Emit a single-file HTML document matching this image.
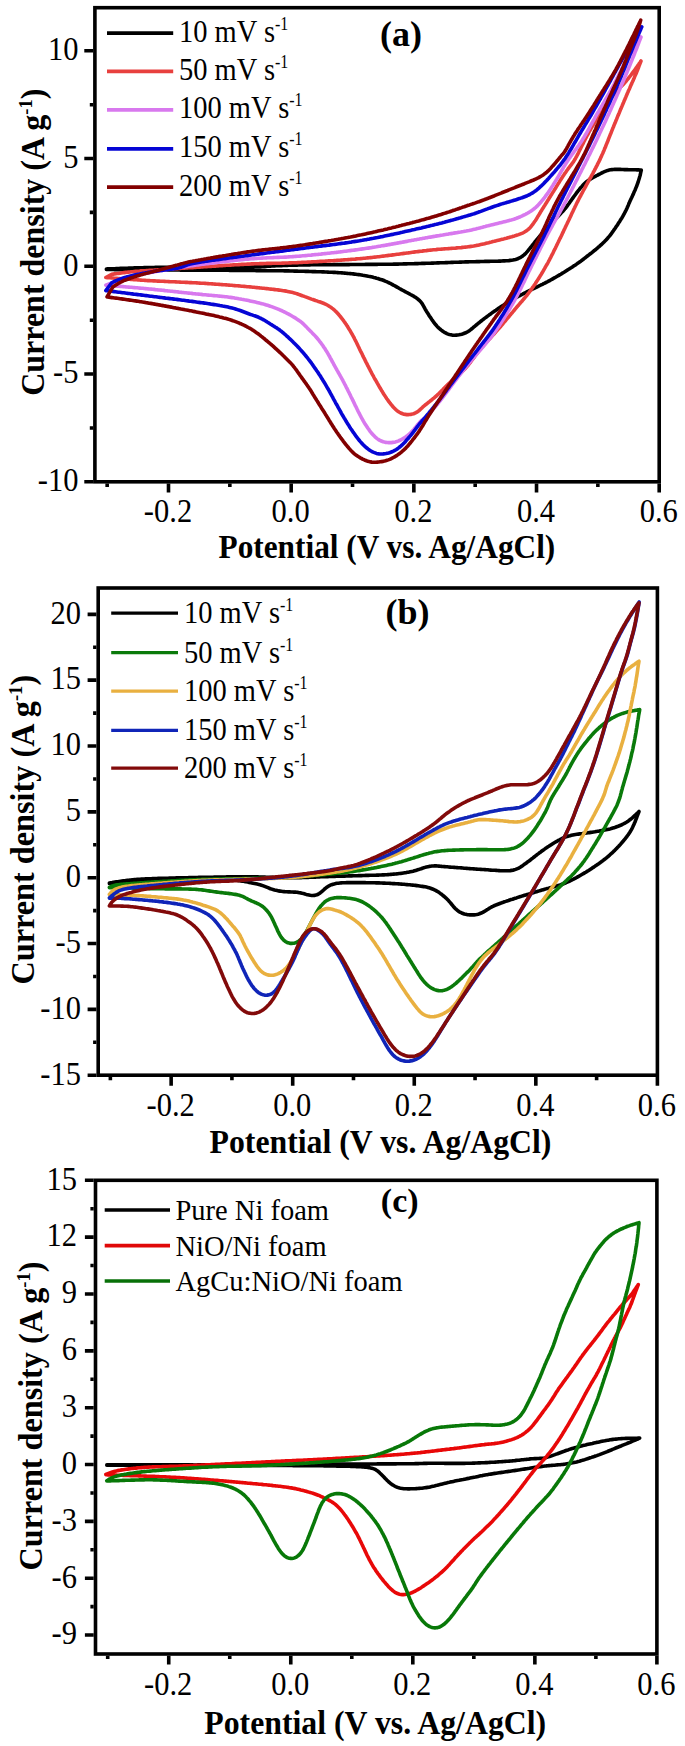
<!DOCTYPE html>
<html><head><meta charset="utf-8"><style>
html,body{margin:0;padding:0;background:#fff;}
svg{display:block;}
.t{font-family:"Liberation Serif", serif;font-size:30px;fill:#000;}
.tk{font-family:"Liberation Serif", serif;font-size:33px;fill:#000;}
.lg{font-family:"Liberation Serif", serif;font-size:32px;fill:#000;}
.lsup{font-size:18px;}
.lg30{font-family:"Liberation Serif", serif;font-size:30px;fill:#000;}
.b{font-family:"Liberation Serif", serif;font-size:33.5px;font-weight:bold;fill:#000;}
.yb{font-family:"Liberation Serif", serif;font-size:33px;font-weight:bold;fill:#000;}
.p{font-family:"Liberation Serif", serif;font-size:36px;font-weight:bold;fill:#000;}
.sup{font-size:19px;}
</style></head><body>
<svg width="685" height="1746" viewBox="0 0 685 1746">
<rect width="685" height="1746" fill="#fff"/>
<path d="M106.4 269.0L107.8 268.9 109.2 268.9 110.6 268.8 112.0 268.8 113.4 268.7 114.8 268.7 116.2 268.6 117.6 268.6 119.0 268.5 120.4 268.4 121.8 268.4 123.2 268.3 124.6 268.3 126.0 268.2 127.4 268.2 128.8 268.1 130.2 268.1 131.6 268.0 133.0 268.0 134.4 267.9 135.8 267.9 137.2 267.8 138.6 267.8 140.0 267.7 141.4 267.7 142.8 267.7 144.2 267.6 145.6 267.6 147.0 267.6 148.4 267.5 149.9 267.5 151.3 267.5 152.7 267.5 154.1 267.5 155.5 267.4 156.9 267.4 158.3 267.4 159.7 267.4 161.1 267.4 162.5 267.4 163.9 267.4 165.3 267.4 166.7 267.4 168.1 267.4 169.5 267.4 170.9 267.4 172.3 267.4 173.7 267.4 175.1 267.4 176.5 267.4 177.9 267.5 179.3 267.5 180.7 267.5 182.1 267.5 183.5 267.5 184.9 267.5 186.3 267.5 187.7 267.5 189.1 267.5 190.5 267.5 191.9 267.5 193.3 267.5 194.7 267.5 196.1 267.5 197.5 267.5 198.9 267.5 200.3 267.5 201.7 267.5 203.1 267.5 204.5 267.5 205.9 267.5 207.4 267.5 208.8 267.5 210.2 267.5 211.6 267.4 213.0 267.4 214.4 267.4 215.8 267.4 217.2 267.4 218.6 267.4 220.0 267.4 221.4 267.4 222.8 267.4 224.2 267.4 225.6 267.4 227.0 267.4 228.4 267.3 229.8 267.3 231.2 267.3 232.6 267.3 234.0 267.3 235.4 267.3 236.8 267.2 238.2 267.2 239.6 267.2 241.0 267.2 242.4 267.2 243.8 267.1 245.2 267.1 246.6 267.1 248.0 267.0 249.4 267.0 250.8 267.0 252.2 266.9 253.6 266.9 255.0 266.8 256.4 266.8 257.8 266.7 259.2 266.7 260.6 266.6 262.0 266.5 263.4 266.5 264.8 266.4 266.2 266.3 267.6 266.3 269.0 266.2 270.4 266.1 271.8 266.0 273.2 266.0 274.6 265.9 276.0 265.8 277.4 265.8 278.8 265.7 280.2 265.6 281.6 265.6 283.0 265.5 284.5 265.5 285.9 265.4 287.3 265.4 288.7 265.3 290.1 265.3 291.5 265.2 292.9 265.2 294.3 265.1 295.7 265.1 297.1 265.1 298.5 265.0 299.9 265.0 301.3 265.0 302.7 265.0 304.1 264.9 305.5 264.9 306.9 264.9 308.3 264.9 309.7 264.9 311.1 264.8 312.5 264.8 313.9 264.8 315.3 264.8 316.7 264.8 318.1 264.8 319.5 264.7 320.9 264.7 322.3 264.7 323.7 264.7 325.1 264.7 326.5 264.7 327.9 264.7 329.3 264.7 330.7 264.7 332.1 264.7 333.5 264.6 334.9 264.6 336.3 264.6 337.7 264.6 339.1 264.6 340.5 264.6 341.9 264.6 343.3 264.6 344.7 264.6 346.2 264.6 347.6 264.6 349.0 264.6 350.4 264.5 351.8 264.5 353.2 264.5 354.6 264.5 356.0 264.5 357.4 264.5 358.8 264.5 360.2 264.5 361.6 264.5 363.0 264.5 364.4 264.5 365.8 264.4 367.2 264.4 368.6 264.4 370.0 264.4 371.4 264.4 372.8 264.4 374.2 264.4 375.6 264.4 377.0 264.4 378.4 264.3 379.8 264.3 381.2 264.3 382.6 264.3 384.0 264.3 385.4 264.3 386.8 264.2 388.2 264.2 389.6 264.2 391.0 264.2 392.4 264.2 393.8 264.1 395.2 264.1 396.6 264.1 398.0 264.1 399.4 264.0 400.8 264.0 402.2 264.0 403.6 263.9 405.1 263.9 406.5 263.9 407.9 263.8 409.3 263.8 410.7 263.8 412.1 263.7 413.5 263.7 414.9 263.6 416.3 263.6 417.7 263.6 419.1 263.5 420.5 263.5 421.9 263.4 423.3 263.4 424.7 263.4 426.1 263.3 427.5 263.3 428.9 263.2 430.3 263.2 431.7 263.1 433.1 263.1 434.5 263.0 435.9 263.0 437.3 262.9 438.7 262.9 440.1 262.8 441.5 262.8 442.9 262.7 444.3 262.7 445.7 262.6 447.1 262.6 448.5 262.5 449.9 262.5 451.3 262.4 452.7 262.4 454.1 262.3 455.5 262.3 456.9 262.2 458.3 262.2 459.7 262.1 461.1 262.1 462.5 262.0 463.9 262.0 465.3 261.9 466.7 261.9 468.1 261.9 469.5 261.8 470.9 261.8 472.3 261.7 473.7 261.7 475.1 261.7 476.5 261.6 477.9 261.6 479.3 261.6 480.7 261.5 482.1 261.5 483.6 261.5 485.0 261.4 486.4 261.4 487.8 261.4 489.2 261.4 490.6 261.3 492.0 261.3 493.4 261.3 494.8 261.2 496.2 261.2 497.6 261.2 499.0 261.1 500.4 261.1 501.8 261.0 503.2 260.9 504.6 260.9 506.0 260.8 507.4 260.7 508.8 260.6 510.2 260.4 511.6 260.2 512.9 260.0 514.3 259.7 515.6 259.4 517.0 259.0 518.3 258.5 519.5 257.9 520.7 257.3 521.9 256.5 523.0 255.7 524.1 254.8 525.1 253.9 526.1 252.9 527.0 251.9 527.9 250.8 528.8 249.7 529.7 248.6 530.6 247.5 531.5 246.4 532.3 245.3 533.2 244.2 534.1 243.1 534.9 242.0 535.8 240.9 536.7 239.8 537.6 238.8 538.5 237.7 539.4 236.6 540.3 235.5 541.2 234.5 542.1 233.4 543.1 232.4 544.0 231.3 544.9 230.3 545.9 229.2 546.8 228.2 547.8 227.2 548.7 226.1 549.6 225.1 550.6 224.1 551.5 223.0 552.5 222.0 553.5 221.0 554.4 220.0 555.4 219.0 556.4 218.0 557.4 217.0 558.4 216.0 559.3 215.0 560.3 214.0 561.3 212.9 562.2 211.9 563.2 210.9 564.1 209.8 565.0 208.7 565.9 207.7 566.7 206.6 567.6 205.4 568.4 204.3 569.2 203.2 570.0 202.0 570.8 200.9 571.6 199.7 572.4 198.6 573.3 197.4 574.1 196.3 574.9 195.2 575.8 194.0 576.6 192.9 577.4 191.8 578.3 190.7 579.2 189.6 580.0 188.5 580.9 187.4 581.9 186.4 582.8 185.3 583.8 184.3 584.8 183.3 585.8 182.4 586.9 181.5 588.0 180.7 589.1 179.9 590.3 179.1 591.5 178.4 592.7 177.7 593.9 177.0 595.2 176.4 596.4 175.7 597.7 175.1 598.9 174.4 600.2 173.8 601.4 173.1 602.7 172.5 603.9 171.9 605.2 171.4 606.5 170.9 607.8 170.4 609.2 170.1 610.5 169.8 611.9 169.6 613.3 169.5 614.7 169.4 616.1 169.4 617.5 169.4 618.9 169.4 620.3 169.4 621.7 169.5 623.1 169.5 624.5 169.6 625.9 169.6 627.3 169.6 628.7 169.7 630.1 169.7 631.5 169.7 632.9 169.8 634.3 169.8 635.7 169.8 637.1 169.9 638.5 169.9 639.9 170.0 641.3 170.0L641.3 170.0L641.0 171.4 640.7 172.7 640.4 174.1 640.1 175.5 639.7 176.8 639.3 178.2 638.9 179.5 638.5 180.8 638.1 182.2 637.6 183.5 637.1 184.8 636.7 186.1 636.1 187.4 635.6 188.7 635.1 190.0 634.5 191.3 633.9 192.6 633.4 193.9 632.8 195.1 632.2 196.4 631.6 197.7 631.0 198.9 630.4 200.2 629.8 201.5 629.3 202.8 628.7 204.1 628.2 205.4 627.6 206.7 627.1 207.9 626.5 209.2 625.9 210.5 625.3 211.7 624.6 213.0 624.0 214.2 623.3 215.4 622.6 216.7 621.9 217.9 621.1 219.1 620.4 220.2 619.7 221.4 618.9 222.6 618.1 223.8 617.4 225.0 616.6 226.1 615.8 227.3 615.0 228.5 614.2 229.6 613.4 230.8 612.6 231.9 611.8 233.0 611.0 234.2 610.1 235.3 609.2 236.4 608.3 237.4 607.4 238.5 606.5 239.5 605.5 240.6 604.5 241.6 603.5 242.5 602.5 243.5 601.5 244.5 600.4 245.4 599.4 246.3 598.3 247.2 597.3 248.2 596.2 249.1 595.1 250.0 594.0 250.8 593.0 251.7 591.9 252.6 590.7 253.5 589.6 254.3 588.5 255.2 587.4 256.0 586.3 256.9 585.2 257.8 584.1 258.6 583.0 259.5 581.9 260.3 580.8 261.2 579.6 262.0 578.5 262.8 577.3 263.6 576.2 264.4 575.0 265.2 573.8 265.9 572.7 266.7 571.5 267.5 570.3 268.2 569.1 269.0 567.9 269.7 566.7 270.5 565.6 271.2 564.4 272.0 563.2 272.7 562.0 273.4 560.8 274.2 559.6 274.9 558.4 275.6 557.2 276.3 556.0 277.0 554.8 277.7 553.5 278.4 552.3 279.1 551.1 279.8 549.9 280.5 548.6 281.1 547.4 281.8 546.1 282.4 544.9 283.1 543.6 283.7 542.4 284.3 541.1 284.9 539.9 285.5 538.6 286.2 537.3 286.8 536.1 287.4 534.8 288.0 533.6 288.6 532.3 289.2 531.0 289.9 529.8 290.5 528.5 291.1 527.3 291.7 526.0 292.4 524.8 293.0 523.5 293.6 522.3 294.3 521.0 294.9 519.8 295.6 518.6 296.2 517.3 296.9 516.1 297.6 514.9 298.3 513.7 299.0 512.5 299.7 511.2 300.4 510.0 301.1 508.8 301.8 507.6 302.6 506.4 303.3 505.2 304.0 504.1 304.8 502.9 305.5 501.7 306.3 500.5 307.1 499.4 307.8 498.2 308.6 497.0 309.4 495.9 310.2 494.7 311.0 493.6 311.8 492.4 312.6 491.3 313.4 490.2 314.3 489.0 315.1 487.9 315.9 486.8 316.7 485.6 317.6 484.5 318.4 483.4 319.3 482.3 320.1 481.2 321.0 480.1 321.9 479.0 322.8 477.9 323.6 476.9 324.5 475.8 325.4 474.7 326.3 473.6 327.2 472.6 328.1 471.5 329.0 470.4 329.9 469.3 330.7 468.1 331.5 466.9 332.2 465.7 332.8 464.4 333.3 463.1 333.8 461.8 334.2 460.4 334.5 459.0 334.8 457.7 335.0 456.3 335.1 454.9 335.2 453.5 335.2 452.1 335.1 450.8 334.8 449.4 334.5 448.1 334.1 446.9 333.6 445.6 332.9 444.4 332.3 443.2 331.5 442.1 330.7 441.0 329.9 439.9 329.0 438.9 328.1 437.8 327.1 436.9 326.1 436.0 325.0 435.1 324.0 434.2 322.9 433.4 321.7 432.6 320.6 431.8 319.5 431.0 318.3 430.2 317.1 429.4 316.0 428.7 314.8 427.9 313.6 427.2 312.4 426.4 311.2 425.7 310.0 425.0 308.8 424.4 307.6 423.7 306.3 423.0 305.1 422.3 303.9 421.5 302.8 420.7 301.7 419.7 300.7 418.7 299.8 417.7 298.9 416.5 298.1 415.4 297.3 414.2 296.6 413.0 295.8 411.8 295.2 410.5 294.5 409.3 293.8 408.1 293.2 406.8 292.5 405.6 291.9 404.4 291.2 403.1 290.5 401.9 289.9 400.7 289.2 399.4 288.5 398.2 287.8 397.0 287.1 395.8 286.4 394.6 285.7 393.3 285.1 392.1 284.4 390.9 283.7 389.6 283.1 388.3 282.5 387.1 281.9 385.8 281.4 384.5 280.8 383.2 280.3 381.9 279.8 380.5 279.4 379.2 279.0 377.9 278.5 376.5 278.2 375.2 277.8 373.8 277.5 372.4 277.1 371.1 276.8 369.7 276.5 368.3 276.3 367.0 276.0 365.6 275.7 364.2 275.5 362.8 275.3 361.4 275.0 360.0 274.8 358.7 274.6 357.3 274.5 355.9 274.3 354.5 274.1 353.1 273.9 351.7 273.8 350.3 273.6 348.9 273.5 347.5 273.4 346.1 273.2 344.7 273.1 343.3 273.0 341.9 272.9 340.5 272.8 339.1 272.7 337.7 272.6 336.3 272.5 334.9 272.4 333.5 272.4 332.1 272.3 330.7 272.2 329.3 272.2 327.9 272.1 326.5 272.0 325.1 272.0 323.7 271.9 322.3 271.9 320.9 271.8 319.5 271.8 318.1 271.7 316.7 271.7 315.3 271.6 313.9 271.6 312.5 271.6 311.1 271.5 309.7 271.5 308.3 271.4 306.9 271.4 305.5 271.4 304.1 271.3 302.7 271.3 301.3 271.2 299.9 271.2 298.5 271.2 297.1 271.1 295.7 271.1 294.3 271.1 292.9 271.0 291.5 271.0 290.1 271.0 288.7 270.9 287.3 270.9 285.9 270.9 284.5 270.9 283.1 270.8 281.7 270.8 280.3 270.8 278.9 270.8 277.5 270.8 276.1 270.7 274.7 270.7 273.3 270.7 271.9 270.7 270.5 270.7 269.1 270.7 267.7 270.7 266.3 270.6 264.8 270.6 263.4 270.6 262.0 270.6 260.6 270.6 259.2 270.6 257.8 270.6 256.4 270.6 255.0 270.5 253.6 270.5 252.2 270.5 250.8 270.5 249.4 270.5 248.0 270.5 246.6 270.5 245.2 270.5 243.8 270.4 242.4 270.4 241.0 270.4 239.6 270.4 238.2 270.4 236.8 270.4 235.4 270.4 234.0 270.4 232.6 270.4 231.2 270.4 229.8 270.4 228.4 270.3 227.0 270.3 225.6 270.3 224.2 270.3 222.8 270.3 221.4 270.3 220.0 270.3 218.6 270.3 217.2 270.3 215.8 270.3 214.4 270.3 213.0 270.3 211.6 270.3 210.2 270.3 208.8 270.3 207.4 270.2 206.0 270.2 204.6 270.2 203.2 270.2 201.7 270.2 200.3 270.2 198.9 270.2 197.5 270.2 196.1 270.2 194.7 270.2 193.3 270.2 191.9 270.1 190.5 270.1 189.1 270.1 187.7 270.1 186.3 270.1 184.9 270.1 183.5 270.1 182.1 270.1 180.7 270.1 179.3 270.0 177.9 270.0 176.5 270.0 175.1 270.0 173.7 270.0 172.3 270.0 170.9 270.0 169.5 270.0 168.1 269.9 166.7 269.9 165.3 269.9 163.9 269.9 162.5 269.9 161.1 269.9 159.7 269.9 158.3 269.9 156.9 269.9 155.5 269.8 154.1 269.8 152.7 269.8 151.3 269.8 149.9 269.8 148.5 269.8 147.1 269.8 145.7 269.8 144.3 269.8 142.9 269.7 141.5 269.7 140.1 269.7 138.7 269.7 137.2 269.7 135.8 269.7 134.4 269.7 133.0 269.7 131.6 269.7 130.2 269.7 128.8 269.7 127.4 269.6 126.0 269.6 124.6 269.6 123.2 269.6 121.8 269.6 120.4 269.6 119.0 269.6 117.6 269.6 116.2 269.6 114.8 269.6 113.4 269.5 112.0 269.5 110.6 269.5 109.2 269.5 107.8 269.5 106.4 269.5L106.4 269.0" stroke="#000" stroke-width="3.6" fill="none" stroke-linejoin="round" stroke-linecap="round"/>
<path d="M111.7 274.3L113.1 274.1 114.5 273.9 115.9 273.7 117.3 273.5 118.7 273.4 120.0 273.2 121.4 273.0 122.8 272.8 124.2 272.6 125.6 272.4 127.0 272.3 128.4 272.1 129.8 272.0 131.2 271.8 132.6 271.7 134.0 271.5 135.4 271.4 136.8 271.3 138.2 271.2 139.6 271.1 141.0 270.9 142.4 270.9 143.8 270.8 145.2 270.7 146.6 270.6 148.0 270.5 149.4 270.4 150.8 270.3 152.2 270.3 153.6 270.2 155.0 270.1 156.4 270.0 157.8 269.9 159.2 269.9 160.6 269.8 162.0 269.7 163.4 269.6 164.8 269.5 166.2 269.4 167.6 269.3 169.0 269.2 170.4 269.1 171.8 269.0 173.2 268.9 174.6 268.8 176.0 268.7 177.4 268.6 178.8 268.5 180.2 268.4 181.6 268.3 183.0 268.2 184.4 268.1 185.8 268.0 187.2 267.9 188.6 267.8 190.0 267.8 191.4 267.7 192.8 267.6 194.2 267.5 195.6 267.4 197.0 267.3 198.4 267.2 199.8 267.1 201.2 267.0 202.6 266.9 204.0 266.8 205.4 266.7 206.8 266.6 208.2 266.5 209.6 266.4 211.0 266.4 212.4 266.3 213.8 266.2 215.2 266.1 216.6 266.0 218.0 265.9 219.4 265.8 220.8 265.7 222.2 265.6 223.6 265.5 225.0 265.4 226.4 265.3 227.8 265.3 229.2 265.2 230.6 265.1 232.0 265.0 233.4 264.9 234.8 264.8 236.2 264.7 237.6 264.7 239.0 264.6 240.4 264.5 241.8 264.4 243.2 264.4 244.6 264.3 246.0 264.2 247.4 264.1 248.8 264.1 250.2 264.0 251.6 263.9 253.0 263.9 254.4 263.8 255.8 263.8 257.2 263.7 258.6 263.7 260.0 263.6 261.4 263.6 262.8 263.6 264.2 263.5 265.6 263.5 267.0 263.4 268.4 263.4 269.8 263.4 271.2 263.4 272.6 263.3 274.0 263.3 275.4 263.3 276.8 263.2 278.2 263.2 279.6 263.2 281.0 263.2 282.4 263.1 283.8 263.1 285.2 263.0 286.6 263.0 288.0 263.0 289.4 262.9 290.8 262.9 292.2 262.8 293.6 262.8 295.0 262.7 296.4 262.7 297.8 262.6 299.2 262.5 300.6 262.5 302.0 262.4 303.4 262.3 304.8 262.3 306.2 262.2 307.6 262.1 309.1 262.0 310.5 262.0 311.9 261.9 313.3 261.8 314.7 261.7 316.1 261.7 317.5 261.6 318.9 261.5 320.3 261.4 321.7 261.4 323.1 261.3 324.5 261.2 325.9 261.1 327.3 261.0 328.7 260.9 330.1 260.9 331.5 260.8 332.9 260.7 334.3 260.6 335.7 260.5 337.1 260.4 338.5 260.3 339.9 260.2 341.3 260.1 342.7 260.0 344.1 259.9 345.5 259.8 346.9 259.7 348.3 259.6 349.7 259.5 351.1 259.4 352.5 259.3 353.9 259.2 355.2 259.1 356.6 258.9 358.0 258.8 359.4 258.7 360.8 258.6 362.2 258.5 363.6 258.3 365.0 258.2 366.4 258.0 367.8 257.9 369.2 257.8 370.6 257.6 372.0 257.5 373.4 257.3 374.8 257.1 376.2 257.0 377.6 256.8 379.0 256.7 380.4 256.5 381.8 256.3 383.2 256.1 384.5 256.0 385.9 255.8 387.3 255.6 388.7 255.4 390.1 255.3 391.5 255.1 392.9 254.9 394.3 254.7 395.7 254.5 397.1 254.3 398.5 254.2 399.8 254.0 401.2 253.8 402.6 253.6 404.0 253.4 405.4 253.2 406.8 253.0 408.2 252.9 409.6 252.7 411.0 252.5 412.4 252.3 413.8 252.1 415.1 251.9 416.5 251.8 417.9 251.6 419.3 251.4 420.7 251.2 422.1 251.1 423.5 250.9 424.9 250.7 426.3 250.6 427.7 250.4 429.1 250.3 430.5 250.1 431.9 250.0 433.3 249.8 434.7 249.7 436.1 249.6 437.4 249.4 438.8 249.3 440.2 249.2 441.6 249.1 443.0 249.0 444.4 248.9 445.8 248.8 447.2 248.7 448.6 248.6 450.0 248.5 451.4 248.4 452.8 248.3 454.2 248.2 455.6 248.1 457.0 247.9 458.4 247.8 459.8 247.7 461.2 247.6 462.6 247.4 464.0 247.3 465.4 247.1 466.8 247.0 468.2 246.8 469.6 246.6 471.0 246.4 472.4 246.2 473.7 246.0 475.1 245.7 476.5 245.4 477.9 245.2 479.2 244.9 480.6 244.6 482.0 244.3 483.4 244.0 484.7 243.7 486.1 243.3 487.4 243.0 488.8 242.7 490.2 242.3 491.5 242.0 492.9 241.6 494.2 241.3 495.6 240.9 497.0 240.6 498.3 240.2 499.7 239.9 501.0 239.6 502.4 239.2 503.8 238.9 505.1 238.5 506.5 238.2 507.8 237.8 509.2 237.4 510.5 237.0 511.9 236.7 513.2 236.3 514.6 235.9 515.9 235.4 517.3 235.0 518.6 234.6 519.9 234.1 521.2 233.6 522.5 233.1 523.7 232.5 524.9 231.8 526.1 231.0 527.2 230.2 528.3 229.3 529.3 228.4 530.3 227.4 531.2 226.3 532.1 225.2 532.9 224.1 533.7 223.0 534.5 221.8 535.3 220.7 536.1 219.5 536.8 218.3 537.5 217.1 538.2 215.9 539.0 214.7 539.7 213.5 540.4 212.3 541.2 211.1 541.9 209.9 542.6 208.7 543.4 207.5 544.1 206.3 544.9 205.2 545.6 204.0 546.4 202.8 547.1 201.6 547.8 200.4 548.6 199.2 549.3 198.0 550.1 196.8 550.8 195.6 551.6 194.4 552.3 193.2 553.0 192.1 553.8 190.9 554.5 189.7 555.3 188.5 556.0 187.3 556.7 186.1 557.5 184.9 558.2 183.7 559.0 182.5 559.7 181.3 560.5 180.1 561.2 179.0 562.0 177.8 562.7 176.6 563.5 175.5 564.3 174.3 565.1 173.1 565.9 172.0 566.7 170.8 567.5 169.7 568.3 168.5 569.2 167.4 570.0 166.3 570.9 165.2 571.7 164.1 572.5 163.0 573.4 161.8 574.1 160.7 574.8 159.5 575.5 158.3 576.2 157.0 576.9 155.8 577.5 154.6 578.2 153.3 578.8 152.1 579.4 150.8 580.0 149.5 580.7 148.3 581.3 147.0 581.9 145.8 582.5 144.5 583.2 143.3 583.8 142.0 584.4 140.8 585.1 139.5 585.7 138.3 586.4 137.0 587.0 135.8 587.7 134.6 588.4 133.3 589.0 132.1 589.7 130.9 590.4 129.6 591.1 128.4 591.8 127.2 592.5 126.0 593.2 124.8 593.9 123.6 594.6 122.4 595.3 121.2 596.1 120.0 596.8 118.8 597.5 117.6 598.3 116.4 599.0 115.2 599.8 114.0 600.5 112.8 601.3 111.6 602.0 110.5 602.8 109.3 603.6 108.1 604.4 106.9 605.2 105.8 606.0 104.6 606.8 103.5 607.6 102.3 608.4 101.2 609.2 100.1 610.0 98.9 610.9 97.8 611.7 96.7 612.6 95.6 613.5 94.5 614.4 93.4 615.3 92.4 616.2 91.3 617.2 90.3 618.2 89.3 619.2 88.4 620.2 87.4 621.2 86.4 622.2 85.4 623.2 84.4 624.2 83.4 625.1 82.4 626.0 81.3 626.9 80.2 627.8 79.1 628.7 78.0 629.5 76.9 630.4 75.8 631.2 74.7 632.0 73.6 632.9 72.4 633.7 71.3 634.5 70.2 635.4 69.0 636.2 67.9 637.0 66.7 637.8 65.6 638.6 64.5 639.4 63.3 640.2 62.2 641.0 61.0L641.0 61.0L640.5 62.3 640.0 63.6 639.5 64.9 639.0 66.2 638.5 67.6 638.0 68.9 637.5 70.2 636.9 71.5 636.4 72.8 635.9 74.0 635.3 75.3 634.7 76.6 634.2 77.9 633.6 79.2 633.1 80.5 632.5 81.8 631.9 83.0 631.4 84.3 630.8 85.6 630.2 86.9 629.7 88.2 629.1 89.5 628.5 90.7 628.0 92.0 627.4 93.3 626.9 94.6 626.3 95.9 625.8 97.2 625.2 98.5 624.7 99.8 624.1 101.1 623.6 102.4 623.1 103.6 622.5 104.9 622.0 106.2 621.4 107.5 620.9 108.8 620.3 110.1 619.8 111.4 619.3 112.7 618.7 114.0 618.2 115.3 617.6 116.6 617.1 117.9 616.6 119.2 616.0 120.5 615.5 121.8 615.0 123.1 614.4 124.4 613.9 125.7 613.4 127.0 612.8 128.3 612.3 129.6 611.8 130.9 611.3 132.2 610.8 133.5 610.2 134.8 609.7 136.1 609.2 137.4 608.7 138.7 608.2 140.0 607.7 141.3 607.2 142.6 606.6 143.9 606.1 145.2 605.6 146.5 605.1 147.8 604.5 149.1 604.0 150.4 603.4 151.7 602.9 153.0 602.3 154.3 601.7 155.5 601.2 156.8 600.6 158.1 600.0 159.4 599.4 160.6 598.8 161.9 598.1 163.1 597.5 164.4 596.9 165.6 596.2 166.9 595.6 168.1 594.9 169.4 594.3 170.6 593.6 171.9 593.0 173.1 592.3 174.3 591.6 175.6 591.0 176.8 590.3 178.0 589.6 179.2 588.9 180.5 588.3 181.7 587.6 182.9 586.9 184.2 586.2 185.4 585.6 186.6 584.9 187.9 584.2 189.1 583.5 190.3 582.9 191.5 582.2 192.8 581.5 194.0 580.9 195.3 580.2 196.5 579.6 197.7 578.9 199.0 578.3 200.2 577.7 201.5 577.0 202.7 576.4 204.0 575.8 205.3 575.2 206.5 574.6 207.8 574.0 209.0 573.4 210.3 572.8 211.6 572.2 212.8 571.6 214.1 571.0 215.4 570.4 216.7 569.8 217.9 569.2 219.2 568.6 220.5 568.0 221.7 567.4 223.0 566.8 224.3 566.2 225.5 565.6 226.8 565.0 228.1 564.4 229.3 563.8 230.6 563.2 231.9 562.6 233.1 562.0 234.4 561.4 235.7 560.8 236.9 560.2 238.2 559.5 239.5 558.9 240.7 558.3 242.0 557.7 243.2 557.1 244.5 556.5 245.8 555.9 247.0 555.3 248.3 554.6 249.5 554.0 250.8 553.4 252.1 552.8 253.3 552.1 254.6 551.5 255.8 550.9 257.1 550.2 258.3 549.6 259.6 548.9 260.8 548.3 262.0 547.6 263.3 546.9 264.5 546.2 265.7 545.5 266.9 544.8 268.2 544.1 269.4 543.4 270.6 542.7 271.8 542.0 273.0 541.3 274.2 540.5 275.4 539.8 276.6 539.1 277.8 538.3 279.0 537.6 280.1 536.8 281.3 536.0 282.5 535.3 283.7 534.5 284.8 533.7 286.0 532.9 287.1 532.1 288.3 531.3 289.4 530.5 290.6 529.6 291.7 528.8 292.8 527.9 293.9 527.1 295.0 526.2 296.1 525.3 297.2 524.4 298.3 523.5 299.3 522.6 300.4 521.7 301.5 520.7 302.5 519.8 303.6 518.9 304.7 518.0 305.7 517.1 306.8 516.2 307.8 515.3 308.9 514.4 310.0 513.5 311.1 512.6 312.2 511.7 313.2 510.8 314.3 509.9 315.4 509.0 316.5 508.1 317.6 507.2 318.6 506.3 319.7 505.4 320.8 504.5 321.9 503.6 322.9 502.7 324.0 501.8 325.1 500.9 326.2 500.0 327.2 499.1 328.3 498.1 329.3 497.2 330.4 496.3 331.4 495.3 332.5 494.4 333.5 493.5 334.6 492.5 335.6 491.6 336.6 490.6 337.7 489.7 338.7 488.7 339.7 487.8 340.8 486.8 341.8 485.9 342.8 485.0 343.9 484.0 344.9 483.1 346.0 482.2 347.0 481.3 348.1 480.4 349.2 479.5 350.3 478.6 351.4 477.7 352.5 476.9 353.6 476.0 354.7 475.2 355.8 474.4 357.0 473.5 358.1 472.7 359.2 471.9 360.3 471.0 361.5 470.2 362.6 469.3 363.7 468.5 364.8 467.6 365.9 466.7 366.9 465.7 368.0 464.8 369.0 463.8 370.0 462.8 371.0 461.8 372.0 460.8 372.9 459.7 373.8 458.7 374.8 457.6 375.7 456.5 376.6 455.5 377.5 454.4 378.4 453.4 379.3 452.3 380.3 451.3 381.2 450.3 382.2 449.3 383.2 448.3 384.1 447.3 385.1 446.3 386.1 445.3 387.1 444.3 388.1 443.3 389.1 442.4 390.1 441.4 391.1 440.4 392.1 439.4 393.1 438.4 394.1 437.3 395.0 436.3 396.0 435.2 396.9 434.2 397.8 433.1 398.7 432.0 399.6 430.9 400.5 429.8 401.4 428.7 402.2 427.6 403.1 426.5 404.0 425.4 404.8 424.4 405.7 423.3 406.6 422.3 407.6 421.3 408.5 420.3 409.4 419.3 410.3 418.3 411.2 417.2 411.9 416.0 412.6 414.8 413.2 413.5 413.7 412.2 414.1 410.8 414.4 409.5 414.5 408.1 414.6 406.7 414.6 405.4 414.4 404.0 414.2 402.7 413.8 401.4 413.3 400.2 412.7 399.0 412.0 397.8 411.2 396.7 410.4 395.7 409.5 394.7 408.5 393.7 407.5 392.8 406.5 391.9 405.4 391.0 404.3 390.1 403.2 389.3 402.1 388.4 401.0 387.6 399.8 386.8 398.7 386.0 397.5 385.3 396.4 384.5 395.2 383.7 394.0 383.0 392.8 382.3 391.6 381.5 390.4 380.8 389.2 380.1 388.0 379.4 386.8 378.7 385.6 378.0 384.4 377.3 383.2 376.6 381.9 375.9 380.7 375.2 379.5 374.5 378.3 373.8 377.0 373.2 375.8 372.5 374.6 371.8 373.3 371.2 372.1 370.5 370.9 369.9 369.6 369.2 368.4 368.6 367.1 367.9 365.9 367.3 364.6 366.7 363.4 366.0 362.1 365.4 360.9 364.8 359.6 364.2 358.4 363.5 357.1 362.9 355.9 362.3 354.6 361.7 353.3 361.1 352.1 360.4 350.8 359.8 349.6 359.2 348.3 358.6 347.0 358.0 345.8 357.4 344.5 356.8 343.2 356.2 342.0 355.5 340.7 354.9 339.5 354.3 338.2 353.6 337.0 353.0 335.8 352.3 334.5 351.6 333.3 350.9 332.1 350.2 330.9 349.5 329.7 348.7 328.5 348.0 327.3 347.2 326.1 346.5 324.9 345.7 323.8 344.9 322.6 344.1 321.5 343.3 320.3 342.4 319.2 341.6 318.1 340.7 317.0 339.8 315.9 338.9 314.8 338.0 313.8 337.1 312.8 336.1 311.7 335.1 310.8 334.1 309.8 333.0 308.9 331.9 308.1 330.8 307.2 329.6 306.5 328.4 305.7 327.2 305.0 326.0 304.4 324.7 303.8 323.4 303.3 322.1 302.8 320.8 302.3 319.5 301.8 318.1 301.4 316.8 300.9 315.5 300.5 314.2 300.0 312.8 299.5 311.5 299.1 310.2 298.6 308.9 298.1 307.6 297.6 306.3 297.1 304.9 296.6 303.6 296.1 302.3 295.7 301.0 295.2 299.7 294.7 298.3 294.3 297.0 293.8 295.7 293.4 294.3 293.0 293.0 292.6 291.6 292.3 290.3 292.0 288.9 291.7 287.5 291.4 286.1 291.1 284.8 290.9 283.4 290.7 282.0 290.5 280.6 290.3 279.2 290.1 277.8 289.9 276.4 289.8 275.0 289.6 273.6 289.4 272.2 289.3 270.8 289.1 269.5 289.0 268.1 288.8 266.7 288.6 265.3 288.5 263.9 288.3 262.5 288.2 261.1 288.0 259.7 287.9 258.3 287.7 256.9 287.6 255.5 287.5 254.1 287.3 252.7 287.2 251.3 287.0 249.9 286.9 248.5 286.8 247.1 286.7 245.7 286.5 244.3 286.4 242.9 286.3 241.5 286.2 240.1 286.0 238.8 285.9 237.4 285.8 236.0 285.7 234.6 285.6 233.2 285.5 231.8 285.3 230.4 285.2 229.0 285.1 227.6 285.0 226.2 284.9 224.8 284.8 223.4 284.7 222.0 284.6 220.6 284.5 219.2 284.4 217.8 284.3 216.4 284.2 215.0 284.1 213.6 284.0 212.2 283.9 210.8 283.8 209.4 283.7 208.0 283.6 206.6 283.5 205.2 283.4 203.8 283.3 202.4 283.2 201.0 283.2 199.6 283.1 198.2 283.0 196.8 282.9 195.4 282.8 194.0 282.8 192.6 282.7 191.2 282.6 189.8 282.6 188.4 282.5 187.0 282.4 185.6 282.4 184.2 282.3 182.8 282.2 181.4 282.2 180.0 282.1 178.6 282.0 177.2 282.0 175.8 281.9 174.4 281.8 173.0 281.8 171.6 281.7 170.2 281.7 168.8 281.6 167.4 281.5 166.0 281.5 164.6 281.4 163.2 281.3 161.8 281.3 160.4 281.2 159.0 281.1 157.6 281.1 156.2 281.0 154.8 280.9 153.4 280.9 152.0 280.8 150.6 280.7 149.2 280.6 147.8 280.6 146.4 280.5 145.0 280.4 143.6 280.3 142.2 280.2 140.8 280.1 139.4 280.0 138.0 279.9 136.6 279.8 135.2 279.7 133.8 279.6 132.4 279.5 131.0 279.4 129.6 279.3 128.2 279.2 126.8 279.1 125.4 279.0 124.0 278.9 122.6 278.8 121.2 278.7 119.8 278.6 118.4 278.5 117.0 278.4 115.6 278.3 114.2 278.2 112.8 278.0 111.4 277.9 110.0 277.8 108.6 277.7 107.2 277.6 105.8 277.5L111.7 274.3" stroke="#E8403E" stroke-width="3.6" fill="none" stroke-linejoin="round" stroke-linecap="round"/>
<path d="M111.7 283.0L113.0 282.5 114.3 281.9 115.6 281.4 116.9 280.9 118.2 280.4 119.5 279.9 120.8 279.4 122.2 278.9 123.5 278.5 124.8 278.1 126.2 277.7 127.5 277.4 128.9 277.0 130.2 276.7 131.6 276.3 133.0 276.0 134.3 275.7 135.7 275.4 137.1 275.1 138.4 274.8 139.8 274.5 141.2 274.2 142.6 273.9 143.9 273.7 145.3 273.4 146.7 273.1 148.1 272.9 149.5 272.6 150.8 272.4 152.2 272.1 153.6 271.9 155.0 271.6 156.4 271.4 157.7 271.1 159.1 270.9 160.5 270.6 161.9 270.4 163.3 270.1 164.6 269.9 166.0 269.7 167.4 269.4 168.8 269.2 170.2 269.0 171.6 268.8 172.9 268.5 174.3 268.3 175.7 268.1 177.1 267.9 178.5 267.6 179.9 267.4 181.3 267.2 182.6 267.0 184.0 266.8 185.4 266.6 186.8 266.4 188.2 266.2 189.6 266.0 191.0 265.8 192.4 265.6 193.8 265.4 195.1 265.2 196.5 265.0 197.9 264.9 199.3 264.7 200.7 264.5 202.1 264.3 203.5 264.1 204.9 263.9 206.3 263.8 207.7 263.6 209.1 263.4 210.4 263.2 211.8 263.1 213.2 262.9 214.6 262.7 216.0 262.5 217.4 262.4 218.8 262.2 220.2 262.0 221.6 261.9 223.0 261.7 224.4 261.6 225.8 261.4 227.2 261.2 228.5 261.1 229.9 260.9 231.3 260.8 232.7 260.6 234.1 260.5 235.5 260.3 236.9 260.2 238.3 260.0 239.7 259.9 241.1 259.7 242.5 259.6 243.9 259.5 245.3 259.3 246.7 259.2 248.1 259.1 249.5 259.0 250.9 258.8 252.3 258.7 253.7 258.6 255.1 258.5 256.5 258.4 257.9 258.3 259.3 258.2 260.7 258.2 262.1 258.1 263.5 258.0 264.9 258.0 266.3 257.9 267.7 257.8 269.1 257.8 270.5 257.7 271.9 257.7 273.3 257.6 274.7 257.5 276.1 257.5 277.5 257.4 278.9 257.4 280.3 257.3 281.7 257.3 283.1 257.2 284.5 257.1 285.9 257.1 287.3 257.0 288.7 256.9 290.1 256.8 291.5 256.7 292.9 256.6 294.3 256.5 295.7 256.4 297.1 256.3 298.5 256.2 299.9 256.1 301.3 256.0 302.7 255.8 304.1 255.7 305.5 255.6 306.9 255.5 308.3 255.3 309.7 255.2 311.1 255.1 312.5 254.9 313.9 254.8 315.2 254.6 316.6 254.5 318.0 254.4 319.4 254.2 320.8 254.1 322.2 253.9 323.6 253.8 325.0 253.6 326.4 253.5 327.8 253.3 329.2 253.2 330.6 253.0 332.0 252.8 333.4 252.7 334.8 252.5 336.2 252.4 337.6 252.2 338.9 252.0 340.3 251.9 341.7 251.7 343.1 251.5 344.5 251.3 345.9 251.2 347.3 251.0 348.7 250.8 350.1 250.6 351.5 250.4 352.9 250.3 354.3 250.1 355.6 249.9 357.0 249.7 358.4 249.5 359.8 249.3 361.2 249.1 362.6 248.9 364.0 248.7 365.4 248.5 366.7 248.3 368.1 248.1 369.5 247.9 370.9 247.7 372.3 247.4 373.7 247.2 375.1 247.0 376.4 246.8 377.8 246.5 379.2 246.3 380.6 246.1 382.0 245.8 383.4 245.6 384.7 245.4 386.1 245.1 387.5 244.9 388.9 244.6 390.3 244.4 391.6 244.1 393.0 243.9 394.4 243.6 395.8 243.4 397.2 243.1 398.5 242.9 399.9 242.6 401.3 242.4 402.7 242.1 404.1 241.9 405.4 241.6 406.8 241.4 408.2 241.1 409.6 240.8 411.0 240.6 412.3 240.3 413.7 240.1 415.1 239.8 416.5 239.6 417.9 239.3 419.2 239.1 420.6 238.8 422.0 238.6 423.4 238.3 424.8 238.1 426.1 237.8 427.5 237.6 428.9 237.3 430.3 237.1 431.7 236.9 433.0 236.6 434.4 236.4 435.8 236.1 437.2 235.9 438.6 235.7 440.0 235.4 441.3 235.2 442.7 235.0 444.1 234.7 445.5 234.5 446.9 234.3 448.3 234.1 449.6 233.8 451.0 233.6 452.4 233.4 453.8 233.1 455.2 232.9 456.6 232.7 457.9 232.4 459.3 232.2 460.7 232.0 462.1 231.7 463.5 231.5 464.9 231.2 466.2 231.0 467.6 230.7 469.0 230.5 470.4 230.2 471.7 229.9 473.1 229.6 474.5 229.3 475.8 229.0 477.2 228.6 478.6 228.3 479.9 227.9 481.3 227.6 482.6 227.2 484.0 226.8 485.3 226.5 486.7 226.1 488.0 225.8 489.4 225.4 490.8 225.1 492.1 224.7 493.5 224.4 494.9 224.1 496.2 223.7 497.6 223.4 498.9 223.1 500.3 222.7 501.7 222.4 503.0 222.1 504.4 221.7 505.7 221.4 507.1 221.1 508.5 220.7 509.8 220.3 511.2 220.0 512.5 219.6 513.9 219.2 515.2 218.7 516.5 218.3 517.8 217.8 519.1 217.2 520.4 216.7 521.7 216.1 522.9 215.5 524.2 214.9 525.5 214.3 526.7 213.6 527.9 213.0 529.1 212.2 530.3 211.5 531.5 210.7 532.6 209.9 533.8 209.1 534.8 208.2 535.9 207.3 536.9 206.3 537.9 205.4 538.9 204.3 539.8 203.3 540.7 202.3 541.6 201.2 542.5 200.1 543.4 199.0 544.3 197.9 545.1 196.8 545.9 195.6 546.8 194.5 547.6 193.4 548.4 192.2 549.2 191.1 549.9 189.9 550.7 188.7 551.5 187.5 552.2 186.4 553.0 185.2 553.7 184.0 554.5 182.8 555.2 181.6 555.9 180.4 556.7 179.2 557.4 178.0 558.1 176.8 558.8 175.6 559.5 174.4 560.2 173.1 560.9 171.9 561.6 170.7 562.3 169.5 563.0 168.3 563.7 167.1 564.4 165.9 565.2 164.7 565.9 163.5 566.7 162.3 567.4 161.1 568.2 160.0 569.0 158.8 569.8 157.7 570.6 156.5 571.4 155.4 572.2 154.2 573.1 153.1 573.9 152.0 574.7 150.8 575.6 149.7 576.4 148.6 577.2 147.4 578.0 146.3 578.8 145.2 579.6 144.0 580.4 142.9 581.2 141.7 582.0 140.5 582.7 139.3 583.5 138.1 584.2 136.9 584.9 135.7 585.6 134.5 586.3 133.3 587.0 132.1 587.7 130.9 588.4 129.7 589.1 128.4 589.7 127.2 590.4 126.0 591.1 124.7 591.8 123.5 592.4 122.3 593.1 121.0 593.8 119.8 594.5 118.6 595.1 117.4 595.8 116.1 596.5 114.9 597.2 113.7 597.9 112.5 598.6 111.3 599.3 110.0 600.0 108.8 600.7 107.6 601.4 106.4 602.2 105.2 602.9 104.0 603.6 102.8 604.3 101.6 605.0 100.4 605.7 99.2 606.4 98.0 607.1 96.8 607.9 95.5 608.5 94.3 609.2 93.1 609.9 91.9 610.6 90.7 611.3 89.4 611.9 88.2 612.6 87.0 613.3 85.7 613.9 84.5 614.5 83.2 615.2 82.0 615.8 80.7 616.4 79.5 617.1 78.2 617.7 77.0 618.3 75.7 619.0 74.5 619.6 73.2 620.2 72.0 620.9 70.7 621.5 69.5 622.2 68.2 622.8 67.0 623.5 65.8 624.2 64.5 624.9 63.3 625.6 62.1 626.3 60.9 627.0 59.7 627.7 58.4 628.4 57.2 629.1 56.0 629.8 54.8 630.6 53.6 631.3 52.4 632.1 51.3 632.8 50.1 633.5 48.9 634.3 47.7 635.0 46.5 635.8 45.3 636.5 44.1 637.3 42.9 638.0 41.7 638.8 40.6 639.5 39.4 640.3 38.2 641.0 37.0L641.0 37.0L640.5 38.3 640.0 39.6 639.5 40.9 639.0 42.2 638.5 43.5 638.0 44.9 637.5 46.2 637.0 47.5 636.5 48.8 636.0 50.1 635.4 51.4 634.9 52.7 634.4 54.0 633.9 55.3 633.4 56.6 632.8 57.9 632.3 59.2 631.8 60.5 631.2 61.8 630.7 63.1 630.2 64.4 629.7 65.7 629.1 67.0 628.6 68.3 628.1 69.6 627.5 70.9 627.0 72.2 626.5 73.4 625.9 74.7 625.4 76.0 624.8 77.3 624.3 78.6 623.7 79.9 623.2 81.2 622.7 82.5 622.1 83.8 621.5 85.1 621.0 86.3 620.4 87.6 619.9 88.9 619.3 90.2 618.7 91.5 618.2 92.8 617.6 94.0 617.0 95.3 616.5 96.6 615.9 97.9 615.3 99.2 614.8 100.5 614.2 101.7 613.6 103.0 613.1 104.3 612.5 105.6 611.9 106.9 611.4 108.1 610.8 109.4 610.2 110.7 609.6 112.0 609.1 113.2 608.5 114.5 607.9 115.8 607.3 117.1 606.7 118.4 606.2 119.6 605.6 120.9 605.0 122.2 604.4 123.4 603.8 124.7 603.2 126.0 602.6 127.3 602.0 128.5 601.4 129.8 600.8 131.1 600.2 132.3 599.6 133.6 599.0 134.9 598.4 136.1 597.8 137.4 597.2 138.7 596.6 139.9 596.0 141.2 595.4 142.4 594.8 143.7 594.2 145.0 593.6 146.2 593.0 147.5 592.3 148.7 591.7 150.0 591.1 151.3 590.5 152.5 589.9 153.8 589.2 155.0 588.6 156.3 588.0 157.5 587.4 158.8 586.7 160.0 586.1 161.3 585.5 162.6 584.9 163.8 584.2 165.1 583.6 166.3 583.0 167.6 582.3 168.8 581.7 170.1 581.1 171.3 580.4 172.6 579.8 173.8 579.2 175.1 578.5 176.3 577.9 177.6 577.3 178.8 576.6 180.1 576.0 181.3 575.4 182.6 574.7 183.8 574.1 185.1 573.5 186.3 572.8 187.6 572.2 188.8 571.5 190.1 570.9 191.3 570.3 192.5 569.6 193.8 569.0 195.0 568.3 196.3 567.7 197.5 567.0 198.8 566.4 200.0 565.7 201.3 565.1 202.5 564.4 203.7 563.8 205.0 563.1 206.2 562.5 207.4 561.8 208.7 561.1 209.9 560.4 211.1 559.8 212.4 559.1 213.6 558.4 214.8 557.7 216.0 557.1 217.3 556.4 218.5 555.7 219.7 555.0 220.9 554.3 222.2 553.6 223.4 552.9 224.6 552.3 225.8 551.6 227.1 550.9 228.3 550.2 229.5 549.6 230.7 548.9 232.0 548.2 233.2 547.6 234.4 546.9 235.7 546.3 236.9 545.6 238.2 545.0 239.4 544.3 240.7 543.7 241.9 543.1 243.2 542.4 244.4 541.8 245.7 541.2 246.9 540.5 248.2 539.9 249.4 539.3 250.7 538.7 251.9 538.0 253.2 537.4 254.4 536.8 255.7 536.2 256.9 535.6 258.2 534.9 259.5 534.3 260.7 533.7 262.0 533.1 263.2 532.4 264.5 531.8 265.7 531.2 267.0 530.6 268.3 530.0 269.5 529.3 270.8 528.7 272.0 528.1 273.3 527.5 274.5 526.9 275.8 526.3 277.1 525.7 278.3 525.1 279.6 524.5 280.9 523.9 282.1 523.2 283.4 522.6 284.6 522.0 285.9 521.4 287.2 520.8 288.4 520.2 289.7 519.5 290.9 518.9 292.2 518.3 293.4 517.6 294.7 517.0 295.9 516.3 297.1 515.6 298.4 515.0 299.6 514.3 300.8 513.6 302.1 512.9 303.3 512.2 304.5 511.5 305.7 510.8 306.9 510.1 308.1 509.4 309.3 508.7 310.5 507.9 311.7 507.2 312.9 506.5 314.1 505.8 315.3 505.0 316.5 504.3 317.7 503.5 318.9 502.8 320.1 502.0 321.3 501.3 322.4 500.5 323.6 499.7 324.8 499.0 326.0 498.2 327.1 497.4 328.3 496.6 329.4 495.8 330.6 495.0 331.7 494.2 332.9 493.4 334.0 492.5 335.1 491.7 336.2 490.8 337.3 489.9 338.4 489.0 339.5 488.1 340.6 487.3 341.7 486.4 342.8 485.5 343.8 484.6 344.9 483.7 346.0 482.8 347.1 481.9 348.1 481.0 349.2 480.0 350.3 479.1 351.3 478.2 352.4 477.3 353.4 476.4 354.5 475.5 355.6 474.6 356.6 473.6 357.7 472.7 358.8 471.8 359.8 470.9 360.9 470.0 362.0 469.1 363.1 468.3 364.2 467.4 365.2 466.5 366.3 465.6 367.4 464.8 368.5 463.9 369.6 463.0 370.7 462.1 371.8 461.3 372.9 460.4 374.0 459.6 375.1 458.7 376.2 457.8 377.3 457.0 378.5 456.1 379.6 455.3 380.7 454.4 381.8 453.6 382.9 452.7 384.0 451.9 385.1 451.1 386.3 450.2 387.4 449.4 388.5 448.6 389.7 447.7 390.8 446.9 391.9 446.1 393.0 445.2 394.2 444.4 395.3 443.5 396.4 442.7 397.5 441.8 398.6 441.0 399.7 440.1 400.8 439.2 401.9 438.3 403.0 437.5 404.1 436.6 405.2 435.7 406.3 434.8 407.3 433.8 408.4 432.9 409.4 432.0 410.5 431.1 411.5 430.1 412.6 429.2 413.6 428.2 414.6 427.2 415.6 426.2 416.5 425.1 417.5 424.1 418.4 423.0 419.3 421.9 420.2 420.9 421.1 419.9 422.1 419.0 423.1 418.1 424.1 417.2 425.2 416.4 426.3 415.5 427.4 414.6 428.5 413.7 429.6 412.8 430.6 411.8 431.6 410.8 432.6 409.8 433.5 408.7 434.5 407.7 435.4 406.6 436.2 405.4 437.1 404.3 437.9 403.1 438.6 401.9 439.3 400.7 440.0 399.4 440.5 398.1 441.1 396.8 441.5 395.5 441.9 394.1 442.2 392.8 442.4 391.4 442.6 390.0 442.6 388.6 442.6 387.2 442.5 385.8 442.4 384.5 442.1 383.2 441.8 381.9 441.3 380.6 440.8 379.4 440.1 378.2 439.4 377.1 438.6 376.0 437.7 375.0 436.8 374.0 435.8 373.0 434.8 372.1 433.7 371.2 432.7 370.3 431.6 369.5 430.5 368.7 429.3 367.9 428.2 367.1 427.0 366.3 425.8 365.6 424.7 364.8 423.5 364.1 422.3 363.4 421.1 362.7 419.8 362.0 418.6 361.3 417.4 360.7 416.2 360.0 414.9 359.4 413.7 358.7 412.4 358.1 411.2 357.5 409.9 356.9 408.7 356.3 407.4 355.6 406.2 355.0 404.9 354.4 403.6 353.8 402.4 353.2 401.1 352.6 399.9 352.0 398.6 351.3 397.3 350.7 396.1 350.1 394.8 349.5 393.6 348.9 392.3 348.2 391.1 347.6 389.8 347.0 388.5 346.3 387.3 345.7 386.0 345.1 384.8 344.4 383.6 343.8 382.3 343.1 381.1 342.5 379.8 341.8 378.6 341.1 377.4 340.4 376.2 339.7 374.9 339.0 373.7 338.3 372.5 337.7 371.3 337.0 370.1 336.3 368.8 335.6 367.6 334.9 366.4 334.2 365.2 333.6 363.9 332.9 362.7 332.2 361.5 331.6 360.2 330.9 359.0 330.2 357.8 329.6 356.5 328.9 355.3 328.2 354.1 327.5 352.9 326.8 351.7 326.0 350.5 325.3 349.3 324.5 348.1 323.7 347.0 323.0 345.8 322.2 344.7 321.3 343.5 320.5 342.4 319.6 341.3 318.8 340.2 317.9 339.1 317.0 338.0 316.1 337.0 315.1 335.9 314.2 334.9 313.2 333.9 312.2 332.9 311.3 331.9 310.3 330.9 309.3 329.9 308.3 328.9 307.3 327.9 306.4 326.9 305.4 325.9 304.4 324.9 303.4 323.9 302.3 323.0 301.3 322.1 300.2 321.3 299.0 320.5 297.9 319.7 296.7 318.9 295.5 318.1 294.3 317.4 293.1 316.7 291.9 316.0 290.7 315.3 289.5 314.6 288.2 313.9 287.0 313.3 285.8 312.7 284.5 312.0 283.2 311.4 282.0 310.8 280.7 310.3 279.4 309.7 278.1 309.1 276.8 308.6 275.5 308.1 274.2 307.6 272.9 307.1 271.6 306.6 270.3 306.2 268.9 305.7 267.6 305.3 266.2 304.9 264.9 304.5 263.6 304.1 262.2 303.8 260.8 303.4 259.5 303.1 258.1 302.7 256.8 302.4 255.4 302.1 254.0 301.8 252.7 301.5 251.3 301.2 249.9 300.9 248.6 300.6 247.2 300.3 245.8 300.0 244.4 299.8 243.1 299.5 241.7 299.3 240.3 299.0 238.9 298.8 237.5 298.5 236.2 298.3 234.8 298.1 233.4 297.8 232.0 297.6 230.6 297.4 229.2 297.2 227.8 297.0 226.5 296.8 225.1 296.7 223.7 296.5 222.3 296.4 220.9 296.2 219.5 296.1 218.1 296.0 216.7 295.8 215.3 295.7 213.9 295.6 212.5 295.5 211.1 295.3 209.7 295.2 208.3 295.1 206.9 295.0 205.5 294.8 204.1 294.7 202.7 294.6 201.3 294.4 200.0 294.3 198.6 294.1 197.2 294.0 195.8 293.9 194.4 293.7 193.0 293.6 191.6 293.4 190.2 293.3 188.8 293.1 187.4 293.0 186.0 292.8 184.6 292.7 183.2 292.5 181.8 292.4 180.4 292.2 179.1 292.1 177.7 291.9 176.3 291.8 174.9 291.6 173.5 291.5 172.1 291.3 170.7 291.2 169.3 291.0 167.9 290.9 166.5 290.7 165.1 290.6 163.7 290.4 162.3 290.3 160.9 290.1 159.5 290.0 158.1 289.9 156.8 289.7 155.4 289.6 154.0 289.4 152.6 289.3 151.2 289.1 149.8 289.0 148.4 288.9 147.0 288.7 145.6 288.6 144.2 288.5 142.8 288.3 141.4 288.2 140.0 288.1 138.6 288.0 137.2 287.8 135.8 287.7 134.4 287.6 133.0 287.5 131.6 287.3 130.2 287.2 128.8 287.1 127.4 287.0 126.1 286.9 124.7 286.7 123.3 286.6 121.9 286.5 120.5 286.4 119.1 286.3 117.7 286.2 116.3 286.1 114.9 285.9 113.5 285.8 112.1 285.7 110.7 285.6 109.3 285.5 107.9 285.4 106.5 285.3 105.8 285.2L111.7 283.0" stroke="#D879EE" stroke-width="3.6" fill="none" stroke-linejoin="round" stroke-linecap="round"/>
<path d="M111.7 282.8L113.0 282.2 114.2 281.6 115.5 281.0 116.8 280.5 118.1 279.9 119.4 279.4 120.7 278.9 122.0 278.4 123.3 277.9 124.7 277.5 126.0 277.1 127.3 276.7 128.7 276.4 130.1 276.1 131.4 275.7 132.8 275.4 134.2 275.1 135.5 274.8 136.9 274.5 138.3 274.2 139.6 274.0 141.0 273.7 142.4 273.4 143.8 273.2 145.2 272.9 146.5 272.7 147.9 272.4 149.3 272.2 150.7 272.0 152.1 271.8 153.5 271.6 154.8 271.3 156.2 271.1 157.6 270.9 159.0 270.7 160.4 270.5 161.8 270.4 163.2 270.2 164.6 270.0 165.9 269.8 167.3 269.7 168.7 269.5 170.1 269.3 171.5 269.1 172.9 268.9 174.3 268.7 175.7 268.5 177.0 268.3 178.4 268.0 179.8 267.6 181.1 267.2 182.4 266.8 183.7 266.3 185.0 265.8 186.3 265.3 187.6 264.8 188.9 264.4 190.3 264.1 191.6 263.7 193.0 263.4 194.4 263.1 195.8 262.9 197.1 262.7 198.5 262.4 199.9 262.2 201.3 262.0 202.7 261.8 204.1 261.6 205.5 261.3 206.8 261.1 208.2 260.9 209.6 260.7 211.0 260.5 212.4 260.3 213.8 260.1 215.2 259.9 216.6 259.8 217.9 259.6 219.3 259.4 220.7 259.2 222.1 259.0 223.5 258.8 224.9 258.6 226.3 258.4 227.7 258.2 229.0 258.0 230.4 257.8 231.8 257.7 233.2 257.5 234.6 257.3 236.0 257.1 237.4 256.9 238.8 256.7 240.2 256.5 241.6 256.3 242.9 256.2 244.3 256.0 245.7 255.8 247.1 255.6 248.5 255.4 249.9 255.2 251.3 255.0 252.7 254.8 254.1 254.7 255.4 254.5 256.8 254.3 258.2 254.1 259.6 253.9 261.0 253.7 262.4 253.6 263.8 253.4 265.2 253.2 266.6 253.0 268.0 252.8 269.3 252.7 270.7 252.5 272.1 252.3 273.5 252.1 274.9 251.9 276.3 251.8 277.7 251.6 279.1 251.4 280.5 251.2 281.9 251.1 283.2 250.9 284.6 250.7 286.0 250.5 287.4 250.3 288.8 250.2 290.2 250.0 291.6 249.8 293.0 249.6 294.4 249.4 295.8 249.3 297.1 249.1 298.5 248.9 299.9 248.7 301.3 248.5 302.7 248.4 304.1 248.2 305.5 248.0 306.9 247.8 308.3 247.6 309.7 247.5 311.0 247.3 312.4 247.1 313.8 247.0 315.2 246.8 316.6 246.6 318.0 246.4 319.4 246.3 320.8 246.1 322.2 245.9 323.6 245.8 325.0 245.6 326.4 245.4 327.7 245.2 329.1 245.1 330.5 244.9 331.9 244.7 333.3 244.5 334.7 244.4 336.1 244.2 337.5 244.0 338.9 243.8 340.3 243.6 341.6 243.4 343.0 243.2 344.4 243.1 345.8 242.9 347.2 242.7 348.6 242.5 350.0 242.3 351.4 242.1 352.7 241.8 354.1 241.6 355.5 241.4 356.9 241.2 358.3 241.0 359.7 240.8 361.0 240.5 362.4 240.3 363.8 240.0 365.2 239.8 366.6 239.6 368.0 239.3 369.3 239.1 370.7 238.8 372.1 238.5 373.5 238.3 374.8 238.0 376.2 237.7 377.6 237.5 379.0 237.2 380.3 236.9 381.7 236.7 383.1 236.4 384.5 236.1 385.8 235.8 387.2 235.5 388.6 235.2 389.9 234.9 391.3 234.6 392.7 234.4 394.1 234.1 395.4 233.8 396.8 233.5 398.2 233.2 399.5 232.9 400.9 232.6 402.3 232.3 403.6 231.9 405.0 231.6 406.4 231.3 407.7 231.0 409.1 230.7 410.5 230.4 411.8 230.1 413.2 229.8 414.6 229.5 415.9 229.1 417.3 228.8 418.7 228.5 420.0 228.2 421.4 227.9 422.8 227.5 424.1 227.2 425.5 226.9 426.9 226.6 428.2 226.3 429.6 225.9 430.9 225.6 432.3 225.3 433.7 224.9 435.0 224.6 436.4 224.3 437.8 223.9 439.1 223.6 440.5 223.2 441.8 222.9 443.2 222.5 444.5 222.2 445.9 221.8 447.2 221.4 448.6 221.1 450.0 220.7 451.3 220.3 452.7 220.0 454.0 219.6 455.4 219.2 456.7 218.8 458.1 218.4 459.4 218.1 460.7 217.7 462.1 217.3 463.4 216.9 464.8 216.5 466.1 216.1 467.5 215.7 468.8 215.3 470.2 214.9 471.5 214.5 472.8 214.1 474.2 213.7 475.5 213.2 476.8 212.8 478.2 212.3 479.5 211.8 480.8 211.4 482.1 210.9 483.4 210.4 484.7 209.9 486.0 209.4 487.4 208.9 488.7 208.4 490.0 208.0 491.3 207.5 492.6 207.0 493.9 206.5 495.3 206.1 496.6 205.6 497.9 205.2 499.3 204.7 500.6 204.3 501.9 203.9 503.3 203.5 504.6 203.1 506.0 202.7 507.3 202.3 508.7 201.9 510.0 201.5 511.3 201.1 512.7 200.7 514.0 200.3 515.4 199.9 516.7 199.5 518.0 199.0 519.4 198.6 520.7 198.1 522.0 197.7 523.3 197.2 524.6 196.7 525.9 196.2 527.2 195.7 528.5 195.1 529.8 194.5 531.0 193.8 532.2 193.1 533.4 192.4 534.5 191.6 535.7 190.8 536.8 189.9 537.8 189.0 538.9 188.1 539.9 187.2 541.0 186.2 542.0 185.2 543.0 184.3 544.0 183.3 544.9 182.3 545.9 181.2 546.9 180.2 547.8 179.2 548.8 178.2 549.7 177.1 550.6 176.1 551.6 175.0 552.5 174.0 553.4 172.9 554.4 171.9 555.3 170.8 556.2 169.8 557.1 168.7 558.0 167.6 558.9 166.5 559.8 165.5 560.7 164.4 561.5 163.3 562.4 162.1 563.2 161.0 564.0 159.9 564.9 158.8 565.6 157.6 566.4 156.4 567.2 155.3 567.9 154.1 568.7 152.9 569.4 151.7 570.1 150.5 570.9 149.3 571.6 148.1 572.3 146.9 573.0 145.7 573.7 144.4 574.4 143.2 575.1 142.0 575.8 140.8 576.5 139.6 577.2 138.4 577.9 137.2 578.6 135.9 579.3 134.7 580.0 133.5 580.7 132.3 581.4 131.1 582.1 129.9 582.9 128.7 583.6 127.5 584.3 126.3 585.0 125.1 585.7 123.9 586.5 122.7 587.2 121.5 587.9 120.3 588.6 119.1 589.3 117.9 590.1 116.7 590.8 115.5 591.5 114.3 592.2 113.1 592.9 111.8 593.6 110.6 594.3 109.4 595.0 108.2 595.7 107.0 596.4 105.8 597.1 104.6 597.8 103.3 598.5 102.1 599.2 100.9 599.9 99.7 600.6 98.5 601.2 97.2 601.9 96.0 602.6 94.8 603.3 93.6 604.0 92.3 604.7 91.1 605.3 89.9 606.0 88.7 606.7 87.4 607.4 86.2 608.1 85.0 608.7 83.8 609.4 82.5 610.1 81.3 610.8 80.1 611.4 78.8 612.1 77.6 612.8 76.4 613.4 75.2 614.1 73.9 614.8 72.7 615.5 71.5 616.1 70.2 616.8 69.0 617.5 67.8 618.2 66.6 618.8 65.3 619.5 64.1 620.2 62.9 620.9 61.7 621.6 60.5 622.3 59.2 623.0 58.0 623.7 56.8 624.4 55.6 625.1 54.4 625.9 53.2 626.6 52.0 627.3 50.8 628.0 49.6 628.7 48.4 629.5 47.2 630.2 46.0 630.9 44.8 631.6 43.6 632.4 42.4 633.1 41.2 633.8 40.0 634.5 38.8 635.3 37.6 636.0 36.4 636.7 35.2 637.4 34.0 638.2 32.8 638.9 31.6 639.6 30.4 640.3 29.2 641.1 28.0 641.8 26.8L641.8 26.8L641.2 28.1 640.7 29.4 640.1 30.7 639.6 31.9 639.0 33.2 638.5 34.5 637.9 35.8 637.4 37.1 636.8 38.4 636.3 39.7 635.7 41.0 635.2 42.3 634.6 43.6 634.1 44.8 633.5 46.1 633.0 47.4 632.5 48.7 631.9 50.0 631.4 51.3 630.9 52.6 630.3 53.9 629.8 55.2 629.3 56.5 628.8 57.8 628.2 59.1 627.7 60.4 627.2 61.7 626.6 63.0 626.1 64.3 625.6 65.6 625.1 66.9 624.5 68.2 624.0 69.5 623.5 70.8 622.9 72.1 622.4 73.4 621.8 74.7 621.3 76.0 620.8 77.3 620.2 78.6 619.7 79.9 619.1 81.1 618.6 82.4 618.0 83.7 617.5 85.0 616.9 86.3 616.4 87.6 615.8 88.9 615.2 90.1 614.7 91.4 614.1 92.7 613.5 94.0 612.9 95.3 612.4 96.5 611.8 97.8 611.2 99.1 610.6 100.4 610.1 101.7 609.5 102.9 608.9 104.2 608.3 105.5 607.7 106.8 607.1 108.0 606.5 109.3 606.0 110.6 605.4 111.8 604.8 113.1 604.2 114.4 603.6 115.7 603.0 116.9 602.4 118.2 601.8 119.5 601.2 120.7 600.6 122.0 600.0 123.3 599.4 124.5 598.8 125.8 598.2 127.1 597.6 128.3 597.0 129.6 596.3 130.8 595.7 132.1 595.1 133.4 594.5 134.6 593.9 135.9 593.3 137.2 592.7 138.4 592.1 139.7 591.4 140.9 590.8 142.2 590.2 143.4 589.6 144.7 589.0 146.0 588.3 147.2 587.7 148.5 587.1 149.7 586.4 151.0 585.8 152.2 585.2 153.5 584.6 154.7 583.9 156.0 583.3 157.2 582.7 158.5 582.0 159.7 581.4 161.0 580.7 162.2 580.1 163.5 579.5 164.7 578.8 166.0 578.2 167.2 577.6 168.5 576.9 169.7 576.3 171.0 575.6 172.2 575.0 173.5 574.4 174.7 573.7 176.0 573.1 177.2 572.4 178.5 571.8 179.7 571.2 181.0 570.5 182.2 569.9 183.5 569.3 184.7 568.6 185.9 568.0 187.2 567.3 188.4 566.7 189.7 566.1 190.9 565.4 192.2 564.8 193.4 564.2 194.7 563.5 195.9 562.9 197.2 562.3 198.5 561.7 199.7 561.0 201.0 560.4 202.2 559.8 203.5 559.2 204.7 558.5 206.0 557.9 207.2 557.3 208.5 556.7 209.8 556.1 211.0 555.5 212.3 554.9 213.6 554.3 214.8 553.7 216.1 553.1 217.3 552.4 218.6 551.8 219.9 551.2 221.1 550.6 222.4 550.0 223.7 549.4 224.9 548.8 226.2 548.2 227.5 547.6 228.7 547.0 230.0 546.4 231.2 545.7 232.5 545.1 233.8 544.5 235.0 543.9 236.3 543.2 237.5 542.6 238.8 541.9 240.0 541.3 241.3 540.7 242.5 540.0 243.8 539.4 245.0 538.7 246.2 538.1 247.5 537.4 248.7 536.8 250.0 536.1 251.2 535.5 252.5 534.9 253.7 534.2 254.9 533.6 256.2 532.9 257.4 532.3 258.7 531.6 259.9 531.0 261.2 530.3 262.4 529.7 263.7 529.1 264.9 528.4 266.2 527.8 267.4 527.2 268.7 526.5 269.9 525.9 271.2 525.3 272.4 524.7 273.7 524.1 275.0 523.5 276.2 522.8 277.5 522.2 278.7 521.6 280.0 521.0 281.3 520.4 282.5 519.8 283.8 519.2 285.0 518.5 286.3 517.9 287.6 517.3 288.8 516.7 290.1 516.0 291.3 515.4 292.6 514.7 293.8 514.1 295.0 513.4 296.3 512.7 297.5 512.1 298.7 511.4 300.0 510.7 301.2 510.0 302.4 509.3 303.6 508.6 304.8 507.9 306.0 507.2 307.3 506.5 308.5 505.8 309.7 505.0 310.9 504.3 312.1 503.6 313.3 502.9 314.5 502.1 315.6 501.4 316.8 500.6 318.0 499.9 319.2 499.1 320.4 498.4 321.6 497.6 322.7 496.8 323.9 496.1 325.1 495.3 326.3 494.5 327.4 493.7 328.6 492.9 329.7 492.1 330.9 491.3 332.0 490.4 333.1 489.6 334.2 488.7 335.4 487.9 336.5 487.0 337.6 486.2 338.7 485.3 339.8 484.4 340.9 483.6 342.0 482.7 343.1 481.8 344.2 481.0 345.3 480.1 346.4 479.3 347.5 478.4 348.6 477.6 349.7 476.7 350.9 475.8 352.0 475.0 353.1 474.1 354.2 473.2 355.3 472.4 356.4 471.5 357.5 470.6 358.6 469.8 359.7 468.9 360.8 468.1 361.9 467.2 363.0 466.4 364.1 465.5 365.2 464.7 366.4 463.8 367.5 463.0 368.6 462.1 369.7 461.3 370.8 460.4 371.9 459.6 373.0 458.7 374.2 457.9 375.3 457.0 376.4 456.2 377.5 455.3 378.6 454.5 379.7 453.6 380.9 452.8 382.0 451.9 383.1 451.1 384.2 450.2 385.3 449.4 386.5 448.6 387.6 447.7 388.7 446.9 389.8 446.1 391.0 445.2 392.1 444.4 393.2 443.6 394.3 442.7 395.5 441.9 396.6 441.0 397.7 440.2 398.8 439.3 399.9 438.5 401.1 437.6 402.2 436.8 403.3 435.9 404.4 435.0 405.5 434.1 406.6 433.3 407.7 432.4 408.7 431.5 409.8 430.6 410.9 429.7 412.0 428.8 413.1 427.9 414.1 427.0 415.2 426.1 416.3 425.2 417.4 424.3 418.4 423.4 419.5 422.4 420.5 421.5 421.6 420.6 422.6 419.7 423.7 418.8 424.8 418.0 425.9 417.1 427.0 416.3 428.1 415.5 429.2 414.6 430.4 413.8 431.5 412.9 432.6 412.1 433.7 411.2 434.8 410.3 435.9 409.4 436.9 408.5 438.0 407.6 439.1 406.6 440.1 405.7 441.2 404.8 442.2 403.8 443.2 402.8 444.2 401.8 445.2 400.8 446.1 399.7 447.0 398.6 447.9 397.5 448.7 396.4 449.5 395.2 450.2 393.9 450.9 392.7 451.5 391.4 452.0 390.1 452.5 388.7 452.9 387.4 453.2 386.0 453.5 384.7 453.7 383.3 453.9 381.9 454.0 380.5 454.0 379.1 453.9 377.8 453.7 376.4 453.4 375.1 452.9 373.8 452.4 372.6 451.9 371.4 451.2 370.2 450.5 369.0 449.7 367.9 448.9 366.8 448.0 365.7 447.1 364.7 446.2 363.7 445.2 362.7 444.2 361.8 443.2 360.8 442.1 359.9 441.1 359.0 440.0 358.1 438.9 357.3 437.8 356.4 436.7 355.6 435.6 354.8 434.4 354.0 433.3 353.1 432.1 352.4 431.0 351.6 429.8 350.8 428.7 350.0 427.5 349.3 426.3 348.5 425.1 347.8 423.9 347.0 422.7 346.3 421.5 345.6 420.3 344.9 419.1 344.1 417.9 343.4 416.7 342.7 415.5 342.0 414.3 341.3 413.1 340.7 411.9 340.0 410.6 339.3 409.4 338.6 408.2 337.9 406.9 337.3 405.7 336.6 404.5 335.9 403.3 335.2 402.0 334.6 400.8 333.9 399.6 333.2 398.3 332.6 397.1 331.9 395.9 331.2 394.6 330.5 393.4 329.9 392.2 329.2 391.0 328.5 389.7 327.8 388.5 327.1 387.3 326.4 386.1 325.7 384.9 325.0 383.7 324.3 382.5 323.5 381.3 322.8 380.1 322.1 378.9 321.3 377.7 320.6 376.5 319.8 375.3 319.0 374.2 318.3 373.0 317.5 371.8 316.7 370.7 315.9 369.5 315.1 368.4 314.3 367.2 313.5 366.1 312.7 364.9 311.9 363.8 311.1 362.6 310.2 361.5 309.4 360.4 308.5 359.3 307.7 358.2 306.8 357.1 305.9 356.0 305.0 354.9 304.1 353.8 303.2 352.8 302.3 351.7 301.4 350.7 300.4 349.6 299.5 348.6 298.5 347.6 297.6 346.5 296.6 345.5 295.6 344.5 294.6 343.5 293.6 342.6 292.6 341.6 291.6 340.6 290.6 339.6 289.6 338.7 288.6 337.7 287.5 336.7 286.5 335.8 285.5 334.8 284.4 333.9 283.4 333.0 282.3 332.1 281.2 331.2 280.1 330.4 279.0 329.5 277.8 328.7 276.7 327.9 275.5 327.2 274.3 326.4 273.1 325.7 271.9 324.9 270.7 324.2 269.6 323.5 268.4 322.7 267.2 322.0 266.0 321.2 264.8 320.5 263.6 319.8 262.3 319.1 261.1 318.5 259.8 317.9 258.6 317.3 257.3 316.8 256.0 316.3 254.6 315.8 253.3 315.4 252.0 314.9 250.7 314.5 249.3 314.0 248.0 313.5 246.7 313.0 245.4 312.5 244.1 312.0 242.8 311.5 241.5 311.0 240.2 310.5 238.8 310.1 237.5 309.6 236.2 309.2 234.8 308.8 233.5 308.4 232.1 308.0 230.8 307.7 229.4 307.4 228.1 307.1 226.7 306.8 225.3 306.5 223.9 306.2 222.6 306.0 221.2 305.7 219.8 305.5 218.4 305.2 217.0 305.0 215.6 304.8 214.3 304.6 212.9 304.4 211.5 304.2 210.1 303.9 208.7 303.7 207.3 303.5 205.9 303.3 204.5 303.1 203.2 302.9 201.8 302.8 200.4 302.6 199.0 302.4 197.6 302.2 196.2 302.0 194.8 301.8 193.4 301.6 192.0 301.4 190.7 301.2 189.3 301.1 187.9 300.9 186.5 300.7 185.1 300.5 183.7 300.3 182.3 300.2 180.9 300.0 179.5 299.8 178.1 299.6 176.8 299.4 175.4 299.3 174.0 299.1 172.6 298.9 171.2 298.8 169.8 298.6 168.4 298.4 167.0 298.2 165.6 298.1 164.2 297.9 162.8 297.7 161.4 297.5 160.1 297.4 158.7 297.2 157.3 297.0 155.9 296.8 154.5 296.7 153.1 296.5 151.7 296.3 150.3 296.2 148.9 296.0 147.5 295.8 146.1 295.6 144.8 295.5 143.4 295.3 142.0 295.1 140.6 294.9 139.2 294.8 137.8 294.6 136.4 294.4 135.0 294.2 133.6 294.1 132.2 293.9 130.8 293.7 129.5 293.5 128.1 293.4 126.7 293.2 125.3 293.0 123.9 292.8 122.5 292.7 121.1 292.5 119.7 292.3 118.3 292.2 116.9 292.0 115.5 291.8 114.1 291.6 112.8 291.5 111.4 291.3 110.0 291.1 108.6 290.9 107.2 290.8 105.8 290.6L111.7 282.8" stroke="#0505D5" stroke-width="3.6" fill="none" stroke-linejoin="round" stroke-linecap="round"/>
<path d="M112.8 287.1L114.0 286.3 115.1 285.6 116.3 284.8 117.5 284.0 118.7 283.3 119.9 282.6 121.1 282.0 122.4 281.3 123.7 280.7 124.9 280.2 126.2 279.7 127.6 279.2 128.9 278.7 130.2 278.2 131.5 277.8 132.9 277.4 134.2 276.9 135.5 276.5 136.9 276.1 138.2 275.7 139.6 275.3 140.9 274.9 142.3 274.5 143.6 274.1 145.0 273.8 146.3 273.4 147.7 273.0 149.0 272.7 150.4 272.3 151.7 271.9 153.1 271.6 154.5 271.2 155.8 270.9 157.2 270.5 158.5 270.2 159.9 269.8 161.2 269.4 162.6 269.0 163.9 268.7 165.3 268.3 166.6 267.9 168.0 267.6 169.4 267.2 170.7 266.8 172.1 266.4 173.4 266.1 174.8 265.7 176.1 265.3 177.5 265.0 178.8 264.6 180.2 264.2 181.5 263.8 182.9 263.5 184.2 263.1 185.6 262.8 187.0 262.4 188.3 262.1 189.7 261.8 191.1 261.5 192.4 261.3 193.8 261.0 195.2 260.8 196.6 260.5 198.0 260.3 199.3 260.0 200.7 259.8 202.1 259.5 203.5 259.3 204.9 259.0 206.2 258.8 207.6 258.5 209.0 258.3 210.4 258.1 211.8 257.8 213.2 257.6 214.5 257.3 215.9 257.1 217.3 256.9 218.7 256.6 220.1 256.4 221.5 256.2 222.8 255.9 224.2 255.7 225.6 255.5 227.0 255.2 228.4 255.0 229.8 254.8 231.1 254.6 232.5 254.3 233.9 254.1 235.3 253.9 236.7 253.7 238.1 253.4 239.5 253.2 240.8 253.0 242.2 252.8 243.6 252.6 245.0 252.4 246.4 252.1 247.8 251.9 249.2 251.7 250.6 251.5 251.9 251.3 253.3 251.1 254.7 251.0 256.1 250.8 257.5 250.6 258.9 250.4 260.3 250.3 261.7 250.1 263.1 249.9 264.5 249.8 265.9 249.6 267.3 249.5 268.7 249.3 270.0 249.1 271.4 249.0 272.8 248.8 274.2 248.7 275.6 248.5 277.0 248.4 278.4 248.2 279.8 248.1 281.2 247.9 282.6 247.8 284.0 247.6 285.4 247.5 286.8 247.3 288.2 247.1 289.6 246.9 291.0 246.8 292.3 246.6 293.7 246.4 295.1 246.2 296.5 246.0 297.9 245.8 299.3 245.6 300.7 245.4 302.1 245.2 303.5 245.0 304.8 244.8 306.2 244.5 307.6 244.3 309.0 244.1 310.4 243.9 311.8 243.7 313.2 243.4 314.5 243.2 315.9 243.0 317.3 242.8 318.7 242.6 320.1 242.3 321.5 242.1 322.8 241.9 324.2 241.6 325.6 241.4 327.0 241.2 328.4 240.9 329.8 240.7 331.1 240.5 332.5 240.2 333.9 240.0 335.3 239.7 336.7 239.5 338.1 239.3 339.4 239.0 340.8 238.8 342.2 238.5 343.6 238.3 345.0 238.0 346.3 237.7 347.7 237.5 349.1 237.2 350.5 237.0 351.9 236.7 353.2 236.4 354.6 236.2 356.0 235.9 357.4 235.6 358.7 235.3 360.1 235.0 361.5 234.8 362.9 234.5 364.2 234.2 365.6 233.9 367.0 233.6 368.3 233.3 369.7 233.0 371.1 232.7 372.4 232.4 373.8 232.1 375.2 231.8 376.6 231.4 377.9 231.1 379.3 230.8 380.7 230.5 382.0 230.2 383.4 229.9 384.7 229.5 386.1 229.2 387.5 228.9 388.8 228.5 390.2 228.2 391.6 227.9 392.9 227.5 394.3 227.2 395.7 226.9 397.0 226.5 398.4 226.2 399.7 225.8 401.1 225.5 402.5 225.1 403.8 224.8 405.2 224.4 406.5 224.1 407.9 223.7 409.2 223.4 410.6 223.0 412.0 222.7 413.3 222.3 414.7 222.0 416.0 221.6 417.4 221.2 418.7 220.9 420.1 220.5 421.4 220.1 422.8 219.8 424.2 219.4 425.5 219.0 426.9 218.6 428.2 218.3 429.6 217.9 430.9 217.5 432.3 217.1 433.6 216.7 434.9 216.3 436.3 215.9 437.6 215.5 439.0 215.1 440.3 214.7 441.7 214.3 443.0 213.8 444.3 213.4 445.7 213.0 447.0 212.5 448.3 212.1 449.7 211.7 451.0 211.2 452.3 210.8 453.6 210.3 455.0 209.9 456.3 209.4 457.6 209.0 459.0 208.5 460.3 208.0 461.6 207.6 462.9 207.1 464.3 206.7 465.6 206.2 466.9 205.8 468.2 205.3 469.6 204.9 470.9 204.4 472.2 204.0 473.6 203.5 474.9 203.1 476.2 202.6 477.5 202.1 478.9 201.7 480.2 201.2 481.5 200.7 482.8 200.2 484.1 199.8 485.4 199.3 486.8 198.8 488.1 198.3 489.4 197.7 490.7 197.2 492.0 196.7 493.3 196.2 494.6 195.7 495.9 195.1 497.2 194.6 498.5 194.1 499.8 193.6 501.1 193.1 502.4 192.5 503.7 192.0 505.0 191.5 506.3 191.0 507.6 190.5 508.9 189.9 510.2 189.4 511.5 188.9 512.8 188.4 514.1 187.9 515.4 187.3 516.7 186.8 518.0 186.3 519.3 185.8 520.6 185.3 521.9 184.7 523.2 184.2 524.5 183.7 525.8 183.1 527.1 182.6 528.4 182.1 529.7 181.6 531.0 181.0 532.3 180.5 533.6 180.0 534.9 179.4 536.2 178.8 537.5 178.2 538.7 177.6 539.9 176.9 541.1 176.2 542.3 175.5 543.5 174.7 544.6 173.8 545.7 173.0 546.8 172.1 547.8 171.2 548.8 170.2 549.8 169.2 550.8 168.2 551.7 167.1 552.7 166.1 553.6 165.0 554.5 164.0 555.4 162.9 556.3 161.8 557.2 160.7 558.1 159.7 559.0 158.6 559.9 157.5 560.7 156.5 561.6 155.4 562.4 154.5 563.2 153.6 563.8 152.8 564.4 152.1 564.9 151.3 565.4 150.5 565.9 149.6 566.5 148.6 567.1 147.5 567.8 146.3 568.4 145.1 569.1 143.9 569.8 142.7 570.5 141.5 571.2 140.2 571.9 139.0 572.6 137.8 573.3 136.6 574.1 135.4 574.8 134.2 575.5 133.0 576.3 131.9 577.1 130.7 577.8 129.5 578.6 128.3 579.4 127.2 580.2 126.0 580.9 124.8 581.7 123.7 582.5 122.5 583.3 121.4 584.1 120.2 584.9 119.0 585.6 117.9 586.4 116.7 587.2 115.5 588.0 114.3 588.7 113.2 589.5 112.0 590.2 110.8 591.0 109.6 591.7 108.4 592.5 107.2 593.2 106.1 594.0 104.9 594.7 103.7 595.5 102.5 596.2 101.3 596.9 100.1 597.7 98.9 598.4 97.7 599.2 96.5 599.9 95.3 600.7 94.2 601.4 93.0 602.2 91.8 602.9 90.6 603.7 89.4 604.4 88.2 605.2 87.1 605.9 85.9 606.7 84.7 607.4 83.5 608.2 82.3 608.9 81.1 609.7 79.9 610.4 78.7 611.1 77.5 611.9 76.3 612.6 75.1 613.3 73.9 614.0 72.7 614.7 71.5 615.4 70.3 616.1 69.1 616.7 67.8 617.4 66.6 618.1 65.4 618.8 64.1 619.4 62.9 620.1 61.6 620.7 60.4 621.4 59.2 622.0 57.9 622.7 56.7 623.3 55.4 623.9 54.2 624.6 52.9 625.2 51.7 625.9 50.4 626.5 49.2 627.1 47.9 627.8 46.7 628.4 45.4 629.0 44.2 629.6 42.9 630.3 41.6 630.9 40.4 631.5 39.1 632.1 37.9 632.7 36.6 633.4 35.3 634.0 34.1 634.6 32.8 635.2 31.6 635.8 30.3 636.4 29.0 637.0 27.8 637.6 26.5 638.3 25.3 638.9 24.0 639.5 22.7 640.1 21.5 640.7 20.2L640.7 20.2L640.3 21.5 639.9 22.9 639.5 24.2 639.0 25.6 638.6 26.9 638.2 28.2 637.7 29.5 637.3 30.9 636.8 32.2 636.3 33.5 635.8 34.8 635.3 36.1 634.8 37.4 634.3 38.7 633.8 40.0 633.3 41.3 632.7 42.6 632.2 43.9 631.7 45.2 631.1 46.5 630.6 47.8 630.1 49.1 629.6 50.4 629.0 51.7 628.5 53.0 628.0 54.3 627.5 55.6 627.0 56.9 626.5 58.2 626.0 59.6 625.5 60.9 624.9 62.2 624.4 63.5 623.9 64.8 623.4 66.1 622.9 67.4 622.3 68.7 621.8 70.0 621.3 71.3 620.7 72.5 620.1 73.8 619.6 75.1 619.0 76.4 618.4 77.7 617.9 79.0 617.3 80.2 616.7 81.5 616.1 82.8 615.6 84.1 615.0 85.3 614.4 86.6 613.8 87.9 613.2 89.1 612.6 90.4 612.0 91.7 611.5 93.0 610.9 94.2 610.3 95.5 609.7 96.8 609.1 98.1 608.6 99.4 608.0 100.6 607.4 101.9 606.9 103.2 606.3 104.5 605.7 105.8 605.2 107.0 604.6 108.3 604.0 109.6 603.5 110.9 602.9 112.2 602.4 113.5 601.8 114.8 601.3 116.0 600.7 117.3 600.1 118.6 599.6 119.9 599.0 121.2 598.5 122.5 597.9 123.8 597.3 125.0 596.8 126.3 596.2 127.6 595.7 128.9 595.1 130.2 594.5 131.4 594.0 132.7 593.4 134.0 592.8 135.3 592.3 136.6 591.7 137.9 591.1 139.2 590.6 140.4 590.0 141.7 589.5 143.0 588.9 144.3 588.3 145.6 587.8 146.8 587.2 148.1 586.6 149.4 586.0 150.7 585.4 151.9 584.8 153.2 584.2 154.4 583.5 155.7 582.9 156.9 582.2 158.2 581.6 159.4 580.9 160.6 580.2 161.9 579.5 163.1 578.8 164.3 578.1 165.5 577.4 166.7 576.7 167.9 576.0 169.1 575.3 170.3 574.6 171.5 573.8 172.7 573.1 173.9 572.4 175.1 571.6 176.3 570.9 177.5 570.2 178.7 569.4 179.9 568.7 181.1 568.0 182.3 567.2 183.5 566.5 184.7 565.8 185.9 565.0 187.1 564.3 188.3 563.6 189.5 562.9 190.7 562.2 191.9 561.4 193.1 560.7 194.3 560.0 195.5 559.3 196.7 558.7 198.0 558.0 199.2 557.3 200.4 556.7 201.7 556.0 202.9 555.4 204.1 554.7 205.4 554.1 206.6 553.5 207.9 552.9 209.2 552.3 210.4 551.7 211.7 551.1 213.0 550.5 214.2 549.9 215.5 549.3 216.8 548.7 218.1 548.2 219.3 547.6 220.6 547.0 221.9 546.4 223.2 545.9 224.4 545.3 225.7 544.7 227.0 544.1 228.3 543.5 229.5 542.9 230.8 542.3 232.1 541.7 233.3 541.1 234.6 540.5 235.8 539.8 237.1 539.2 238.4 538.6 239.6 538.0 240.9 537.3 242.1 536.7 243.4 536.1 244.6 535.5 245.9 534.8 247.1 534.2 248.4 533.6 249.6 532.9 250.9 532.3 252.1 531.7 253.4 531.0 254.6 530.4 255.9 529.8 257.1 529.1 258.4 528.5 259.6 527.9 260.9 527.2 262.1 526.6 263.4 526.0 264.6 525.4 265.9 524.8 267.2 524.1 268.4 523.5 269.7 522.9 270.9 522.3 272.2 521.7 273.5 521.1 274.7 520.5 276.0 519.9 277.3 519.3 278.5 518.7 279.8 518.1 281.1 517.5 282.3 516.9 283.6 516.2 284.8 515.6 286.1 515.0 287.3 514.3 288.6 513.7 289.8 513.0 291.1 512.4 292.3 511.7 293.5 511.0 294.7 510.3 296.0 509.6 297.2 508.9 298.4 508.1 299.5 507.4 300.7 506.6 301.9 505.8 303.1 505.0 304.2 504.2 305.4 503.4 306.5 502.6 307.6 501.8 308.8 500.9 309.9 500.1 311.0 499.3 312.2 498.4 313.3 497.6 314.4 496.7 315.5 495.9 316.6 495.1 317.8 494.2 318.9 493.4 320.0 492.6 321.2 491.8 322.3 491.0 323.5 490.2 324.6 489.4 325.8 488.6 326.9 487.8 328.0 486.9 329.2 486.1 330.3 485.3 331.5 484.5 332.6 483.7 333.8 482.9 334.9 482.1 336.1 481.3 337.2 480.5 338.4 479.7 339.5 478.9 340.7 478.1 341.8 477.3 343.0 476.5 344.1 475.7 345.3 474.9 346.4 474.1 347.6 473.3 348.7 472.5 349.9 471.7 351.1 471.0 352.2 470.2 353.4 469.4 354.5 468.6 355.7 467.8 356.9 467.1 358.0 466.3 359.2 465.5 360.4 464.7 361.5 464.0 362.7 463.2 363.9 462.4 365.0 461.6 366.2 460.9 367.4 460.1 368.5 459.3 369.7 458.5 370.9 457.8 372.1 457.0 373.2 456.2 374.4 455.4 375.5 454.7 376.7 453.9 377.9 453.1 379.0 452.3 380.2 451.5 381.4 450.8 382.5 450.0 383.7 449.2 384.9 448.4 386.0 447.7 387.2 446.9 388.4 446.1 389.5 445.3 390.7 444.5 391.9 443.8 393.0 443.0 394.2 442.2 395.4 441.4 396.5 440.7 397.7 439.9 398.9 439.1 400.0 438.3 401.2 437.5 402.3 436.7 403.5 436.0 404.7 435.2 405.8 434.4 407.0 433.6 408.2 432.9 409.3 432.1 410.5 431.3 411.7 430.5 412.9 429.8 414.0 429.0 415.2 428.3 416.4 427.5 417.6 426.8 418.8 426.1 420.0 425.3 421.2 424.6 422.4 423.9 423.6 423.2 424.8 422.5 426.0 421.7 427.2 421.0 428.4 420.2 429.5 419.5 430.7 418.7 431.9 417.9 433.0 417.1 434.2 416.2 435.3 415.4 436.4 414.6 437.5 413.7 438.6 412.8 439.7 412.0 440.8 411.1 441.9 410.2 443.0 409.3 444.1 408.4 445.2 407.5 446.2 406.5 447.2 405.6 448.3 404.6 449.2 403.6 450.2 402.5 451.1 401.5 452.1 400.4 452.9 399.3 453.8 398.1 454.6 397.0 455.4 395.8 456.1 394.6 456.9 393.4 457.5 392.1 458.2 390.9 458.8 389.6 459.4 388.3 459.9 387.0 460.3 385.6 460.7 384.3 461.1 382.9 461.4 381.6 461.6 380.2 461.8 378.8 462.0 377.4 462.1 376.0 462.2 374.6 462.2 373.2 462.2 371.8 462.1 370.5 461.9 369.1 461.6 367.8 461.2 366.5 460.8 365.2 460.3 363.9 459.7 362.6 459.1 361.4 458.4 360.2 457.8 359.0 457.0 357.8 456.3 356.7 455.5 355.5 454.7 354.4 453.8 353.4 452.9 352.4 451.9 351.4 451.0 350.4 449.9 349.5 448.9 348.6 447.8 347.7 446.8 346.8 445.7 345.9 444.6 345.0 443.5 344.2 442.4 343.3 441.3 342.5 440.1 341.7 439.0 340.8 437.9 340.0 436.8 339.2 435.6 338.4 434.5 337.6 433.3 336.8 432.2 336.0 431.0 335.2 429.8 334.4 428.7 333.7 427.5 332.9 426.3 332.2 425.1 331.4 423.9 330.7 422.8 330.0 421.6 329.2 420.4 328.5 419.2 327.8 418.0 327.0 416.8 326.3 415.6 325.5 414.4 324.8 413.2 324.1 412.0 323.3 410.8 322.6 409.7 321.8 408.5 321.1 407.3 320.3 406.1 319.6 404.9 318.8 403.7 318.1 402.5 317.4 401.3 316.6 400.2 315.9 399.0 315.1 397.8 314.4 396.6 313.7 395.4 312.9 394.2 312.2 393.0 311.5 391.8 310.7 390.6 310.0 389.4 309.2 388.3 308.4 387.1 307.6 385.9 306.8 384.8 306.0 383.6 305.2 382.5 304.4 381.4 303.6 380.2 302.8 379.1 301.9 378.0 301.1 376.8 300.3 375.7 299.5 374.5 298.7 373.4 297.9 372.2 297.1 371.1 296.3 369.9 295.4 368.8 294.6 367.7 293.7 366.6 292.9 365.5 291.9 364.4 291.0 363.4 290.1 362.4 289.1 361.4 288.1 360.4 287.1 359.4 286.1 358.4 285.1 357.4 284.1 356.4 283.1 355.5 282.1 354.5 281.1 353.5 280.1 352.6 279.0 351.6 278.0 350.7 277.0 349.7 276.0 348.8 274.9 347.8 273.9 346.9 272.8 345.9 271.8 345.0 270.7 344.1 269.6 343.2 268.6 342.3 267.5 341.4 266.4 340.5 265.3 339.6 264.3 338.7 263.2 337.8 262.1 336.9 261.0 336.1 259.9 335.2 258.8 334.3 257.7 333.5 256.5 332.7 255.4 331.9 254.2 331.1 253.1 330.3 251.9 329.6 250.7 328.8 249.5 328.1 248.3 327.5 247.0 326.8 245.8 326.1 244.5 325.5 243.3 324.9 242.0 324.3 240.7 323.7 239.4 323.2 238.1 322.6 236.8 322.1 235.5 321.6 234.2 321.1 232.9 320.7 231.6 320.2 230.2 319.8 228.9 319.4 227.6 319.0 226.2 318.6 224.9 318.2 223.5 317.9 222.1 317.5 220.8 317.2 219.4 316.9 218.1 316.5 216.7 316.2 215.3 315.9 214.0 315.6 212.6 315.3 211.2 315.0 209.8 314.7 208.5 314.4 207.1 314.2 205.7 313.9 204.4 313.6 203.0 313.3 201.6 313.0 200.2 312.8 198.9 312.5 197.5 312.2 196.1 311.9 194.7 311.6 193.4 311.4 192.0 311.1 190.6 310.8 189.2 310.6 187.9 310.3 186.5 310.0 185.1 309.8 183.7 309.5 182.4 309.2 181.0 309.0 179.6 308.7 178.2 308.4 176.9 308.2 175.5 307.9 174.1 307.7 172.7 307.4 171.3 307.1 170.0 306.9 168.6 306.6 167.2 306.4 165.8 306.1 164.5 305.9 163.1 305.6 161.7 305.4 160.3 305.1 158.9 304.9 157.6 304.6 156.2 304.4 154.8 304.1 153.4 303.9 152.0 303.6 150.7 303.4 149.3 303.2 147.9 302.9 146.5 302.7 145.1 302.4 143.8 302.2 142.4 302.0 141.0 301.8 139.6 301.6 138.2 301.3 136.8 301.1 135.4 300.9 134.1 300.7 132.7 300.5 131.3 300.3 129.9 300.1 128.5 299.9 127.1 299.7 125.7 299.5 124.4 299.3 123.0 299.1 121.6 298.9 120.2 298.7 118.8 298.5 117.4 298.3 116.0 298.1 114.6 298.0 113.2 297.8 111.9 297.6 110.5 297.4 109.1 297.2 107.7 297.0 107.0 296.9L112.8 287.1" stroke="#820000" stroke-width="3.6" fill="none" stroke-linejoin="round" stroke-linecap="round"/>
<path d="M109.4 883.0L110.8 882.8 112.2 882.6 113.6 882.3 114.9 882.1 116.3 881.9 117.7 881.7 119.1 881.5 120.5 881.3 121.9 881.1 123.3 880.9 124.7 880.7 126.0 880.5 127.4 880.3 128.8 880.2 130.2 880.0 131.6 879.9 133.0 879.7 134.4 879.6 135.8 879.5 137.2 879.4 138.6 879.3 140.0 879.2 141.4 879.1 142.8 879.0 144.2 879.0 145.6 878.9 147.0 878.8 148.4 878.8 149.8 878.7 151.2 878.7 152.6 878.6 154.0 878.6 155.4 878.5 156.8 878.5 158.2 878.4 159.6 878.4 161.0 878.4 162.4 878.3 163.8 878.3 165.2 878.2 166.6 878.2 168.0 878.2 169.4 878.1 170.8 878.1 172.2 878.0 173.6 878.0 175.0 878.0 176.4 877.9 177.8 877.9 179.2 877.9 180.6 877.8 182.0 877.8 183.4 877.8 184.8 877.7 186.2 877.7 187.7 877.7 189.1 877.6 190.5 877.6 191.9 877.6 193.3 877.5 194.7 877.5 196.1 877.5 197.5 877.5 198.9 877.4 200.3 877.4 201.7 877.4 203.1 877.3 204.5 877.3 205.9 877.3 207.3 877.3 208.7 877.2 210.1 877.2 211.5 877.2 212.9 877.2 214.3 877.1 215.7 877.1 217.1 877.1 218.5 877.1 219.9 877.0 221.3 877.0 222.7 877.0 224.1 877.0 225.5 877.0 226.9 876.9 228.3 876.9 229.7 876.9 231.1 876.9 232.5 876.9 233.9 876.9 235.3 876.8 236.7 876.8 238.1 876.8 239.5 876.8 240.9 876.8 242.3 876.8 243.7 876.8 245.1 876.8 246.5 876.8 247.9 876.8 249.3 876.8 250.7 876.8 252.2 876.8 253.6 876.8 255.0 876.9 256.4 876.9 257.8 876.9 259.2 877.0 260.6 877.0 262.0 877.0 263.4 877.1 264.8 877.1 266.2 877.2 267.6 877.2 269.0 877.3 270.4 877.3 271.8 877.4 273.2 877.4 274.6 877.5 276.0 877.5 277.4 877.6 278.8 877.6 280.2 877.7 281.6 877.7 283.0 877.7 284.4 877.7 285.8 877.8 287.2 877.8 288.6 877.8 290.0 877.8 291.4 877.8 292.8 877.8 294.2 877.7 295.6 877.7 297.0 877.7 298.4 877.7 299.8 877.6 301.2 877.6 302.6 877.5 304.0 877.5 305.4 877.5 306.8 877.4 308.2 877.4 309.6 877.3 311.0 877.2 312.4 877.2 313.8 877.1 315.2 877.1 316.6 877.0 318.0 877.0 319.4 876.9 320.8 876.8 322.2 876.8 323.6 876.7 325.0 876.7 326.4 876.6 327.8 876.6 329.2 876.5 330.6 876.5 332.0 876.4 333.4 876.4 334.9 876.4 336.3 876.3 337.7 876.3 339.1 876.2 340.5 876.2 341.9 876.1 343.3 876.1 344.7 876.1 346.1 876.0 347.5 876.0 348.9 875.9 350.3 875.9 351.7 875.9 353.1 875.8 354.5 875.8 355.9 875.7 357.3 875.7 358.7 875.6 360.1 875.6 361.5 875.6 362.9 875.5 364.3 875.5 365.7 875.4 367.1 875.4 368.5 875.4 369.9 875.3 371.3 875.3 372.7 875.3 374.1 875.2 375.5 875.2 376.9 875.1 378.3 875.1 379.7 875.0 381.1 875.0 382.5 874.9 383.9 874.9 385.3 874.8 386.7 874.7 388.1 874.6 389.5 874.5 390.9 874.4 392.3 874.3 393.7 874.1 395.1 874.0 396.5 873.9 397.9 873.7 399.3 873.5 400.7 873.4 402.1 873.2 403.4 873.0 404.8 872.8 406.2 872.6 407.6 872.3 409.0 872.1 410.3 871.8 411.7 871.5 413.1 871.2 414.4 870.8 415.8 870.4 417.1 870.0 418.5 869.6 419.8 869.1 421.1 868.7 422.4 868.2 423.8 867.8 425.1 867.4 426.4 867.0 427.8 866.7 429.2 866.4 430.5 866.2 431.9 866.0 433.3 866.0 434.7 865.9 436.1 865.9 437.5 866.0 438.9 866.1 440.3 866.2 441.7 866.4 443.1 866.5 444.5 866.6 445.9 866.7 447.3 866.8 448.7 867.0 450.1 867.1 451.5 867.2 452.9 867.3 454.3 867.4 455.7 867.5 457.1 867.6 458.5 867.7 459.9 867.8 461.3 867.9 462.7 868.0 464.1 868.2 465.4 868.3 466.8 868.4 468.2 868.5 469.6 868.6 471.0 868.7 472.4 868.8 473.8 868.9 475.2 869.0 476.6 869.1 478.0 869.2 479.4 869.3 480.8 869.4 482.2 869.5 483.6 869.5 485.0 869.6 486.4 869.7 487.8 869.8 489.2 870.0 490.6 870.1 492.0 870.2 493.4 870.3 494.8 870.3 496.2 870.4 497.6 870.5 499.0 870.6 500.4 870.7 501.8 870.7 503.2 870.8 504.6 870.8 506.0 870.8 507.4 870.7 508.8 870.7 510.2 870.6 511.6 870.4 513.0 870.2 514.3 869.8 515.6 869.4 516.9 868.9 518.2 868.4 519.4 867.7 520.6 867.0 521.7 866.2 522.9 865.4 524.0 864.6 525.2 863.8 526.3 863.0 527.4 862.1 528.6 861.3 529.7 860.5 530.8 859.6 531.9 858.7 533.0 857.9 534.1 857.0 535.2 856.1 536.3 855.3 537.4 854.4 538.5 853.6 539.6 852.7 540.8 851.9 541.9 851.0 543.0 850.2 544.2 849.4 545.3 848.6 546.5 847.8 547.6 847.0 548.8 846.3 550.0 845.5 551.2 844.7 552.3 844.0 553.5 843.2 554.7 842.5 555.9 841.8 557.2 841.1 558.4 840.4 559.6 839.8 560.9 839.1 562.1 838.5 563.4 837.9 564.7 837.4 566.0 836.9 567.3 836.4 568.7 836.0 570.0 835.7 571.4 835.3 572.7 835.0 574.1 834.7 575.5 834.5 576.9 834.3 578.3 834.1 579.6 833.9 581.0 833.7 582.4 833.6 583.8 833.4 585.2 833.2 586.6 833.0 588.0 832.8 589.4 832.6 590.8 832.4 592.1 832.2 593.5 832.0 594.9 831.8 596.3 831.5 597.7 831.3 599.1 831.1 600.4 830.8 601.8 830.6 603.2 830.4 604.6 830.1 606.0 829.8 607.3 829.5 608.7 829.2 610.1 828.9 611.4 828.5 612.8 828.1 614.1 827.7 615.4 827.3 616.7 826.8 618.1 826.3 619.4 825.8 620.6 825.2 621.9 824.7 623.2 824.0 624.4 823.4 625.6 822.7 626.8 822.0 628.0 821.2 629.1 820.4 630.2 819.5 631.3 818.7 632.4 817.8 633.4 816.8 634.4 815.9 635.5 814.9 636.5 813.9 637.5 813.0 638.5 812.0 639.0 811.5L639.0 811.5L638.5 812.8 638.0 814.1 637.5 815.4 637.0 816.7 636.5 818.1 636.0 819.4 635.5 820.7 635.0 822.0 634.4 823.3 633.9 824.5 633.3 825.8 632.7 827.1 632.1 828.3 631.4 829.6 630.7 830.8 630.0 832.0 629.2 833.2 628.5 834.3 627.6 835.5 626.8 836.6 626.0 837.7 625.1 838.8 624.2 839.9 623.3 841.0 622.4 842.0 621.5 843.1 620.6 844.2 619.6 845.2 618.7 846.2 617.7 847.2 616.8 848.3 615.8 849.3 614.8 850.3 613.8 851.2 612.8 852.2 611.8 853.2 610.7 854.1 609.7 855.1 608.7 856.0 607.6 856.9 606.5 857.8 605.4 858.7 604.3 859.5 603.2 860.4 602.1 861.2 601.0 862.1 599.8 862.9 598.7 863.7 597.5 864.5 596.4 865.3 595.2 866.1 594.1 866.9 592.9 867.6 591.7 868.4 590.5 869.2 589.4 869.9 588.2 870.7 587.0 871.4 585.8 872.2 584.6 872.9 583.4 873.6 582.2 874.3 581.0 875.0 579.8 875.7 578.6 876.4 577.3 877.1 576.1 877.8 574.9 878.4 573.6 879.1 572.4 879.7 571.1 880.4 569.9 881.0 568.6 881.6 567.3 882.1 566.0 882.7 564.7 883.2 563.4 883.7 562.1 884.2 560.8 884.7 559.5 885.1 558.1 885.5 556.8 885.9 555.4 886.3 554.1 886.7 552.7 887.0 551.4 887.4 550.0 887.8 548.7 888.2 547.3 888.5 546.0 888.9 544.6 889.3 543.3 889.7 541.9 890.1 540.6 890.5 539.3 890.9 537.9 891.3 536.6 891.7 535.2 892.1 533.9 892.5 532.5 892.9 531.2 893.3 529.8 893.7 528.5 894.1 527.2 894.5 525.8 894.9 524.5 895.3 523.1 895.7 521.8 896.1 520.5 896.6 519.1 897.0 517.8 897.4 516.5 897.9 515.1 898.3 513.8 898.7 512.5 899.2 511.1 899.6 509.8 900.0 508.5 900.5 507.1 900.9 505.8 901.4 504.5 901.8 503.2 902.3 501.8 902.8 500.5 903.2 499.2 903.7 497.9 904.2 496.6 904.7 495.3 905.3 494.0 905.8 492.8 906.4 491.5 907.0 490.3 907.7 489.1 908.4 487.9 909.2 486.7 909.9 485.5 910.7 484.4 911.4 483.2 912.1 482.0 912.8 480.7 913.3 479.4 913.8 478.1 914.2 476.7 914.5 475.4 914.7 474.0 914.9 472.6 914.9 471.2 914.9 469.8 914.9 468.4 914.7 467.0 914.6 465.7 914.3 464.3 914.0 463.0 913.5 461.7 913.0 460.5 912.4 459.3 911.8 458.1 911.0 457.1 910.1 456.0 909.2 455.0 908.2 454.1 907.2 453.2 906.2 452.3 905.1 451.4 904.0 450.5 902.9 449.6 901.9 448.7 900.8 447.7 899.8 446.7 898.8 445.7 897.8 444.7 896.9 443.6 896.0 442.5 895.1 441.5 894.2 440.3 893.4 439.2 892.6 438.0 891.8 436.8 891.1 435.6 890.4 434.4 889.8 433.1 889.2 431.8 888.7 430.5 888.2 429.2 887.8 427.8 887.4 426.5 887.1 425.1 886.8 423.7 886.6 422.3 886.4 420.9 886.2 419.6 886.0 418.2 885.8 416.8 885.6 415.4 885.4 414.0 885.3 412.6 885.1 411.2 885.0 409.8 884.8 408.4 884.7 407.0 884.6 405.6 884.5 404.2 884.3 402.8 884.2 401.4 884.1 400.0 884.0 398.6 883.9 397.2 883.8 395.8 883.7 394.4 883.6 393.0 883.6 391.6 883.5 390.2 883.4 388.8 883.3 387.4 883.3 386.0 883.2 384.6 883.1 383.2 883.1 381.8 883.0 380.4 883.0 379.0 882.9 377.6 882.9 376.2 882.9 374.8 882.8 373.4 882.8 372.0 882.8 370.6 882.7 369.2 882.7 367.8 882.7 366.4 882.7 365.0 882.6 363.6 882.6 362.2 882.6 360.8 882.6 359.4 882.6 358.0 882.6 356.6 882.6 355.2 882.6 353.8 882.6 352.4 882.6 351.0 882.6 349.6 882.6 348.2 882.6 346.8 882.6 345.4 882.7 344.0 882.7 342.6 882.8 341.2 882.9 339.8 883.0 338.4 883.2 337.0 883.3 335.7 883.6 334.3 883.9 333.0 884.2 331.6 884.7 330.4 885.2 329.1 885.8 328.0 886.5 326.8 887.3 325.7 888.1 324.6 889.0 323.6 890.0 322.6 890.9 321.5 891.8 320.4 892.7 319.3 893.5 318.2 894.2 316.9 894.7 315.7 895.1 314.4 895.4 313.0 895.5 311.7 895.5 310.3 895.3 308.9 895.0 307.6 894.7 306.2 894.4 304.9 894.0 303.5 893.6 302.2 893.3 300.8 892.9 299.5 892.7 298.1 892.4 296.7 892.3 295.3 892.1 293.9 892.1 292.5 892.0 291.1 892.0 289.7 891.9 288.3 891.9 286.9 891.8 285.5 891.7 284.1 891.6 282.7 891.5 281.3 891.3 280.0 891.1 278.6 890.9 277.2 890.6 275.8 890.3 274.5 890.0 273.1 889.6 271.8 889.1 270.5 888.7 269.2 888.2 267.9 887.6 266.6 887.1 265.3 886.6 264.0 886.1 262.7 885.6 261.4 885.2 260.0 884.8 258.7 884.4 257.3 884.1 255.9 883.8 254.6 883.5 253.2 883.2 251.8 882.9 250.5 882.6 249.1 882.4 247.7 882.1 246.3 881.8 244.9 881.6 243.6 881.3 242.2 881.1 240.8 880.9 239.4 880.6 238.0 880.4 236.7 880.2 235.3 880.0 233.9 879.8 232.5 879.6 231.1 879.5 229.7 879.3 228.3 879.2 226.9 879.0 225.5 878.9 224.1 878.8 222.7 878.7 221.3 878.6 219.9 878.5 218.5 878.4 217.1 878.3 215.7 878.2 214.3 878.2 212.9 878.1 211.5 878.1 210.1 878.1 208.7 878.0 207.3 878.0 205.9 878.0 204.5 878.0 203.1 878.0 201.7 878.0 200.3 878.0 198.9 878.0 197.5 878.0 196.1 878.1 194.7 878.1 193.3 878.1 191.9 878.1 190.5 878.2 189.1 878.2 187.7 878.3 186.3 878.3 184.9 878.4 183.5 878.4 182.1 878.4 180.7 878.5 179.3 878.6 177.9 878.6 176.5 878.7 175.1 878.7 173.7 878.8 172.3 878.8 170.9 878.9 169.5 879.0 168.1 879.0 166.7 879.1 165.3 879.2 163.9 879.2 162.5 879.3 161.1 879.4 159.7 879.5 158.3 879.5 156.9 879.6 155.5 879.7 154.1 879.8 152.7 879.8 151.3 879.9 149.9 880.0 148.5 880.1 147.1 880.2 145.7 880.3 144.3 880.4 142.9 880.5 141.5 880.6 140.1 880.7 138.7 880.8 137.3 880.9 135.9 881.1 134.5 881.2 133.1 881.3 131.7 881.4 130.3 881.5 128.9 881.7 127.5 881.8 126.1 881.9 124.8 882.0 123.4 882.2 122.0 882.3 120.6 882.4 119.2 882.6 117.8 882.7 116.4 882.8 115.0 883.0 113.6 883.1 112.2 883.2 110.8 883.4 109.4 883.5L109.4 883.0" stroke="#000" stroke-width="3.6" fill="none" stroke-linejoin="round" stroke-linecap="round"/>
<path d="M109.4 887.4L110.5 886.8 111.7 886.2 113.0 885.8 114.2 885.4 115.6 885.1 116.9 884.9 118.3 884.7 119.7 884.5 121.1 884.4 122.5 884.3 123.9 884.1 125.3 884.0 126.7 883.9 128.1 883.8 129.5 883.7 130.9 883.6 132.3 883.5 133.7 883.4 135.1 883.3 136.5 883.2 137.9 883.1 139.3 883.0 140.7 882.9 142.1 882.8 143.5 882.7 144.9 882.6 146.3 882.5 147.7 882.4 149.1 882.3 150.5 882.2 151.9 882.1 153.3 882.0 154.7 881.9 156.1 881.9 157.5 881.8 158.9 881.7 160.3 881.6 161.7 881.5 163.1 881.4 164.5 881.3 165.9 881.2 167.3 881.2 168.7 881.1 170.0 881.0 171.4 880.9 172.8 880.8 174.2 880.7 175.6 880.7 177.0 880.6 178.4 880.5 179.8 880.4 181.2 880.4 182.6 880.3 184.0 880.2 185.4 880.1 186.8 880.1 188.2 880.0 189.6 879.9 191.1 879.9 192.5 879.8 193.9 879.8 195.3 879.7 196.7 879.6 198.1 879.6 199.5 879.5 200.9 879.5 202.3 879.4 203.7 879.4 205.1 879.3 206.5 879.3 207.9 879.3 209.3 879.2 210.7 879.2 212.1 879.2 213.5 879.1 214.9 879.1 216.3 879.1 217.7 879.0 219.1 879.0 220.5 879.0 221.9 879.0 223.3 878.9 224.7 878.9 226.1 878.9 227.5 878.9 228.9 878.9 230.3 878.8 231.7 878.8 233.1 878.8 234.5 878.8 235.9 878.7 237.3 878.7 238.7 878.7 240.1 878.7 241.5 878.7 242.9 878.6 244.3 878.6 245.7 878.6 247.1 878.6 248.5 878.5 249.9 878.5 251.3 878.5 252.7 878.4 254.1 878.4 255.5 878.4 256.9 878.4 258.3 878.3 259.7 878.3 261.1 878.3 262.5 878.3 263.9 878.2 265.3 878.2 266.7 878.2 268.1 878.1 269.5 878.1 270.9 878.1 272.3 878.1 273.7 878.0 275.1 878.0 276.5 877.9 277.9 877.9 279.3 877.9 280.7 877.8 282.2 877.8 283.6 877.7 285.0 877.6 286.4 877.6 287.8 877.5 289.2 877.4 290.6 877.4 292.0 877.3 293.4 877.2 294.8 877.1 296.1 877.0 297.5 876.9 298.9 876.8 300.3 876.7 301.7 876.6 303.1 876.5 304.5 876.4 305.9 876.3 307.3 876.1 308.7 876.0 310.1 875.9 311.5 875.8 312.9 875.6 314.3 875.5 315.7 875.4 317.1 875.3 318.5 875.1 319.9 875.0 321.3 874.9 322.7 874.7 324.1 874.6 325.5 874.4 326.9 874.3 328.3 874.2 329.7 874.0 331.1 873.9 332.5 873.8 333.8 873.6 335.2 873.5 336.6 873.3 338.0 873.2 339.4 873.1 340.8 872.9 342.2 872.8 343.6 872.6 345.0 872.4 346.4 872.3 347.8 872.1 349.2 872.0 350.6 871.8 352.0 871.6 353.3 871.4 354.7 871.2 356.1 871.0 357.5 870.8 358.9 870.6 360.3 870.4 361.7 870.1 363.0 869.9 364.4 869.7 365.8 869.4 367.2 869.2 368.6 868.9 370.0 868.7 371.3 868.4 372.7 868.2 374.1 867.9 375.5 867.7 376.8 867.4 378.2 867.1 379.6 866.9 381.0 866.6 382.3 866.3 383.7 866.0 385.1 865.7 386.5 865.4 387.8 865.1 389.2 864.8 390.6 864.5 391.9 864.2 393.3 863.8 394.6 863.5 396.0 863.1 397.4 862.8 398.7 862.4 400.1 862.0 401.4 861.7 402.8 861.3 404.1 860.9 405.4 860.5 406.8 860.1 408.1 859.6 409.5 859.2 410.8 858.8 412.1 858.4 413.5 858.0 414.8 857.5 416.1 857.1 417.5 856.7 418.8 856.3 420.2 855.8 421.5 855.4 422.8 855.0 424.2 854.6 425.5 854.2 426.9 853.8 428.2 853.5 429.6 853.1 430.9 852.8 432.3 852.4 433.7 852.1 435.0 851.8 436.4 851.6 437.8 851.4 439.2 851.2 440.6 851.0 442.0 850.8 443.4 850.7 444.7 850.6 446.1 850.5 447.5 850.4 448.9 850.3 450.3 850.3 451.7 850.2 453.1 850.1 454.5 850.1 455.9 850.0 457.4 850.0 458.8 850.0 460.2 849.9 461.6 849.9 463.0 849.9 464.4 849.8 465.8 849.8 467.2 849.8 468.6 849.8 470.0 849.7 471.4 849.7 472.8 849.7 474.2 849.7 475.6 849.7 477.0 849.6 478.4 849.6 479.8 849.6 481.2 849.6 482.6 849.6 484.0 849.6 485.4 849.6 486.8 849.6 488.2 849.7 489.6 849.7 491.0 849.7 492.4 849.7 493.8 849.8 495.2 849.8 496.6 849.8 498.0 849.8 499.4 849.8 500.8 849.8 502.2 849.8 503.6 849.7 505.0 849.6 506.4 849.5 507.8 849.4 509.2 849.2 510.5 848.9 511.9 848.6 513.3 848.3 514.6 847.9 515.9 847.4 517.1 846.8 518.3 846.1 519.5 845.4 520.7 844.6 521.8 843.8 522.9 842.9 523.9 842.0 524.9 841.0 525.9 840.0 526.9 839.0 527.9 838.0 528.8 836.9 529.7 835.9 530.6 834.8 531.5 833.7 532.3 832.6 533.2 831.5 534.0 830.4 534.8 829.2 535.6 828.1 536.4 826.9 537.2 825.7 537.9 824.5 538.7 823.4 539.4 822.2 540.2 821.0 540.9 819.8 541.6 818.6 542.3 817.4 543.0 816.2 543.7 814.9 544.4 813.7 545.1 812.5 545.7 811.3 546.3 810.0 546.9 808.7 547.5 807.4 548.0 806.2 548.5 804.9 549.0 803.6 549.6 802.3 550.1 801.0 550.7 799.7 551.4 798.5 552.0 797.2 552.7 796.0 553.4 794.8 554.2 793.6 554.9 792.4 555.6 791.2 556.4 790.0 557.1 788.8 557.9 787.7 558.6 786.5 559.3 785.3 560.1 784.1 560.8 782.9 561.5 781.7 562.3 780.5 563.0 779.3 563.7 778.1 564.5 776.9 565.2 775.7 565.9 774.5 566.5 773.3 567.2 772.0 567.8 770.8 568.5 769.5 569.1 768.3 569.7 767.0 570.4 765.8 571.0 764.6 571.7 763.3 572.4 762.1 573.1 760.9 573.8 759.7 574.5 758.5 575.2 757.3 576.0 756.1 576.7 754.9 577.4 753.7 578.2 752.5 579.0 751.3 579.8 750.2 580.6 749.0 581.4 747.9 582.2 746.8 583.1 745.7 583.9 744.6 584.8 743.5 585.7 742.4 586.6 741.3 587.5 740.2 588.3 739.1 589.2 738.0 590.2 737.0 591.1 735.9 592.0 734.9 593.0 733.8 593.9 732.8 594.9 731.8 595.9 730.8 596.9 729.8 597.9 728.9 598.9 727.9 600.0 727.0 601.0 726.1 602.1 725.2 603.2 724.3 604.3 723.4 605.4 722.6 606.5 721.7 607.7 720.9 608.8 720.1 610.0 719.4 611.2 718.6 612.4 717.9 613.6 717.3 614.9 716.6 616.1 716.0 617.4 715.4 618.7 714.9 620.0 714.4 621.3 713.9 622.6 713.4 624.0 713.0 625.3 712.6 626.7 712.2 628.0 711.8 629.4 711.5 630.7 711.2 632.1 710.9 633.5 710.7 634.9 710.4 636.2 710.2 637.6 709.9 639.0 709.7 639.7 709.6L639.7 709.6L639.5 711.0 639.2 712.4 639.0 713.7 638.7 715.1 638.5 716.5 638.3 717.9 638.1 719.3 637.8 720.7 637.6 722.0 637.4 723.4 637.2 724.8 637.0 726.2 636.8 727.6 636.5 729.0 636.3 730.4 636.1 731.7 635.9 733.1 635.6 734.5 635.4 735.9 635.1 737.3 634.9 738.6 634.6 740.0 634.4 741.4 634.1 742.8 633.8 744.1 633.5 745.5 633.2 746.9 633.0 748.3 632.7 749.6 632.4 751.0 632.0 752.4 631.7 753.7 631.4 755.1 631.1 756.5 630.8 757.8 630.5 759.2 630.1 760.6 629.8 761.9 629.4 763.3 629.1 764.6 628.7 766.0 628.4 767.3 628.0 768.7 627.6 770.1 627.3 771.4 626.9 772.8 626.5 774.1 626.1 775.4 625.7 776.8 625.3 778.1 624.9 779.5 624.5 780.8 624.1 782.2 623.7 783.5 623.3 784.9 622.9 786.2 622.5 787.5 622.2 788.9 621.8 790.3 621.4 791.6 621.1 793.0 620.7 794.3 620.4 795.7 620.0 797.0 619.6 798.4 619.1 799.7 618.6 801.0 618.1 802.3 617.6 803.6 617.1 804.9 616.5 806.2 615.9 807.4 615.2 808.7 614.6 809.9 613.9 811.2 613.3 812.4 612.6 813.6 611.9 814.8 611.2 816.1 610.6 817.3 609.9 818.5 609.2 819.7 608.5 821.0 607.8 822.2 607.1 823.4 606.4 824.6 605.7 825.8 605.0 827.1 604.3 828.3 603.6 829.5 602.9 830.7 602.2 831.9 601.5 833.1 600.8 834.3 600.1 835.6 599.4 836.8 598.7 838.0 598.0 839.2 597.2 840.4 596.5 841.6 595.8 842.8 595.1 844.0 594.3 845.2 593.6 846.4 592.9 847.6 592.1 848.7 591.4 849.9 590.7 851.1 589.9 852.3 589.2 853.5 588.4 854.7 587.6 855.9 586.9 857.0 586.1 858.2 585.3 859.3 584.5 860.5 583.7 861.6 582.8 862.7 582.0 863.9 581.1 865.0 580.2 866.1 579.3 867.1 578.4 868.2 577.5 869.3 576.6 870.3 575.6 871.3 574.7 872.4 573.7 873.4 572.7 874.4 571.8 875.4 570.8 876.4 569.8 877.4 568.7 878.3 567.7 879.3 566.7 880.3 565.7 881.2 564.7 882.2 563.7 883.1 562.6 884.1 561.6 885.1 560.6 886.0 559.6 887.0 558.5 887.9 557.5 888.9 556.5 889.8 555.5 890.8 554.4 891.7 553.4 892.7 552.4 893.6 551.3 894.6 550.3 895.5 549.2 896.5 548.2 897.4 547.1 898.3 546.1 899.3 545.1 900.2 544.0 901.1 543.0 902.1 541.9 903.0 540.9 903.9 539.8 904.9 538.8 905.8 537.7 906.7 536.7 907.7 535.6 908.6 534.6 909.5 533.5 910.5 532.5 911.4 531.5 912.3 530.4 913.3 529.4 914.2 528.3 915.2 527.3 916.1 526.3 917.0 525.2 918.0 524.2 918.9 523.1 919.8 522.1 920.8 521.0 921.7 520.0 922.7 519.0 923.6 517.9 924.5 516.9 925.5 515.8 926.4 514.8 927.3 513.8 928.3 512.7 929.2 511.7 930.2 510.6 931.1 509.6 932.0 508.5 933.0 507.5 933.9 506.5 934.9 505.4 935.8 504.4 936.7 503.3 937.7 502.3 938.6 501.2 939.5 500.2 940.5 499.1 941.4 498.1 942.3 497.0 943.3 496.0 944.2 495.0 945.1 493.9 946.1 492.9 947.0 491.8 947.9 490.8 948.9 489.7 949.8 488.7 950.7 487.6 951.7 486.6 952.6 485.6 953.6 484.5 954.5 483.5 955.5 482.5 956.4 481.5 957.4 480.4 958.3 479.4 959.3 478.5 960.3 477.5 961.3 476.5 962.4 475.6 963.4 474.7 964.5 473.8 965.5 472.8 966.6 471.9 967.6 470.9 968.6 470.0 969.6 469.0 970.7 468.0 971.7 467.0 972.6 466.0 973.6 465.1 974.6 464.1 975.6 463.1 976.6 462.1 977.6 461.0 978.6 460.0 979.5 459.0 980.5 458.0 981.4 456.9 982.4 455.9 983.3 454.8 984.2 453.7 985.1 452.6 985.9 451.5 986.8 450.3 987.5 449.2 988.2 447.9 988.9 446.7 989.5 445.4 989.9 444.1 990.3 442.7 990.6 441.4 990.7 440.0 990.7 438.6 990.6 437.3 990.4 435.9 990.0 434.6 989.6 433.4 989.0 432.1 988.4 431.0 987.7 429.8 986.9 428.7 986.1 427.6 985.2 426.6 984.3 425.6 983.3 424.6 982.3 423.7 981.2 422.8 980.1 422.0 979.0 421.1 977.9 420.3 976.7 419.6 975.6 418.8 974.4 418.0 973.2 417.3 972.0 416.6 970.8 415.8 969.7 415.1 968.5 414.3 967.3 413.6 966.1 412.9 964.9 412.1 963.7 411.4 962.5 410.6 961.3 409.9 960.1 409.2 958.9 408.4 957.7 407.7 956.6 406.9 955.4 406.2 954.2 405.5 953.0 404.8 951.8 404.0 950.6 403.3 949.4 402.6 948.2 401.8 947.0 401.1 945.8 400.3 944.6 399.6 943.4 398.9 942.2 398.1 941.1 397.3 939.9 396.6 938.7 395.8 937.5 395.0 936.3 394.3 935.2 393.5 934.0 392.7 932.8 392.0 931.7 391.2 930.5 390.4 929.3 389.7 928.1 388.9 927.0 388.1 925.8 387.3 924.7 386.5 923.5 385.7 922.4 384.8 921.3 384.0 920.2 383.1 919.1 382.2 918.0 381.3 916.9 380.3 915.9 379.4 914.9 378.4 913.9 377.4 912.9 376.4 911.9 375.3 911.0 374.3 910.1 373.2 909.2 372.1 908.3 371.0 907.4 369.9 906.6 368.8 905.8 367.6 905.0 366.4 904.2 365.3 903.5 364.0 902.8 362.8 902.1 361.5 901.5 360.3 901.0 359.0 900.5 357.6 900.0 356.3 899.6 355.0 899.3 353.6 899.0 352.2 898.7 350.8 898.5 349.4 898.3 348.1 898.2 346.7 898.0 345.3 897.9 343.9 897.8 342.5 897.7 341.1 897.6 339.7 897.6 338.3 897.6 336.9 897.6 335.5 897.7 334.1 897.9 332.8 898.2 331.4 898.5 330.1 898.9 328.8 899.5 327.6 900.1 326.4 900.8 325.3 901.5 324.2 902.4 323.2 903.4 322.3 904.4 321.3 905.4 320.5 906.5 319.6 907.6 318.8 908.8 318.1 909.9 317.3 911.1 316.6 912.3 315.9 913.5 315.2 914.8 314.6 916.0 313.9 917.2 313.3 918.5 312.6 919.7 311.9 921.0 311.3 922.2 310.6 923.4 310.0 924.7 309.3 925.9 308.7 927.2 308.0 928.4 307.4 929.6 306.7 930.9 306.0 932.1 305.3 933.3 304.5 934.5 303.7 935.6 302.9 936.8 302.1 937.9 301.2 938.9 300.2 939.9 299.2 940.8 298.1 941.6 296.9 942.2 295.7 942.8 294.4 943.1 293.1 943.3 291.7 943.4 290.4 943.4 289.1 943.1 287.8 942.8 286.6 942.2 285.4 941.5 284.4 940.7 283.4 939.8 282.5 938.7 281.6 937.7 280.8 936.5 280.1 935.3 279.4 934.1 278.8 932.9 278.1 931.6 277.5 930.4 277.0 929.1 276.4 927.8 275.8 926.5 275.2 925.2 274.7 924.0 274.1 922.7 273.5 921.4 272.9 920.1 272.3 918.9 271.7 917.6 271.0 916.4 270.3 915.2 269.5 914.0 268.8 912.9 267.9 911.8 267.0 910.7 266.1 909.7 265.1 908.7 264.1 907.7 263.0 906.8 261.9 906.0 260.7 905.2 259.5 904.5 258.3 903.9 257.1 903.3 255.8 902.7 254.5 902.2 253.2 901.6 251.9 901.1 250.6 900.5 249.4 899.9 248.1 899.3 246.9 898.6 245.7 898.0 244.5 897.3 243.2 896.7 241.9 896.1 240.6 895.7 239.3 895.3 238.0 894.9 236.6 894.6 235.2 894.4 233.8 894.2 232.5 894.0 231.1 893.8 229.7 893.6 228.3 893.4 226.9 893.3 225.5 893.1 224.1 893.0 222.7 892.8 221.3 892.6 219.9 892.5 218.5 892.3 217.1 892.1 215.8 891.9 214.4 891.7 213.0 891.5 211.6 891.3 210.2 891.1 208.8 890.9 207.4 890.7 206.1 890.5 204.7 890.3 203.3 890.1 201.9 889.9 200.5 889.8 199.1 889.7 197.7 889.5 196.3 889.4 194.9 889.3 193.5 889.3 192.1 889.2 190.7 889.1 189.3 889.1 187.9 889.0 186.5 889.0 185.1 889.0 183.7 889.0 182.3 889.0 180.9 888.9 179.5 888.9 178.1 888.9 176.7 888.9 175.3 888.9 173.9 888.9 172.5 888.9 171.1 888.9 169.7 888.9 168.3 888.9 166.9 888.9 165.5 888.9 164.1 888.8 162.7 888.8 161.3 888.8 159.9 888.8 158.5 888.8 157.1 888.7 155.7 888.7 154.3 888.7 152.9 888.6 151.5 888.6 150.0 888.6 148.6 888.5 147.2 888.5 145.8 888.4 144.4 888.4 143.0 888.3 141.6 888.3 140.2 888.3 138.8 888.2 137.4 888.2 136.0 888.2 134.6 888.1 133.2 888.1 131.8 888.0 130.4 888.0 129.0 888.0 127.6 888.0 126.2 887.9 124.8 887.9 123.4 887.9 122.0 887.9 120.6 887.9 119.2 887.9 117.8 887.9 116.4 887.8 115.0 887.8 113.6 887.8 112.2 887.8 110.8 887.8 109.4 887.8L109.4 887.4" stroke="#0A7A0A" stroke-width="3.6" fill="none" stroke-linejoin="round" stroke-linecap="round"/>
<path d="M109.4 894.4L110.3 893.3 111.1 892.3 112.1 891.4 113.2 890.5 114.3 889.8 115.5 889.2 116.8 888.6 118.1 888.2 119.4 887.8 120.8 887.4 122.1 887.1 123.5 886.8 124.9 886.6 126.3 886.4 127.7 886.2 129.0 886.0 130.4 885.8 131.8 885.6 133.2 885.5 134.6 885.4 136.0 885.2 137.4 885.1 138.8 885.0 140.2 884.8 141.6 884.7 143.0 884.6 144.4 884.5 145.8 884.4 147.2 884.3 148.6 884.2 150.0 884.0 151.4 883.9 152.8 883.8 154.2 883.7 155.6 883.6 157.0 883.5 158.4 883.4 159.8 883.3 161.2 883.2 162.6 883.0 164.0 882.9 165.4 882.8 166.8 882.7 168.2 882.6 169.6 882.5 171.0 882.4 172.4 882.3 173.8 882.2 175.2 882.1 176.6 882.0 178.0 881.9 179.4 881.8 180.8 881.7 182.2 881.6 183.6 881.5 185.0 881.4 186.4 881.3 187.8 881.2 189.2 881.1 190.6 881.0 192.0 881.0 193.4 880.9 194.8 880.8 196.2 880.7 197.6 880.6 199.0 880.6 200.4 880.5 201.8 880.4 203.2 880.4 204.6 880.3 206.0 880.2 207.4 880.2 208.8 880.1 210.2 880.1 211.6 880.0 213.0 880.0 214.4 879.9 215.8 879.9 217.2 879.8 218.6 879.8 220.0 879.8 221.4 879.7 222.8 879.7 224.2 879.7 225.6 879.6 227.0 879.6 228.4 879.6 229.8 879.5 231.2 879.5 232.6 879.5 234.0 879.4 235.4 879.4 236.8 879.4 238.2 879.3 239.6 879.3 241.0 879.2 242.4 879.2 243.8 879.2 245.2 879.1 246.6 879.1 248.0 879.1 249.4 879.0 250.8 879.0 252.2 878.9 253.6 878.9 255.0 878.9 256.4 878.8 257.8 878.8 259.2 878.8 260.6 878.7 262.0 878.7 263.4 878.7 264.8 878.6 266.3 878.6 267.7 878.6 269.1 878.5 270.5 878.5 271.9 878.5 273.3 878.4 274.7 878.4 276.1 878.3 277.5 878.3 278.9 878.2 280.3 878.2 281.7 878.1 283.1 878.0 284.5 877.9 285.9 877.9 287.3 877.8 288.7 877.7 290.1 877.6 291.5 877.5 292.9 877.4 294.3 877.2 295.7 877.1 297.1 877.0 298.5 876.9 299.9 876.7 301.2 876.6 302.6 876.5 304.0 876.3 305.4 876.2 306.8 876.0 308.2 875.9 309.6 875.7 311.0 875.5 312.4 875.4 313.8 875.2 315.2 875.0 316.6 874.9 318.0 874.7 319.4 874.5 320.7 874.3 322.1 874.1 323.5 873.9 324.9 873.7 326.3 873.5 327.7 873.3 329.1 873.1 330.5 872.9 331.9 872.7 333.2 872.5 334.6 872.3 336.0 872.1 337.4 871.8 338.8 871.6 340.2 871.4 341.5 871.1 342.9 870.9 344.3 870.6 345.7 870.3 347.1 870.1 348.4 869.8 349.8 869.5 351.2 869.2 352.5 868.8 353.9 868.5 355.2 868.2 356.6 867.8 358.0 867.5 359.3 867.1 360.7 866.7 362.0 866.3 363.4 865.9 364.7 865.5 366.1 865.1 367.4 864.7 368.7 864.3 370.1 863.9 371.4 863.5 372.7 863.1 374.1 862.6 375.4 862.2 376.7 861.7 378.1 861.3 379.4 860.8 380.7 860.3 382.0 859.9 383.3 859.4 384.7 858.9 386.0 858.4 387.3 857.9 388.6 857.3 389.9 856.8 391.2 856.3 392.5 855.7 393.7 855.2 395.0 854.6 396.3 854.0 397.6 853.4 398.8 852.8 400.1 852.2 401.3 851.5 402.6 850.9 403.8 850.2 405.0 849.5 406.3 848.9 407.5 848.2 408.7 847.5 409.9 846.8 411.2 846.1 412.4 845.4 413.6 844.7 414.8 844.0 416.0 843.3 417.2 842.6 418.4 841.9 419.7 841.2 420.9 840.5 422.1 839.8 423.3 839.1 424.5 838.4 425.8 837.7 427.0 837.1 428.2 836.4 429.4 835.7 430.7 835.1 431.9 834.4 433.2 833.8 434.4 833.2 435.7 832.5 437.0 831.9 438.2 831.3 439.5 830.8 440.8 830.2 442.1 829.7 443.4 829.2 444.7 828.7 446.0 828.2 447.4 827.8 448.7 827.3 450.0 826.9 451.4 826.5 452.7 826.1 454.1 825.8 455.4 825.4 456.8 825.0 458.1 824.7 459.5 824.4 460.9 824.0 462.2 823.7 463.6 823.4 465.0 823.0 466.3 822.7 467.7 822.4 469.0 822.0 470.4 821.7 471.8 821.3 473.1 821.0 474.5 820.6 475.8 820.3 477.2 820.0 478.5 819.8 479.9 819.6 481.3 819.6 482.7 819.5 484.1 819.6 485.5 819.6 486.9 819.7 488.3 819.8 489.7 819.9 491.1 820.0 492.5 820.1 493.9 820.2 495.3 820.3 496.7 820.4 498.1 820.5 499.5 820.6 500.9 820.7 502.3 820.8 503.7 821.0 505.1 821.1 506.5 821.3 507.8 821.4 509.2 821.6 510.6 821.7 512.0 821.8 513.4 821.9 514.8 822.0 516.2 822.0 517.6 821.9 519.0 821.8 520.4 821.6 521.7 821.3 523.1 821.0 524.4 820.6 525.7 820.1 527.0 819.6 528.3 819.0 529.5 818.4 530.7 817.7 531.9 816.9 533.0 816.0 534.0 815.1 534.9 814.1 535.8 813.1 536.6 812.0 537.4 810.8 538.2 809.6 538.9 808.4 539.6 807.2 540.2 806.0 540.9 804.7 541.6 803.5 542.2 802.3 542.9 801.0 543.6 799.8 544.3 798.6 545.0 797.4 545.7 796.2 546.4 795.0 547.2 793.8 547.9 792.6 548.6 791.4 549.3 790.2 550.0 789.0 550.7 787.7 551.4 786.5 552.1 785.3 552.8 784.1 553.5 782.8 554.1 781.6 554.8 780.4 555.4 779.1 556.1 777.9 556.8 776.7 557.4 775.4 558.1 774.2 558.8 773.0 559.4 771.7 560.1 770.5 560.8 769.3 561.4 768.0 562.1 766.8 562.8 765.6 563.5 764.4 564.2 763.2 565.0 762.0 565.7 760.8 566.5 759.6 567.2 758.4 568.0 757.2 568.7 756.1 569.5 754.9 570.2 753.7 570.9 752.5 571.6 751.3 572.3 750.0 573.0 748.8 573.7 747.6 574.4 746.4 575.1 745.2 575.8 744.0 576.5 742.7 577.2 741.5 577.9 740.3 578.6 739.1 579.3 737.9 580.0 736.6 580.7 735.4 581.4 734.2 582.1 733.0 582.8 731.8 583.5 730.6 584.3 729.4 585.0 728.2 585.7 727.0 586.4 725.8 587.2 724.6 587.9 723.4 588.6 722.2 589.4 721.0 590.1 719.8 590.8 718.6 591.6 717.4 592.3 716.2 593.1 715.0 593.8 713.8 594.5 712.7 595.3 711.5 596.0 710.3 596.7 709.1 597.5 707.9 598.2 706.7 598.9 705.5 599.7 704.3 600.4 703.1 601.2 701.9 601.9 700.7 602.7 699.6 603.5 698.4 604.2 697.2 605.0 696.1 605.8 694.9 606.6 693.7 607.4 692.6 608.2 691.5 609.1 690.3 609.9 689.2 610.7 688.1 611.6 687.0 612.4 685.8 613.3 684.7 614.2 683.6 615.0 682.5 615.9 681.5 616.8 680.4 617.7 679.3 618.7 678.3 619.6 677.2 620.5 676.2 621.5 675.2 622.5 674.2 623.5 673.2 624.5 672.3 625.6 671.3 626.6 670.4 627.7 669.5 628.8 668.6 629.9 667.7 631.0 666.9 632.1 666.0 633.2 665.2 634.4 664.4 635.5 663.6 636.7 662.8 637.8 662.0 639.0 661.2L639.0 661.2L638.8 662.6 638.5 664.0 638.3 665.3 638.1 666.7 637.9 668.1 637.7 669.5 637.5 670.9 637.3 672.3 637.1 673.7 636.9 675.1 636.7 676.4 636.4 677.8 636.2 679.2 636.0 680.6 635.8 682.0 635.5 683.4 635.3 684.7 635.1 686.1 634.8 687.5 634.5 688.9 634.2 690.2 634.0 691.6 633.7 693.0 633.4 694.4 633.1 695.7 632.8 697.1 632.5 698.5 632.3 699.8 632.0 701.2 631.7 702.6 631.4 704.0 631.2 705.3 630.9 706.7 630.6 708.1 630.4 709.5 630.1 710.9 629.8 712.2 629.5 713.6 629.3 715.0 629.0 716.3 628.7 717.7 628.4 719.1 628.1 720.5 627.8 721.8 627.4 723.2 627.1 724.5 626.8 725.9 626.4 727.3 626.1 728.6 625.8 730.0 625.4 731.3 625.0 732.7 624.7 734.1 624.3 735.4 624.0 736.8 623.6 738.1 623.2 739.5 622.8 740.8 622.4 742.2 622.0 743.5 621.6 744.8 621.2 746.2 620.8 747.5 620.4 748.9 620.0 750.2 619.6 751.5 619.2 752.9 618.7 754.2 618.3 755.5 617.8 756.9 617.4 758.2 616.9 759.5 616.4 760.8 616.0 762.2 615.5 763.5 615.0 764.8 614.5 766.1 614.1 767.4 613.6 768.7 613.1 770.1 612.6 771.4 612.1 772.7 611.6 774.0 611.0 775.3 610.5 776.6 610.0 777.9 609.5 779.2 609.0 780.5 608.5 781.8 607.9 783.1 607.4 784.4 607.0 785.7 606.5 787.0 606.1 788.4 605.7 789.7 605.3 791.0 604.9 792.4 604.5 793.7 604.0 795.0 603.5 796.3 602.9 797.6 602.4 798.9 601.8 800.1 601.2 801.4 600.5 802.7 599.9 803.9 599.2 805.2 598.6 806.4 597.9 807.6 597.3 808.9 596.6 810.1 596.0 811.4 595.3 812.6 594.7 813.8 594.0 815.1 593.3 816.3 592.7 817.5 592.0 818.8 591.3 820.0 590.7 821.2 590.0 822.5 589.3 823.7 588.7 824.9 588.0 826.2 587.3 827.4 586.6 828.6 586.0 829.8 585.3 831.1 584.6 832.3 583.9 833.5 583.3 834.8 582.6 836.0 581.9 837.2 581.2 838.4 580.6 839.7 579.9 840.9 579.2 842.1 578.5 843.3 577.8 844.6 577.1 845.8 576.5 847.0 575.8 848.2 575.1 849.5 574.4 850.7 573.7 851.9 573.0 853.1 572.3 854.3 571.7 855.6 571.0 856.8 570.3 858.0 569.6 859.2 568.9 860.4 568.2 861.6 567.5 862.9 566.8 864.1 566.1 865.3 565.3 866.5 564.6 867.7 563.9 868.9 563.2 870.1 562.5 871.3 561.7 872.5 561.0 873.7 560.3 874.9 559.5 876.1 558.8 877.2 558.0 878.4 557.2 879.6 556.5 880.8 555.7 882.0 555.0 883.1 554.2 884.3 553.4 885.5 552.6 886.6 551.8 887.8 551.0 888.9 550.3 890.1 549.5 891.3 548.6 892.4 547.8 893.5 547.0 894.7 546.2 895.8 545.4 896.9 544.5 898.1 543.7 899.2 542.8 900.3 542.0 901.4 541.1 902.5 540.3 903.6 539.4 904.7 538.5 905.8 537.6 906.9 536.7 908.0 535.8 909.1 534.9 910.1 534.0 911.2 533.1 912.3 532.2 913.3 531.3 914.4 530.3 915.4 529.4 916.5 528.5 917.5 527.5 918.5 526.6 919.6 525.6 920.6 524.7 921.6 523.7 922.6 522.7 923.7 521.8 924.7 520.8 925.7 519.8 926.7 518.8 927.6 517.8 928.6 516.8 929.6 515.7 930.5 514.7 931.5 513.6 932.4 512.6 933.3 511.5 934.2 510.4 935.1 509.3 936.0 508.3 936.9 507.2 937.8 506.1 938.7 505.0 939.6 503.9 940.4 502.8 941.3 501.8 942.2 500.7 943.1 499.6 944.0 498.5 944.9 497.4 945.7 496.3 946.5 495.1 947.4 494.0 948.2 492.9 949.0 491.8 949.9 490.6 950.7 489.6 951.6 488.5 952.5 487.4 953.4 486.4 954.4 485.4 955.3 484.4 956.3 483.4 957.3 482.5 958.4 481.6 959.5 480.7 960.6 479.9 961.7 479.1 962.8 478.3 964.0 477.5 965.1 476.8 966.3 476.0 967.5 475.3 968.7 474.6 969.9 473.9 971.2 473.3 972.4 472.6 973.6 471.9 974.8 471.3 976.1 470.6 977.3 470.0 978.6 469.3 979.8 468.7 981.1 468.0 982.3 467.4 983.5 466.8 984.8 466.1 986.0 465.5 987.3 464.8 988.5 464.2 989.8 463.5 991.0 462.8 992.2 462.2 993.5 461.5 994.7 460.8 995.9 460.1 997.1 459.3 998.3 458.6 999.5 457.8 1000.6 457.0 1001.8 456.2 1002.9 455.3 1004.0 454.4 1005.1 453.5 1006.1 452.5 1007.1 451.5 1008.1 450.4 1009.0 449.4 1009.9 448.2 1010.7 447.1 1011.5 445.9 1012.2 444.7 1012.9 443.4 1013.6 442.2 1014.2 440.9 1014.7 439.6 1015.3 438.3 1015.7 437.0 1016.1 435.6 1016.4 434.3 1016.6 432.9 1016.7 431.5 1016.7 430.1 1016.6 428.8 1016.4 427.4 1016.1 426.1 1015.6 424.9 1015.1 423.7 1014.5 422.5 1013.7 421.4 1012.9 420.4 1012.0 419.4 1011.0 418.5 1009.9 417.6 1008.9 416.7 1007.8 415.8 1006.7 415.0 1005.6 414.1 1004.5 413.3 1003.4 412.5 1002.2 411.6 1001.1 410.8 1000.0 410.0 998.8 409.2 997.7 408.4 996.5 407.6 995.4 406.8 994.2 406.0 993.1 405.2 991.9 404.5 990.7 403.7 989.6 402.9 988.4 402.1 987.2 401.3 986.1 400.6 984.9 399.8 983.7 399.1 982.5 398.3 981.4 397.6 980.2 396.8 979.0 396.1 977.8 395.4 976.6 394.7 975.4 393.9 974.2 393.2 973.0 392.5 971.7 391.8 970.5 391.1 969.3 390.4 968.1 389.7 966.9 389.0 965.7 388.3 964.5 387.6 963.3 386.9 962.0 386.2 960.8 385.5 959.6 384.8 958.4 384.0 957.2 383.3 956.0 382.6 954.8 381.8 953.6 381.1 952.5 380.3 951.3 379.6 950.1 378.8 948.9 378.0 947.8 377.2 946.6 376.4 945.5 375.6 944.3 374.8 943.1 374.1 942.0 373.2 940.8 372.4 939.7 371.6 938.6 370.8 937.4 370.0 936.3 369.1 935.2 368.3 934.1 367.4 932.9 366.6 931.8 365.7 930.8 364.8 929.7 363.9 928.6 362.9 927.6 362.0 926.6 361.0 925.6 360.0 924.6 359.0 923.6 357.9 922.7 356.8 921.8 355.7 920.9 354.6 920.1 353.5 919.3 352.3 918.5 351.2 917.7 350.0 917.0 348.8 916.3 347.6 915.6 346.4 914.9 345.1 914.2 343.9 913.5 342.7 912.9 341.4 912.3 340.1 911.8 338.8 911.3 337.5 910.9 336.2 910.5 334.9 910.1 333.6 909.7 332.3 909.3 330.9 909.0 329.6 908.7 328.3 908.6 326.9 908.6 325.6 908.8 324.3 909.2 323.0 909.6 321.8 910.2 320.6 910.9 319.4 911.6 318.4 912.5 317.4 913.4 316.4 914.4 315.5 915.5 314.7 916.6 313.9 917.8 313.2 919.0 312.5 920.2 311.8 921.4 311.1 922.6 310.5 923.9 309.9 925.1 309.3 926.4 308.6 927.7 308.0 928.9 307.4 930.2 306.8 931.4 306.2 932.7 305.6 934.0 305.0 935.2 304.4 936.5 303.8 937.8 303.2 939.0 302.5 940.3 301.9 941.5 301.3 942.8 300.7 944.1 300.1 945.3 299.5 946.6 298.9 947.8 298.2 949.1 297.6 950.3 296.9 951.6 296.3 952.8 295.6 954.0 294.9 955.2 294.2 956.5 293.5 957.7 292.8 958.9 292.0 960.1 291.3 961.3 290.5 962.4 289.7 963.6 288.9 964.7 288.0 965.8 287.1 966.9 286.2 967.9 285.2 968.9 284.2 969.8 283.1 970.7 281.9 971.5 280.8 972.2 279.6 972.9 278.3 973.6 277.1 974.1 275.8 974.6 274.5 974.9 273.1 975.2 271.8 975.3 270.4 975.3 269.0 975.1 267.7 974.9 266.4 974.5 265.2 973.9 263.9 973.3 262.8 972.6 261.7 971.7 260.7 970.8 259.7 969.8 258.8 968.7 258.0 967.7 257.1 966.5 256.3 965.4 255.6 964.2 254.8 963.0 254.0 961.9 253.3 960.7 252.6 959.5 251.8 958.3 251.1 957.1 250.4 955.9 249.7 954.7 249.0 953.4 248.3 952.2 247.6 951.0 247.0 949.8 246.3 948.5 245.7 947.3 245.0 946.0 244.4 944.8 243.8 943.5 243.2 942.3 242.6 941.0 242.1 939.7 241.5 938.4 240.9 937.2 240.3 935.9 239.6 934.7 238.8 933.5 238.0 932.4 237.2 931.3 236.3 930.2 235.5 929.1 234.6 928.0 233.7 926.9 232.7 925.9 231.8 924.8 230.9 923.7 230.0 922.7 229.1 921.6 228.2 920.6 227.3 919.5 226.3 918.5 225.3 917.5 224.4 916.5 223.4 915.5 222.3 914.5 221.3 913.6 220.2 912.7 219.1 911.9 218.0 911.1 216.8 910.4 215.5 909.7 214.3 909.1 213.0 908.6 211.7 908.1 210.4 907.6 209.1 907.1 207.7 906.6 206.4 906.2 205.1 905.8 203.7 905.4 202.4 905.0 201.1 904.5 199.7 904.1 198.4 903.7 197.0 903.3 195.7 902.9 194.3 902.5 193.0 902.2 191.6 901.8 190.3 901.5 188.9 901.1 187.6 900.8 186.2 900.5 184.8 900.2 183.4 900.0 182.1 899.7 180.7 899.5 179.3 899.3 177.9 899.1 176.5 898.9 175.1 898.8 173.7 898.6 172.3 898.5 170.9 898.3 169.5 898.2 168.2 898.0 166.8 897.9 165.4 897.8 164.0 897.7 162.6 897.5 161.2 897.4 159.8 897.3 158.4 897.2 157.0 897.0 155.6 896.9 154.2 896.8 152.8 896.7 151.4 896.6 150.0 896.4 148.6 896.3 147.2 896.2 145.8 896.1 144.4 896.0 143.0 895.9 141.6 895.8 140.2 895.7 138.8 895.6 137.4 895.6 136.0 895.5 134.6 895.4 133.2 895.3 131.8 895.3 130.4 895.2 129.0 895.2 127.6 895.1 126.2 895.1 124.8 895.0 123.4 895.0 122.0 895.0 120.6 895.0 119.2 894.9 117.8 894.9 116.4 894.9 115.0 894.9 113.6 894.9 112.2 894.8 110.8 894.8 109.4 894.8L109.4 894.4" stroke="#E9B040" stroke-width="3.6" fill="none" stroke-linejoin="round" stroke-linecap="round"/>
<path d="M109.4 897.9L110.4 897.0 111.5 896.0 112.6 895.1 113.6 894.3 114.8 893.4 115.9 892.6 117.1 891.9 118.3 891.2 119.5 890.6 120.8 890.1 122.1 889.7 123.5 889.3 124.8 889.0 126.2 888.7 127.6 888.4 129.0 888.2 130.3 888.0 131.7 887.8 133.1 887.6 134.5 887.4 135.9 887.3 137.3 887.1 138.7 886.9 140.1 886.8 141.5 886.6 142.9 886.5 144.3 886.3 145.7 886.2 147.0 886.1 148.4 885.9 149.8 885.8 151.2 885.6 152.6 885.5 154.0 885.4 155.4 885.2 156.8 885.1 158.2 885.0 159.6 884.8 161.0 884.7 162.4 884.6 163.8 884.4 165.2 884.3 166.6 884.2 168.0 884.0 169.4 883.9 170.8 883.8 172.2 883.7 173.6 883.5 175.0 883.4 176.4 883.3 177.7 883.2 179.1 883.1 180.5 882.9 181.9 882.8 183.3 882.7 184.7 882.6 186.1 882.5 187.5 882.4 188.9 882.3 190.3 882.2 191.7 882.1 193.1 882.0 194.5 881.9 195.9 881.8 197.3 881.7 198.7 881.6 200.1 881.5 201.5 881.4 202.9 881.3 204.3 881.3 205.7 881.2 207.1 881.1 208.5 881.1 209.9 881.0 211.3 880.9 212.7 880.9 214.1 880.8 215.5 880.8 216.9 880.7 218.3 880.7 219.7 880.6 221.1 880.6 222.5 880.5 223.9 880.5 225.3 880.4 226.7 880.4 228.1 880.4 229.5 880.3 230.9 880.3 232.3 880.2 233.7 880.2 235.1 880.1 236.5 880.1 237.9 880.0 239.3 880.0 240.7 879.9 242.1 879.9 243.5 879.8 244.9 879.7 246.3 879.7 247.7 879.6 249.1 879.5 250.5 879.5 251.9 879.4 253.3 879.3 254.7 879.2 256.1 879.1 257.5 879.0 258.9 879.0 260.3 878.9 261.7 878.8 263.1 878.7 264.5 878.6 265.9 878.5 267.3 878.4 268.7 878.3 270.1 878.2 271.5 878.1 272.9 878.0 274.3 877.9 275.7 877.7 277.1 877.6 278.5 877.5 279.9 877.4 281.3 877.2 282.7 877.1 284.1 876.9 285.5 876.8 286.9 876.6 288.3 876.5 289.6 876.3 291.0 876.2 292.4 876.0 293.8 875.8 295.2 875.6 296.6 875.4 298.0 875.2 299.4 875.0 300.8 874.8 302.1 874.6 303.5 874.4 304.9 874.2 306.3 874.0 307.7 873.7 309.1 873.5 310.4 873.3 311.8 873.0 313.2 872.8 314.6 872.6 316.0 872.4 317.4 872.1 318.7 871.9 320.1 871.6 321.5 871.4 322.9 871.2 324.3 870.9 325.7 870.7 327.0 870.5 328.4 870.3 329.8 870.1 331.2 869.8 332.6 869.6 334.0 869.4 335.4 869.2 336.7 869.1 338.1 868.9 339.5 868.7 340.9 868.5 342.3 868.4 343.7 868.2 345.1 868.0 346.5 867.8 347.9 867.6 349.2 867.4 350.6 867.2 352.0 866.9 353.4 866.6 354.8 866.3 356.1 866.0 357.5 865.7 358.8 865.4 360.2 865.0 361.5 864.6 362.9 864.3 364.2 863.8 365.6 863.4 366.9 863.0 368.2 862.6 369.6 862.1 370.9 861.7 372.2 861.2 373.5 860.7 374.9 860.3 376.2 859.8 377.5 859.3 378.8 858.8 380.1 858.3 381.4 857.8 382.7 857.2 384.0 856.7 385.3 856.2 386.6 855.6 387.9 855.1 389.1 854.5 390.4 853.9 391.7 853.3 393.0 852.8 394.2 852.2 395.5 851.6 396.8 850.9 398.0 850.3 399.3 849.7 400.5 849.0 401.7 848.4 403.0 847.7 404.2 847.0 405.4 846.3 406.6 845.6 407.9 844.9 409.1 844.2 410.3 843.5 411.5 842.8 412.7 842.1 413.9 841.4 415.1 840.7 416.3 840.0 417.5 839.2 418.7 838.5 419.9 837.8 421.1 837.1 422.3 836.4 423.5 835.7 424.7 834.9 426.0 834.2 427.2 833.5 428.4 832.8 429.6 832.2 430.8 831.5 432.1 830.8 433.3 830.1 434.5 829.4 435.7 828.8 437.0 828.1 438.2 827.4 439.5 826.8 440.7 826.2 442.0 825.6 443.2 825.0 444.5 824.4 445.8 823.9 447.1 823.4 448.4 822.9 449.8 822.4 451.1 822.0 452.4 821.5 453.8 821.1 455.1 820.7 456.4 820.3 457.8 819.9 459.1 819.5 460.5 819.1 461.8 818.8 463.2 818.4 464.5 818.1 465.9 817.7 467.3 817.4 468.6 817.0 470.0 816.7 471.3 816.3 472.7 816.0 474.1 815.6 475.4 815.3 476.8 815.0 478.1 814.6 479.5 814.3 480.9 814.0 482.2 813.7 483.6 813.3 485.0 813.0 486.3 812.7 487.7 812.4 489.1 812.1 490.4 811.8 491.8 811.5 493.2 811.2 494.5 810.9 495.9 810.7 497.3 810.4 498.7 810.1 500.0 809.9 501.4 809.7 502.8 809.5 504.2 809.3 505.6 809.1 507.0 809.0 508.4 808.8 509.8 808.7 511.2 808.6 512.6 808.5 514.0 808.3 515.4 808.1 516.7 807.9 518.1 807.7 519.5 807.4 520.8 807.0 522.1 806.5 523.4 806.0 524.7 805.4 525.9 804.8 527.1 804.2 528.3 803.4 529.5 802.7 530.7 801.9 531.8 801.1 532.9 800.2 534.0 799.3 535.0 798.4 536.0 797.4 536.9 796.4 537.9 795.3 538.8 794.3 539.7 793.2 540.6 792.1 541.4 791.0 542.3 789.9 543.1 788.7 543.9 787.6 544.7 786.4 545.4 785.2 546.2 784.1 546.9 782.9 547.7 781.7 548.4 780.5 549.1 779.3 549.8 778.0 550.5 776.8 551.1 775.6 551.8 774.4 552.5 773.1 553.2 771.9 553.8 770.7 554.5 769.4 555.2 768.2 555.9 767.0 556.5 765.8 557.2 764.6 557.9 763.3 558.6 762.1 559.3 760.9 560.0 759.7 560.6 758.4 561.3 757.2 561.9 755.9 562.6 754.7 563.2 753.4 563.8 752.2 564.5 750.9 565.1 749.7 565.7 748.4 566.3 747.2 567.0 745.9 567.6 744.7 568.2 743.4 568.8 742.2 569.5 740.9 570.1 739.7 570.7 738.4 571.4 737.2 572.0 735.9 572.6 734.6 573.2 733.4 573.9 732.1 574.5 730.9 575.1 729.6 575.7 728.3 576.3 727.1 576.9 725.8 577.5 724.5 578.0 723.3 578.6 722.0 579.2 720.7 579.8 719.4 580.4 718.2 581.0 716.9 581.5 715.6 582.1 714.3 582.7 713.1 583.3 711.8 583.9 710.5 584.4 709.2 585.0 707.9 585.6 706.7 586.2 705.4 586.8 704.1 587.3 702.8 587.9 701.6 588.5 700.3 589.1 699.0 589.6 697.7 590.2 696.5 590.8 695.2 591.4 693.9 592.0 692.6 592.5 691.3 593.1 690.1 593.7 688.8 594.3 687.5 594.9 686.3 595.5 685.0 596.1 683.7 596.7 682.5 597.3 681.2 597.9 679.9 598.5 678.7 599.2 677.4 599.8 676.2 600.4 674.9 601.0 673.7 601.7 672.4 602.3 671.1 602.9 669.9 603.5 668.6 604.1 667.4 604.7 666.1 605.3 664.8 605.9 663.6 606.5 662.3 607.1 661.0 607.7 659.8 608.3 658.5 608.9 657.2 609.5 655.9 610.0 654.7 610.6 653.4 611.2 652.1 611.8 650.9 612.4 649.6 613.0 648.3 613.6 647.1 614.2 645.8 614.9 644.5 615.5 643.3 616.1 642.0 616.7 640.8 617.3 639.5 617.9 638.2 618.6 637.0 619.2 635.7 619.8 634.5 620.5 633.2 621.1 632.0 621.8 630.8 622.4 629.5 623.1 628.3 623.8 627.1 624.5 625.8 625.2 624.6 625.8 623.4 626.5 622.2 627.3 621.0 628.0 619.8 628.7 618.6 629.4 617.4 630.1 616.2 630.9 615.0 631.6 613.8 632.3 612.6 633.1 611.4 633.9 610.2 634.6 609.0 635.4 607.9 636.1 606.7 636.9 605.5 637.7 604.3 638.4 603.2 639.2 602.0L639.2 602.0L639.0 603.4 638.8 604.8 638.5 606.1 638.3 607.5 638.1 608.9 637.8 610.3 637.6 611.7 637.4 613.1 637.1 614.4 636.9 615.8 636.6 617.2 636.4 618.6 636.1 619.9 635.8 621.3 635.5 622.7 635.3 624.1 635.0 625.4 634.7 626.8 634.4 628.2 634.0 629.5 633.7 630.9 633.4 632.3 633.0 633.6 632.6 635.0 632.3 636.3 631.9 637.7 631.5 639.0 631.2 640.4 630.8 641.7 630.4 643.1 630.1 644.4 629.7 645.8 629.4 647.1 629.0 648.5 628.7 649.9 628.3 651.2 628.0 652.6 627.6 653.9 627.2 655.3 626.8 656.6 626.3 657.9 625.9 659.2 625.4 660.6 624.9 661.9 624.5 663.2 624.0 664.5 623.5 665.8 623.0 667.2 622.6 668.5 622.1 669.8 621.7 671.1 621.2 672.5 620.8 673.8 620.4 675.1 620.0 676.5 619.6 677.8 619.2 679.2 618.8 680.5 618.4 681.8 618.0 683.2 617.6 684.5 617.2 685.9 616.8 687.2 616.4 688.6 616.0 689.9 615.6 691.2 615.2 692.6 614.8 693.9 614.4 695.3 614.0 696.6 613.6 698.0 613.2 699.3 612.8 700.6 612.4 702.0 612.0 703.3 611.6 704.7 611.2 706.0 610.8 707.4 610.4 708.7 610.0 710.0 609.6 711.4 609.2 712.7 608.8 714.1 608.4 715.4 608.0 716.8 607.6 718.1 607.2 719.4 606.7 720.8 606.3 722.1 605.9 723.5 605.5 724.8 605.1 726.1 604.7 727.5 604.3 728.8 603.9 730.2 603.6 731.5 603.2 732.9 602.8 734.2 602.4 735.6 602.0 736.9 601.6 738.2 601.2 739.6 600.8 740.9 600.4 742.3 600.0 743.6 599.6 745.0 599.2 746.3 598.8 747.6 598.4 749.0 598.0 750.3 597.5 751.7 597.1 753.0 596.7 754.3 596.3 755.7 595.9 757.0 595.4 758.3 595.0 759.7 594.6 761.0 594.1 762.3 593.7 763.7 593.2 765.0 592.7 766.3 592.3 767.6 591.8 769.0 591.3 770.3 590.9 771.6 590.4 772.9 589.9 774.2 589.4 775.5 588.9 776.8 588.4 778.2 587.9 779.5 587.4 780.8 586.9 782.1 586.4 783.4 585.9 784.7 585.4 786.0 584.8 787.3 584.3 788.6 583.8 789.9 583.3 791.2 582.8 792.5 582.3 793.8 581.8 795.1 581.3 796.4 580.8 797.7 580.3 799.0 579.8 800.3 579.3 801.7 578.8 803.0 578.3 804.3 577.8 805.6 577.2 806.9 576.7 808.2 576.2 809.5 575.7 810.8 575.2 812.1 574.7 813.4 574.2 814.7 573.7 816.0 573.2 817.3 572.7 818.6 572.2 819.9 571.6 821.2 571.1 822.5 570.6 823.8 570.0 825.1 569.5 826.4 568.9 827.7 568.3 829.0 567.7 830.2 567.1 831.5 566.5 832.8 565.9 834.0 565.3 835.3 564.6 836.5 564.0 837.7 563.3 839.0 562.6 840.2 561.9 841.4 561.2 842.6 560.5 843.8 559.8 845.0 559.1 846.3 558.4 847.5 557.7 848.7 556.9 849.9 556.2 851.0 555.5 852.2 554.7 853.4 554.0 854.6 553.3 855.8 552.6 857.0 551.8 858.2 551.1 859.4 550.4 860.6 549.7 861.9 549.0 863.1 548.3 864.3 547.6 865.5 546.9 866.7 546.2 867.9 545.5 869.1 544.8 870.3 544.1 871.5 543.4 872.8 542.6 874.0 541.9 875.2 541.2 876.4 540.5 877.6 539.8 878.8 539.1 880.0 538.4 881.2 537.7 882.4 537.0 883.6 536.3 884.9 535.6 886.1 534.9 887.3 534.2 888.5 533.5 889.7 532.7 890.9 532.0 892.1 531.3 893.3 530.6 894.5 529.9 895.7 529.2 896.9 528.4 898.1 527.7 899.3 527.0 900.5 526.3 901.7 525.6 902.9 524.8 904.1 524.1 905.3 523.4 906.5 522.7 907.7 521.9 908.9 521.2 910.1 520.5 911.3 519.8 912.5 519.0 913.7 518.3 914.9 517.6 916.1 516.8 917.3 516.1 918.5 515.4 919.7 514.7 920.9 513.9 922.1 513.2 923.3 512.5 924.5 511.8 925.7 511.1 926.9 510.4 928.1 509.6 929.3 508.9 930.5 508.2 931.7 507.5 932.9 506.8 934.1 506.1 935.4 505.4 936.6 504.6 937.8 503.9 939.0 503.2 940.2 502.5 941.4 501.7 942.6 501.0 943.8 500.3 944.9 499.5 946.1 498.8 947.3 498.0 948.5 497.2 949.6 496.4 950.8 495.6 951.9 494.8 953.1 494.0 954.2 493.1 955.3 492.2 956.4 491.4 957.5 490.5 958.6 489.6 959.7 488.7 960.7 487.8 961.8 486.9 962.9 486.0 964.0 485.1 965.1 484.3 966.2 483.4 967.3 482.6 968.4 481.7 969.5 480.9 970.7 480.1 971.8 479.3 972.9 478.5 974.1 477.7 975.2 476.9 976.4 476.1 977.5 475.3 978.7 474.5 979.8 473.7 981.0 472.9 982.1 472.1 983.3 471.3 984.4 470.5 985.6 469.7 986.7 468.9 987.9 468.1 989.0 467.3 990.2 466.5 991.4 465.7 992.5 464.9 993.7 464.1 994.8 463.3 996.0 462.6 997.1 461.8 998.3 461.0 999.5 460.2 1000.6 459.4 1001.8 458.6 1002.9 457.8 1004.1 457.1 1005.3 456.3 1006.4 455.5 1007.6 454.7 1008.8 453.9 1009.9 453.2 1011.1 452.4 1012.2 451.6 1013.4 450.8 1014.6 450.1 1015.8 449.3 1016.9 448.5 1018.1 447.8 1019.3 447.0 1020.5 446.3 1021.6 445.5 1022.8 444.8 1024.0 444.1 1025.2 443.3 1026.4 442.6 1027.6 441.9 1028.8 441.1 1030.0 440.4 1031.2 439.7 1032.4 439.0 1033.6 438.2 1034.8 437.5 1036.0 436.7 1037.2 436.0 1038.4 435.2 1039.5 434.5 1040.7 433.7 1041.9 432.9 1043.0 432.1 1044.2 431.3 1045.3 430.4 1046.4 429.6 1047.5 428.7 1048.6 427.8 1049.7 426.9 1050.8 426.0 1051.8 425.0 1052.8 424.0 1053.8 423.0 1054.7 421.9 1055.6 420.8 1056.4 419.6 1057.2 418.5 1058.0 417.2 1058.7 416.0 1059.3 414.7 1059.8 413.4 1060.3 412.1 1060.7 410.7 1060.9 409.4 1061.1 408.0 1061.2 406.6 1061.2 405.3 1061.1 403.9 1060.9 402.5 1060.6 401.2 1060.2 399.9 1059.7 398.7 1059.1 397.5 1058.4 396.3 1057.7 395.2 1056.9 394.1 1056.0 393.1 1055.0 392.2 1054.0 391.3 1052.9 390.4 1051.8 389.6 1050.7 388.8 1049.6 388.1 1048.4 387.3 1047.2 386.6 1046.0 385.9 1044.8 385.2 1043.6 384.5 1042.3 383.8 1041.1 383.1 1039.9 382.5 1038.7 381.8 1037.5 381.1 1036.2 380.4 1035.0 379.7 1033.8 379.0 1032.6 378.3 1031.3 377.6 1030.1 377.0 1028.9 376.3 1027.7 375.6 1026.5 374.9 1025.2 374.2 1024.0 373.5 1022.8 372.9 1021.6 372.2 1020.3 371.5 1019.1 370.8 1017.9 370.2 1016.7 369.5 1015.4 368.8 1014.2 368.2 1013.0 367.5 1011.7 366.8 1010.5 366.2 1009.3 365.5 1008.0 364.8 1006.8 364.2 1005.6 363.5 1004.3 362.9 1003.1 362.2 1001.8 361.6 1000.6 360.9 999.4 360.3 998.1 359.6 996.9 359.0 995.6 358.4 994.4 357.7 993.1 357.1 991.9 356.5 990.6 355.9 989.4 355.2 988.1 354.6 986.8 354.0 985.6 353.4 984.3 352.8 983.1 352.2 981.8 351.6 980.5 350.9 979.3 350.3 978.0 349.7 976.8 349.1 975.5 348.5 974.2 347.9 973.0 347.3 971.7 346.6 970.5 346.0 969.2 345.4 968.0 344.8 966.7 344.1 965.5 343.5 964.2 342.8 963.0 342.1 961.8 341.5 960.5 340.8 959.3 340.1 958.1 339.3 956.9 338.6 955.7 337.8 954.5 337.1 953.4 336.3 952.2 335.4 951.1 334.6 950.0 333.8 948.8 332.9 947.7 332.1 946.6 331.3 945.5 330.4 944.3 329.6 943.2 328.8 942.1 328.0 940.9 327.2 939.7 326.4 938.6 325.6 937.5 324.8 936.3 323.9 935.3 323.0 934.3 322.0 933.3 320.9 932.4 319.9 931.5 318.7 930.7 317.6 930.0 316.5 929.4 315.3 928.9 314.2 928.7 313.2 928.8 312.1 929.1 311.1 929.7 310.1 930.5 309.2 931.4 308.3 932.5 307.4 933.5 306.6 934.6 305.7 935.8 304.9 936.9 304.1 938.1 303.4 939.3 302.6 940.4 301.9 941.6 301.2 942.9 300.6 944.1 300.0 945.3 299.3 946.6 298.8 947.9 298.2 949.2 297.6 950.4 297.1 951.7 296.5 953.0 296.0 954.3 295.4 955.6 294.9 956.9 294.3 958.2 293.7 959.4 293.1 960.7 292.5 962.0 291.9 963.2 291.2 964.5 290.6 965.7 289.9 966.9 289.2 968.2 288.6 969.4 287.9 970.6 287.2 971.8 286.5 973.0 285.8 974.2 285.1 975.5 284.4 976.7 283.7 977.9 282.9 979.1 282.2 980.3 281.5 981.5 280.8 982.7 280.1 983.9 279.4 985.1 278.6 986.3 277.8 987.4 277.0 988.6 276.2 989.7 275.3 990.7 274.3 991.7 273.3 992.6 272.2 993.4 271.0 994.1 269.8 994.6 268.5 994.9 267.2 995.1 265.8 995.2 264.5 995.1 263.2 994.8 261.9 994.4 260.7 993.8 259.5 993.2 258.3 992.4 257.2 991.5 256.2 990.6 255.2 989.6 254.3 988.6 253.4 987.5 252.6 986.4 251.7 985.3 251.0 984.1 250.2 982.9 249.5 981.7 248.8 980.5 248.1 979.3 247.5 978.1 246.8 976.8 246.2 975.6 245.6 974.3 245.0 973.0 244.4 971.8 243.8 970.5 243.2 969.2 242.6 968.0 242.1 966.7 241.5 965.4 241.0 964.1 240.4 962.8 239.9 961.5 239.4 960.2 238.8 958.9 238.3 957.6 237.7 956.3 237.2 955.1 236.6 953.8 236.0 952.5 235.3 951.3 234.7 950.0 234.0 948.8 233.3 947.6 232.7 946.4 232.0 945.1 231.3 943.9 230.5 942.7 229.8 941.5 229.1 940.3 228.3 939.2 227.6 938.0 226.8 936.8 226.0 935.6 225.2 934.5 224.4 933.3 223.6 932.2 222.8 931.0 222.0 929.9 221.2 928.8 220.4 927.6 219.6 926.5 218.7 925.4 217.9 924.3 217.0 923.2 216.1 922.1 215.2 921.0 214.3 920.0 213.3 919.0 212.3 918.0 211.3 917.1 210.2 916.2 209.1 915.3 208.0 914.5 206.8 913.8 205.6 913.1 204.3 912.4 203.1 911.8 201.8 911.2 200.6 910.6 199.3 910.0 198.0 909.5 196.7 909.0 195.4 908.5 194.0 908.0 192.7 907.6 191.4 907.2 190.0 906.8 188.7 906.4 187.3 906.0 186.0 905.7 184.6 905.4 183.2 905.1 181.9 904.8 180.5 904.6 179.1 904.3 177.7 904.1 176.4 903.8 175.0 903.6 173.6 903.4 172.2 903.2 170.8 903.0 169.4 902.8 168.0 902.6 166.7 902.4 165.3 902.2 163.9 902.1 162.5 901.9 161.1 901.7 159.7 901.6 158.3 901.4 156.9 901.3 155.5 901.1 154.1 901.0 152.7 900.9 151.3 900.7 149.9 900.6 148.5 900.5 147.1 900.3 145.8 900.2 144.4 900.1 143.0 900.0 141.6 899.8 140.2 899.7 138.8 899.6 137.4 899.5 136.0 899.4 134.6 899.3 133.2 899.2 131.8 899.0 130.4 898.9 129.0 898.8 127.6 898.7 126.2 898.6 124.8 898.6 123.4 898.5 122.0 898.4 120.6 898.3 119.2 898.3 117.8 898.3 116.4 898.3 115.0 898.2 113.6 898.2 112.2 898.3 110.8 898.3 109.4 898.3L109.4 897.9" stroke="#1025B8" stroke-width="3.6" fill="none" stroke-linejoin="round" stroke-linecap="round"/>
<path d="M109.4 905.8L110.1 904.6 110.9 903.5 111.7 902.4 112.6 901.4 113.6 900.4 114.7 899.5 115.8 898.7 117.0 897.9 118.2 897.2 119.4 896.6 120.6 896.0 121.9 895.4 123.2 894.9 124.5 894.4 125.9 894.0 127.2 893.5 128.5 893.1 129.9 892.7 131.2 892.4 132.6 892.0 134.0 891.6 135.3 891.3 136.7 891.0 138.0 890.7 139.4 890.4 140.8 890.1 142.2 889.8 143.5 889.5 144.9 889.3 146.3 889.0 147.7 888.8 149.1 888.6 150.4 888.3 151.8 888.1 153.2 887.9 154.6 887.7 156.0 887.5 157.4 887.3 158.8 887.1 160.2 886.9 161.5 886.8 162.9 886.6 164.3 886.4 165.7 886.2 167.1 886.0 168.5 885.9 169.9 885.7 171.3 885.5 172.7 885.4 174.1 885.2 175.5 885.0 176.9 884.9 178.3 884.7 179.6 884.6 181.0 884.4 182.4 884.3 183.8 884.1 185.2 884.0 186.6 883.8 188.0 883.7 189.4 883.5 190.8 883.4 192.2 883.2 193.6 883.1 195.0 883.0 196.4 882.8 197.8 882.7 199.2 882.6 200.6 882.5 202.0 882.4 203.4 882.3 204.8 882.1 206.2 882.1 207.6 882.0 209.0 881.9 210.4 881.8 211.8 881.7 213.2 881.7 214.6 881.6 216.0 881.5 217.4 881.5 218.8 881.4 220.2 881.4 221.6 881.3 223.0 881.3 224.4 881.2 225.8 881.2 227.2 881.1 228.6 881.1 230.0 881.0 231.4 880.9 232.8 880.9 234.2 880.8 235.6 880.7 237.0 880.6 238.4 880.6 239.8 880.5 241.2 880.4 242.6 880.3 244.0 880.1 245.4 880.0 246.8 879.9 248.2 879.8 249.6 879.7 251.0 879.5 252.4 879.4 253.8 879.3 255.2 879.1 256.5 879.0 257.9 878.9 259.3 878.7 260.7 878.6 262.1 878.4 263.5 878.3 264.9 878.1 266.3 878.0 267.7 877.8 269.1 877.7 270.5 877.5 271.9 877.4 273.3 877.2 274.7 877.1 276.1 876.9 277.5 876.8 278.9 876.6 280.3 876.5 281.6 876.3 283.0 876.2 284.4 876.0 285.8 875.9 287.2 875.7 288.6 875.6 290.0 875.4 291.4 875.3 292.8 875.1 294.2 875.0 295.6 874.8 297.0 874.7 298.4 874.5 299.8 874.4 301.2 874.2 302.6 874.1 304.0 873.9 305.3 873.7 306.7 873.6 308.1 873.4 309.5 873.3 310.9 873.1 312.3 873.0 313.7 872.8 315.1 872.6 316.5 872.5 317.9 872.3 319.3 872.1 320.7 872.0 322.1 871.8 323.4 871.6 324.8 871.4 326.2 871.2 327.6 871.0 329.0 870.7 330.4 870.5 331.7 870.2 333.1 869.9 334.5 869.6 335.8 869.3 337.2 868.9 338.6 868.6 339.9 868.3 341.3 868.0 342.7 867.7 344.0 867.4 345.4 867.2 346.8 866.9 348.2 866.6 349.5 866.4 350.9 866.1 352.3 865.7 353.6 865.4 355.0 865.0 356.3 864.6 357.7 864.2 359.0 863.7 360.3 863.3 361.6 862.8 362.9 862.3 364.2 861.8 365.5 861.2 366.8 860.7 368.1 860.2 369.4 859.6 370.7 859.1 372.0 858.5 373.3 858.0 374.6 857.4 375.9 856.9 377.1 856.3 378.4 855.7 379.7 855.1 381.0 854.5 382.2 853.9 383.5 853.3 384.8 852.7 386.0 852.1 387.3 851.5 388.6 850.9 389.8 850.3 391.1 849.6 392.3 849.0 393.6 848.4 394.8 847.7 396.0 847.1 397.3 846.4 398.5 845.7 399.7 845.1 401.0 844.4 402.2 843.7 403.4 843.0 404.6 842.3 405.9 841.6 407.1 840.9 408.3 840.2 409.5 839.5 410.7 838.8 411.9 838.1 413.1 837.4 414.3 836.6 415.5 835.9 416.7 835.2 417.9 834.4 419.1 833.7 420.3 833.0 421.5 832.2 422.7 831.5 423.8 830.7 425.0 830.0 426.2 829.2 427.4 828.4 428.5 827.7 429.7 826.9 430.9 826.1 432.0 825.3 433.1 824.5 434.3 823.6 435.4 822.8 436.5 821.9 437.6 821.0 438.6 820.1 439.7 819.2 440.8 818.3 441.8 817.4 442.9 816.5 444.0 815.6 445.1 814.7 446.2 813.8 447.3 813.0 448.4 812.2 449.6 811.4 450.7 810.6 451.9 809.8 453.1 809.0 454.2 808.3 455.4 807.5 456.6 806.8 457.8 806.1 459.0 805.4 460.3 804.7 461.5 804.0 462.7 803.3 464.0 802.7 465.2 802.1 466.5 801.4 467.7 800.8 469.0 800.3 470.3 799.7 471.6 799.1 472.9 798.6 474.2 798.1 475.5 797.5 476.8 797.0 478.1 796.5 479.4 796.0 480.7 795.5 482.0 795.0 483.3 794.4 484.6 793.9 485.9 793.4 487.2 792.9 488.5 792.3 489.8 791.8 491.1 791.2 492.4 790.7 493.7 790.1 494.9 789.6 496.2 789.0 497.5 788.5 498.8 788.0 500.1 787.4 501.4 787.0 502.8 786.5 504.1 786.1 505.5 785.7 506.8 785.4 508.2 785.2 509.6 785.0 510.9 784.8 512.3 784.8 513.7 784.8 515.1 784.8 516.5 784.8 517.9 784.8 519.3 784.8 520.7 784.8 522.1 784.8 523.5 784.8 524.9 784.7 526.3 784.7 527.7 784.6 529.1 784.4 530.5 784.2 531.9 784.0 533.2 783.6 534.5 783.2 535.8 782.6 537.0 782.0 538.2 781.3 539.3 780.5 540.5 779.7 541.5 778.8 542.6 777.9 543.6 776.9 544.6 776.0 545.6 775.0 546.5 773.9 547.5 772.9 548.3 771.8 549.2 770.7 550.0 769.5 550.8 768.4 551.6 767.2 552.3 766.0 553.0 764.8 553.7 763.6 554.5 762.4 555.2 761.2 555.9 760.0 556.6 758.8 557.2 757.5 557.9 756.3 558.6 755.1 559.3 753.9 560.0 752.7 560.7 751.4 561.3 750.2 562.0 749.0 562.7 747.7 563.4 746.5 564.1 745.3 564.7 744.1 565.4 742.8 566.1 741.6 566.8 740.4 567.5 739.2 568.1 737.9 568.8 736.7 569.5 735.5 570.2 734.3 570.9 733.0 571.6 731.8 572.3 730.6 572.9 729.4 573.6 728.2 574.3 726.9 575.0 725.7 575.7 724.5 576.3 723.2 577.0 722.0 577.7 720.8 578.4 719.6 579.0 718.3 579.7 717.1 580.3 715.8 581.0 714.6 581.6 713.3 582.2 712.1 582.9 710.8 583.5 709.6 584.1 708.3 584.7 707.0 585.3 705.8 585.9 704.5 586.5 703.3 587.1 702.0 587.7 700.7 588.3 699.4 588.9 698.2 589.5 696.9 590.1 695.6 590.7 694.4 591.3 693.1 591.9 691.8 592.5 690.6 593.1 689.3 593.8 688.1 594.4 686.8 595.0 685.5 595.6 684.3 596.2 683.0 596.8 681.7 597.4 680.5 598.0 679.2 598.6 678.0 599.2 676.7 599.8 675.4 600.4 674.2 601.0 672.9 601.6 671.6 602.2 670.3 602.8 669.1 603.4 667.8 604.0 666.5 604.5 665.2 605.1 664.0 605.7 662.7 606.2 661.4 606.8 660.1 607.4 658.8 607.9 657.5 608.5 656.3 609.1 655.0 609.6 653.7 610.2 652.4 610.8 651.1 611.4 649.9 612.0 648.6 612.6 647.3 613.2 646.1 613.8 644.8 614.4 643.5 615.0 642.3 615.7 641.0 616.3 639.8 616.9 638.5 617.6 637.3 618.2 636.0 618.9 634.8 619.5 633.6 620.2 632.3 620.9 631.1 621.5 629.9 622.2 628.6 622.9 627.4 623.6 626.2 624.3 625.0 625.0 623.8 625.7 622.6 626.4 621.4 627.1 620.2 627.9 619.0 628.6 617.8 629.3 616.6 630.1 615.4 630.8 614.2 631.6 613.0 632.4 611.8 633.2 610.7 634.0 609.5 634.8 608.4 635.6 607.2 636.4 606.1 637.3 605.0 638.1 603.9 639.0 602.8L639.0 602.8L638.7 604.2 638.5 605.6 638.2 606.9 638.0 608.3 637.7 609.7 637.5 611.1 637.2 612.4 636.9 613.8 636.7 615.2 636.4 616.6 636.2 618.0 635.9 619.3 635.6 620.7 635.4 622.1 635.1 623.5 634.8 624.8 634.5 626.2 634.2 627.6 633.9 628.9 633.6 630.3 633.2 631.7 632.9 633.0 632.5 634.4 632.1 635.7 631.8 637.1 631.4 638.4 631.0 639.8 630.7 641.1 630.3 642.5 629.9 643.8 629.6 645.2 629.2 646.6 628.9 647.9 628.5 649.3 628.2 650.6 627.8 652.0 627.4 653.3 627.0 654.7 626.6 656.0 626.2 657.3 625.8 658.7 625.3 660.0 624.9 661.3 624.4 662.6 623.9 664.0 623.4 665.3 622.9 666.6 622.5 667.9 622.0 669.2 621.6 670.6 621.1 671.9 620.7 673.2 620.3 674.6 619.9 675.9 619.5 677.2 619.1 678.6 618.7 679.9 618.2 681.3 617.9 682.6 617.5 684.0 617.1 685.3 616.7 686.7 616.3 688.0 615.9 689.3 615.5 690.7 615.1 692.0 614.7 693.4 614.3 694.7 613.9 696.1 613.5 697.4 613.1 698.7 612.7 700.1 612.3 701.4 611.9 702.8 611.5 704.1 611.1 705.5 610.7 706.8 610.3 708.1 609.8 709.5 609.4 710.8 609.0 712.2 608.6 713.5 608.2 714.9 607.8 716.2 607.4 717.5 607.0 718.9 606.6 720.2 606.2 721.6 605.8 722.9 605.4 724.3 605.0 725.6 604.6 726.9 604.2 728.3 603.8 729.6 603.4 731.0 603.0 732.3 602.6 733.7 602.2 735.0 601.8 736.3 601.4 737.7 601.0 739.0 600.6 740.4 600.2 741.7 599.8 743.1 599.4 744.4 599.0 745.8 598.6 747.1 598.2 748.4 597.8 749.8 597.4 751.1 597.0 752.5 596.6 753.8 596.2 755.1 595.7 756.5 595.3 757.8 594.9 759.1 594.4 760.5 594.0 761.8 593.5 763.1 593.1 764.5 592.6 765.8 592.2 767.1 591.7 768.4 591.2 769.7 590.8 771.1 590.3 772.4 589.8 773.7 589.3 775.0 588.8 776.3 588.3 777.6 587.8 778.9 587.3 780.3 586.8 781.6 586.3 782.9 585.8 784.2 585.3 785.5 584.7 786.8 584.2 788.1 583.7 789.4 583.2 790.7 582.7 792.0 582.2 793.3 581.7 794.6 581.2 795.9 580.7 797.2 580.2 798.5 579.7 799.8 579.2 801.2 578.7 802.5 578.2 803.8 577.7 805.1 577.2 806.4 576.7 807.7 576.2 809.0 575.7 810.3 575.2 811.7 574.7 813.0 574.3 814.3 573.8 815.6 573.3 816.9 572.7 818.2 572.2 819.5 571.7 820.8 571.2 822.1 570.7 823.4 570.1 824.7 569.6 826.0 569.0 827.3 568.5 828.6 567.9 829.8 567.3 831.1 566.7 832.4 566.1 833.6 565.5 834.9 564.8 836.1 564.2 837.4 563.5 838.6 562.8 839.8 562.1 841.1 561.4 842.3 560.7 843.5 560.0 844.7 559.3 845.9 558.6 847.1 557.9 848.3 557.2 849.5 556.4 850.7 555.7 851.9 555.0 853.1 554.2 854.3 553.5 855.5 552.8 856.7 552.1 857.9 551.3 859.1 550.6 860.3 549.9 861.5 549.2 862.7 548.5 863.9 547.8 865.1 547.0 866.3 546.3 867.5 545.6 868.8 544.9 870.0 544.2 871.2 543.5 872.4 542.8 873.6 542.1 874.8 541.3 876.0 540.6 877.2 539.9 878.4 539.2 879.6 538.5 880.8 537.8 882.0 537.1 883.2 536.3 884.4 535.6 885.6 534.9 886.8 534.2 888.0 533.5 889.2 532.7 890.4 532.0 891.6 531.3 892.8 530.6 894.0 529.8 895.2 529.1 896.4 528.4 897.6 527.7 898.8 526.9 900.0 526.2 901.2 525.5 902.4 524.8 903.6 524.0 904.8 523.3 906.0 522.6 907.2 521.8 908.4 521.1 909.6 520.4 910.8 519.6 912.0 518.9 913.2 518.2 914.4 517.4 915.6 516.7 916.8 516.0 918.0 515.2 919.2 514.5 920.4 513.8 921.6 513.0 922.8 512.3 924.0 511.6 925.2 510.9 926.4 510.1 927.6 509.4 928.8 508.7 930.0 508.0 931.2 507.3 932.4 506.6 933.6 505.8 934.8 505.1 936.0 504.4 937.2 503.7 938.4 502.9 939.6 502.2 940.8 501.5 942.0 500.7 943.2 500.0 944.4 499.2 945.5 498.5 946.7 497.7 947.9 496.9 949.1 496.1 950.2 495.3 951.4 494.5 952.5 493.7 953.6 492.8 954.7 491.9 955.8 491.0 956.9 490.1 957.9 489.2 959.0 488.3 960.1 487.4 961.1 486.5 962.2 485.6 963.3 484.7 964.4 483.8 965.5 483.0 966.6 482.1 967.7 481.3 968.8 480.4 969.9 479.6 971.1 478.8 972.2 478.0 973.4 477.2 974.5 476.4 975.7 475.7 976.8 474.9 978.0 474.1 979.2 473.3 980.3 472.5 981.5 471.8 982.7 471.0 983.8 470.2 985.0 469.4 986.2 468.7 987.3 467.9 988.5 467.1 989.7 466.4 990.9 465.6 992.0 464.8 993.2 464.0 994.4 463.3 995.6 462.5 996.7 461.7 997.9 461.0 999.1 460.2 1000.2 459.4 1001.4 458.7 1002.6 457.9 1003.8 457.1 1004.9 456.4 1006.1 455.6 1007.3 454.8 1008.5 454.1 1009.6 453.3 1010.8 452.5 1012.0 451.8 1013.1 451.0 1014.3 450.2 1015.5 449.4 1016.7 448.7 1017.8 447.9 1019.0 447.2 1020.2 446.4 1021.4 445.6 1022.5 444.9 1023.7 444.1 1024.9 443.4 1026.1 442.6 1027.2 441.8 1028.4 441.1 1029.6 440.3 1030.8 439.6 1032.0 438.8 1033.1 438.0 1034.3 437.2 1035.5 436.5 1036.6 435.7 1037.8 434.9 1038.9 434.0 1040.1 433.2 1041.2 432.4 1042.3 431.5 1043.4 430.6 1044.5 429.7 1045.6 428.8 1046.6 427.9 1047.7 426.9 1048.7 425.9 1049.6 424.9 1050.6 423.8 1051.5 422.7 1052.3 421.5 1053.1 420.3 1053.8 419.1 1054.4 417.8 1055.0 416.5 1055.5 415.2 1055.9 413.9 1056.2 412.5 1056.4 411.1 1056.4 409.8 1056.4 408.4 1056.3 407.0 1056.1 405.7 1055.7 404.4 1055.3 403.1 1054.8 401.8 1054.2 400.6 1053.6 399.4 1052.9 398.3 1052.1 397.2 1051.2 396.1 1050.3 395.1 1049.3 394.2 1048.3 393.2 1047.3 392.3 1046.2 391.5 1045.1 390.6 1044.0 389.8 1042.9 389.0 1041.7 388.2 1040.6 387.5 1039.4 386.7 1038.2 386.0 1037.0 385.2 1035.8 384.5 1034.6 383.8 1033.4 383.1 1032.2 382.4 1031.0 381.7 1029.8 380.9 1028.6 380.2 1027.4 379.5 1026.2 378.8 1024.9 378.1 1023.7 377.4 1022.5 376.7 1021.3 376.0 1020.1 375.3 1018.9 374.6 1017.7 373.9 1016.5 373.2 1015.2 372.5 1014.0 371.8 1012.8 371.1 1011.6 370.5 1010.4 369.8 1009.1 369.1 1007.9 368.4 1006.7 367.7 1005.4 367.1 1004.2 366.4 1003.0 365.7 1001.8 365.1 1000.5 364.4 999.3 363.7 998.1 363.0 996.8 362.4 995.6 361.7 994.4 361.0 993.2 360.3 991.9 359.7 990.7 359.0 989.5 358.3 988.2 357.7 987.0 357.0 985.8 356.4 984.5 355.7 983.3 355.0 982.0 354.4 980.8 353.7 979.6 353.1 978.3 352.4 977.1 351.7 975.9 351.1 974.6 350.4 973.4 349.8 972.1 349.1 970.9 348.4 969.7 347.8 968.4 347.1 967.2 346.4 966.0 345.8 964.8 345.1 963.5 344.4 962.3 343.7 961.1 343.0 959.9 342.3 958.7 341.6 957.5 340.8 956.3 340.1 955.1 339.3 953.9 338.5 952.8 337.7 951.6 336.9 950.5 336.1 949.4 335.2 948.2 334.3 947.1 333.5 946.1 332.6 945.0 331.7 943.9 330.9 942.8 330.0 941.6 329.2 940.5 328.3 939.4 327.5 938.3 326.7 937.1 325.8 936.0 324.9 935.0 324.0 933.9 323.0 933.0 322.0 932.0 320.9 931.2 319.7 930.5 318.5 929.9 317.3 929.3 316.0 929.0 314.7 928.8 313.3 928.8 312.1 929.0 310.8 929.3 309.6 929.9 308.4 930.5 307.3 931.3 306.2 932.2 305.3 933.2 304.3 934.2 303.5 935.3 302.7 936.4 302.0 937.6 301.3 938.8 300.6 940.1 300.0 941.3 299.4 942.6 298.8 943.9 298.2 945.1 297.6 946.4 297.0 947.7 296.5 949.0 295.9 950.2 295.4 951.5 294.8 952.8 294.3 954.1 293.7 955.4 293.2 956.7 292.6 958.0 292.1 959.3 291.6 960.6 291.0 961.9 290.5 963.2 290.0 964.5 289.4 965.8 288.9 967.1 288.3 968.3 287.8 969.6 287.2 970.9 286.7 972.2 286.1 973.5 285.6 974.8 285.0 976.1 284.4 977.3 283.8 978.6 283.3 979.9 282.7 981.2 282.1 982.5 281.5 983.7 280.9 985.0 280.3 986.2 279.7 987.5 279.0 988.8 278.4 990.0 277.7 991.2 277.1 992.5 276.4 993.7 275.7 994.9 275.0 996.1 274.2 997.3 273.5 998.5 272.7 999.6 271.9 1000.8 271.1 1001.9 270.2 1003.0 269.3 1004.1 268.4 1005.1 267.4 1006.1 266.4 1007.1 265.4 1008.0 264.3 1008.9 263.2 1009.7 262.0 1010.5 260.8 1011.2 259.6 1011.8 258.3 1012.4 257.0 1012.8 255.7 1013.2 254.3 1013.4 253.0 1013.5 251.6 1013.5 250.2 1013.3 248.9 1013.1 247.6 1012.7 246.3 1012.2 245.1 1011.6 243.9 1010.9 242.8 1010.1 241.7 1009.2 240.7 1008.3 239.7 1007.3 238.7 1006.3 237.8 1005.3 237.0 1004.2 236.1 1003.0 235.3 1001.9 234.6 1000.7 233.9 999.5 233.2 998.3 232.5 997.1 231.8 995.8 231.2 994.6 230.6 993.3 230.0 992.1 229.4 990.8 228.8 989.5 228.2 988.2 227.6 987.0 227.0 985.7 226.5 984.4 225.9 983.1 225.3 981.9 224.8 980.6 224.2 979.3 223.7 978.0 223.1 976.7 222.6 975.4 222.1 974.1 221.5 972.8 221.0 971.5 220.5 970.2 219.9 968.9 219.4 967.6 218.9 966.3 218.3 965.0 217.8 963.7 217.2 962.5 216.6 961.2 216.1 959.9 215.5 958.6 214.9 957.4 214.3 956.1 213.7 954.8 213.1 953.5 212.5 952.3 211.9 951.0 211.2 949.8 210.6 948.5 209.9 947.3 209.2 946.1 208.5 944.9 207.8 943.7 207.1 942.5 206.3 941.3 205.5 940.1 204.8 939.0 204.0 937.8 203.2 936.7 202.4 935.5 201.6 934.4 200.7 933.2 199.9 932.1 199.0 931.0 198.1 930.0 197.2 928.9 196.2 927.9 195.2 927.0 194.2 926.0 193.1 925.1 192.0 924.2 190.9 923.3 189.8 922.5 188.7 921.7 187.5 920.9 186.4 920.1 185.2 919.3 184.0 918.5 182.8 917.8 181.6 917.1 180.4 916.5 179.1 915.9 177.8 915.3 176.5 914.8 175.2 914.3 173.9 913.9 172.6 913.5 171.2 913.2 169.8 912.8 168.5 912.5 167.1 912.2 165.7 912.0 164.4 911.7 163.0 911.4 161.6 911.2 160.2 910.9 158.8 910.7 157.5 910.5 156.1 910.2 154.7 910.0 153.3 909.8 151.9 909.5 150.5 909.3 149.2 909.1 147.8 908.9 146.4 908.7 145.0 908.5 143.6 908.3 142.2 908.1 140.8 907.9 139.5 907.7 138.1 907.5 136.7 907.3 135.3 907.1 133.9 907.0 132.5 906.8 131.1 906.7 129.7 906.5 128.3 906.4 126.9 906.3 125.5 906.2 124.1 906.2 122.7 906.1 121.3 906.1 119.9 906.0 118.5 906.0 117.1 906.0 115.7 906.0 114.3 906.0 112.9 906.0 111.5 906.0 110.1 906.0 109.4 906.0L109.4 905.8" stroke="#820A0A" stroke-width="3.6" fill="none" stroke-linejoin="round" stroke-linecap="round"/>
<path d="M106.8 1464.9L108.2 1464.9 109.6 1464.9 111.0 1464.9 112.4 1464.9 113.8 1464.9 115.2 1464.9 116.6 1464.9 118.0 1464.9 119.4 1464.9 120.8 1464.9 122.2 1464.9 123.6 1464.9 125.0 1464.9 126.4 1464.9 127.8 1464.9 129.2 1464.9 130.6 1464.9 132.1 1464.9 133.5 1464.9 134.9 1464.9 136.3 1464.9 137.7 1464.9 139.1 1464.9 140.5 1464.9 141.9 1464.9 143.3 1464.9 144.7 1464.9 146.1 1464.9 147.5 1464.9 148.9 1464.9 150.3 1464.9 151.7 1464.9 153.1 1464.9 154.5 1464.9 155.9 1464.9 157.3 1464.9 158.7 1464.9 160.1 1464.9 161.5 1464.9 162.9 1464.9 164.3 1464.9 165.7 1464.9 167.1 1464.9 168.5 1464.9 169.9 1464.9 171.3 1464.9 172.7 1464.9 174.1 1464.9 175.5 1464.9 176.9 1464.9 178.3 1464.9 179.8 1464.9 181.2 1464.9 182.6 1464.9 184.0 1464.9 185.4 1464.9 186.8 1464.9 188.2 1464.9 189.6 1464.9 191.0 1464.9 192.4 1464.9 193.8 1465.0 195.2 1465.0 196.6 1465.0 198.0 1464.9 199.4 1464.9 200.8 1464.9 202.2 1464.9 203.6 1464.9 205.0 1464.9 206.4 1464.9 207.8 1464.9 209.2 1464.9 210.6 1464.9 212.0 1464.9 213.4 1464.9 214.8 1464.9 216.2 1464.9 217.6 1464.9 219.0 1464.9 220.4 1464.9 221.8 1464.9 223.2 1464.9 224.6 1464.9 226.0 1464.9 227.4 1464.9 228.9 1464.8 230.3 1464.8 231.7 1464.8 233.1 1464.8 234.5 1464.8 235.9 1464.8 237.3 1464.8 238.7 1464.8 240.1 1464.8 241.5 1464.8 242.9 1464.8 244.3 1464.7 245.7 1464.7 247.1 1464.7 248.5 1464.7 249.9 1464.7 251.3 1464.7 252.7 1464.7 254.1 1464.7 255.5 1464.7 256.9 1464.7 258.3 1464.6 259.7 1464.6 261.1 1464.6 262.5 1464.6 263.9 1464.6 265.3 1464.6 266.7 1464.6 268.1 1464.6 269.5 1464.6 270.9 1464.5 272.3 1464.5 273.7 1464.5 275.1 1464.5 276.5 1464.5 278.0 1464.5 279.4 1464.5 280.8 1464.5 282.2 1464.5 283.6 1464.5 285.0 1464.4 286.4 1464.4 287.8 1464.4 289.2 1464.4 290.6 1464.4 292.0 1464.4 293.4 1464.4 294.8 1464.4 296.2 1464.4 297.6 1464.3 299.0 1464.3 300.4 1464.3 301.8 1464.3 303.2 1464.3 304.6 1464.3 306.0 1464.3 307.4 1464.3 308.8 1464.3 310.2 1464.3 311.6 1464.3 313.0 1464.2 314.4 1464.2 315.8 1464.2 317.2 1464.2 318.6 1464.2 320.0 1464.2 321.4 1464.2 322.8 1464.2 324.2 1464.2 325.6 1464.2 327.1 1464.2 328.5 1464.2 329.9 1464.1 331.3 1464.1 332.7 1464.1 334.1 1464.1 335.5 1464.1 336.9 1464.1 338.3 1464.1 339.7 1464.1 341.1 1464.1 342.5 1464.1 343.9 1464.1 345.3 1464.1 346.7 1464.1 348.1 1464.1 349.5 1464.1 350.9 1464.1 352.3 1464.0 353.7 1464.0 355.1 1464.0 356.5 1464.0 357.9 1464.0 359.3 1464.0 360.7 1464.0 362.1 1464.0 363.5 1464.0 364.9 1464.0 366.3 1464.0 367.7 1464.0 369.1 1464.0 370.5 1464.0 371.9 1464.0 373.3 1464.0 374.7 1464.0 376.2 1464.0 377.6 1463.9 379.0 1463.9 380.4 1463.9 381.8 1463.9 383.2 1463.9 384.6 1463.9 386.0 1463.9 387.4 1463.9 388.8 1463.9 390.2 1463.9 391.6 1463.9 393.0 1463.9 394.4 1463.9 395.8 1463.9 397.2 1463.8 398.6 1463.8 400.0 1463.8 401.4 1463.8 402.8 1463.8 404.2 1463.8 405.6 1463.8 407.0 1463.8 408.4 1463.8 409.8 1463.7 411.2 1463.7 412.6 1463.7 414.0 1463.7 415.4 1463.6 416.8 1463.6 418.2 1463.6 419.6 1463.5 421.0 1463.5 422.4 1463.5 423.8 1463.4 425.2 1463.4 426.6 1463.4 428.1 1463.3 429.5 1463.3 430.9 1463.3 432.3 1463.3 433.7 1463.3 435.1 1463.3 436.5 1463.3 437.9 1463.3 439.3 1463.3 440.7 1463.3 442.1 1463.3 443.5 1463.3 444.9 1463.4 446.3 1463.4 447.7 1463.4 449.1 1463.4 450.5 1463.4 451.9 1463.4 453.3 1463.4 454.7 1463.4 456.1 1463.4 457.5 1463.4 458.9 1463.4 460.3 1463.4 461.7 1463.4 463.1 1463.4 464.5 1463.4 465.9 1463.3 467.3 1463.3 468.7 1463.3 470.1 1463.2 471.5 1463.2 472.9 1463.1 474.3 1463.1 475.7 1463.0 477.1 1463.0 478.5 1462.9 480.0 1462.9 481.4 1462.8 482.8 1462.8 484.2 1462.7 485.6 1462.6 487.0 1462.6 488.4 1462.5 489.8 1462.4 491.2 1462.3 492.6 1462.3 494.0 1462.2 495.4 1462.1 496.8 1462.0 498.2 1461.9 499.6 1461.8 501.0 1461.7 502.4 1461.6 503.8 1461.5 505.2 1461.4 506.6 1461.3 508.0 1461.2 509.4 1461.1 510.8 1461.0 512.1 1460.9 513.5 1460.7 514.9 1460.6 516.3 1460.4 517.7 1460.3 519.1 1460.2 520.5 1460.0 521.9 1459.8 523.3 1459.7 524.7 1459.5 526.1 1459.4 527.5 1459.2 528.9 1459.1 530.3 1458.9 531.7 1458.8 533.1 1458.7 534.5 1458.6 535.9 1458.6 537.3 1458.5 538.7 1458.5 540.1 1458.4 541.4 1458.3 542.8 1458.2 544.2 1458.0 545.5 1457.7 546.9 1457.3 548.2 1456.9 549.6 1456.5 550.9 1456.1 552.2 1455.6 553.5 1455.1 554.9 1454.6 556.2 1454.1 557.5 1453.7 558.8 1453.2 560.1 1452.7 561.4 1452.2 562.8 1451.7 564.1 1451.3 565.4 1450.8 566.7 1450.3 568.1 1449.9 569.4 1449.4 570.7 1449.0 572.1 1448.6 573.4 1448.2 574.8 1447.8 576.1 1447.4 577.5 1447.1 578.8 1446.7 580.2 1446.3 581.5 1446.0 582.9 1445.6 584.2 1445.3 585.6 1445.0 587.0 1444.6 588.3 1444.3 589.7 1444.0 591.1 1443.7 592.4 1443.4 593.8 1443.0 595.2 1442.7 596.5 1442.4 597.9 1442.2 599.3 1441.9 600.7 1441.6 602.0 1441.3 603.4 1441.0 604.8 1440.8 606.2 1440.5 607.6 1440.3 608.9 1440.1 610.3 1439.8 611.7 1439.6 613.1 1439.4 614.5 1439.3 615.9 1439.1 617.3 1439.0 618.7 1438.8 620.1 1438.7 621.5 1438.6 622.9 1438.5 624.3 1438.5 625.7 1438.4 627.1 1438.4 628.5 1438.3 629.9 1438.3 631.3 1438.3 632.7 1438.2 634.1 1438.2 635.5 1438.2 636.9 1438.2 638.3 1438.1 639.7 1438.1L639.7 1438.1L638.4 1438.7 637.1 1439.2 635.8 1439.8 634.6 1440.4 633.3 1440.9 632.0 1441.4 630.7 1442.0 629.4 1442.5 628.1 1443.0 626.8 1443.6 625.5 1444.1 624.2 1444.6 622.9 1445.1 621.6 1445.7 620.3 1446.2 619.0 1446.7 617.7 1447.3 616.4 1447.8 615.1 1448.3 613.8 1448.9 612.5 1449.4 611.2 1450.0 609.9 1450.5 608.6 1451.0 607.3 1451.6 606.0 1452.1 604.7 1452.6 603.4 1453.1 602.1 1453.6 600.8 1454.1 599.5 1454.6 598.1 1455.1 596.8 1455.6 595.5 1456.0 594.2 1456.5 592.8 1456.9 591.5 1457.4 590.2 1457.8 588.8 1458.3 587.5 1458.7 586.2 1459.1 584.8 1459.6 583.5 1460.0 582.2 1460.4 580.8 1460.8 579.5 1461.2 578.1 1461.5 576.7 1461.9 575.4 1462.2 574.0 1462.5 572.6 1462.8 571.3 1463.1 569.9 1463.4 568.5 1463.6 567.1 1463.8 565.7 1464.0 564.4 1464.2 563.0 1464.4 561.6 1464.5 560.2 1464.7 558.8 1464.8 557.4 1464.9 556.0 1465.0 554.6 1465.2 553.2 1465.3 551.8 1465.4 550.4 1465.5 549.0 1465.6 547.6 1465.7 546.2 1465.9 544.8 1466.0 543.4 1466.2 542.0 1466.4 540.6 1466.6 539.2 1466.8 537.8 1467.0 536.4 1467.2 535.1 1467.4 533.7 1467.6 532.3 1467.8 530.9 1468.0 529.5 1468.3 528.1 1468.5 526.7 1468.7 525.4 1468.9 524.0 1469.1 522.6 1469.3 521.2 1469.5 519.8 1469.8 518.4 1470.0 517.0 1470.2 515.6 1470.4 514.3 1470.6 512.9 1470.8 511.5 1471.0 510.1 1471.2 508.7 1471.4 507.3 1471.6 505.9 1471.8 504.5 1472.0 503.1 1472.2 501.8 1472.4 500.4 1472.6 499.0 1472.8 497.6 1473.0 496.2 1473.2 494.8 1473.4 493.4 1473.6 492.0 1473.9 490.7 1474.1 489.3 1474.3 487.9 1474.6 486.5 1474.8 485.1 1475.0 483.7 1475.3 482.4 1475.6 481.0 1475.8 479.6 1476.1 478.2 1476.4 476.9 1476.7 475.5 1477.0 474.1 1477.2 472.7 1477.5 471.4 1477.8 470.0 1478.1 468.6 1478.4 467.2 1478.6 465.9 1478.9 464.5 1479.2 463.1 1479.5 461.7 1479.7 460.4 1480.0 459.0 1480.3 457.6 1480.5 456.2 1480.8 454.8 1481.1 453.5 1481.4 452.1 1481.7 450.7 1481.9 449.4 1482.3 448.0 1482.6 446.6 1482.9 445.3 1483.2 443.9 1483.6 442.5 1483.9 441.2 1484.2 439.8 1484.6 438.5 1484.9 437.1 1485.3 435.7 1485.6 434.4 1486.0 433.0 1486.3 431.6 1486.6 430.3 1486.9 428.9 1487.2 427.5 1487.4 426.1 1487.6 424.7 1487.8 423.4 1488.0 422.0 1488.2 420.6 1488.3 419.2 1488.4 417.8 1488.5 416.4 1488.6 415.0 1488.7 413.6 1488.7 412.2 1488.8 410.8 1488.8 409.4 1488.9 408.0 1488.9 406.5 1488.8 405.2 1488.8 403.8 1488.7 402.4 1488.5 401.0 1488.3 399.6 1488.0 398.3 1487.6 397.0 1487.2 395.7 1486.6 394.5 1486.0 393.3 1485.3 392.1 1484.6 391.0 1483.8 389.9 1482.9 388.8 1482.0 387.8 1481.0 386.8 1480.1 385.8 1479.1 384.8 1478.0 383.9 1477.0 382.9 1476.0 381.9 1475.0 380.9 1474.0 379.9 1473.1 378.9 1472.1 377.9 1471.2 376.8 1470.4 375.7 1469.7 374.5 1469.1 373.2 1468.6 371.9 1468.2 370.5 1467.9 369.2 1467.6 367.8 1467.4 366.4 1467.3 365.0 1467.1 363.6 1467.0 362.2 1466.9 360.8 1466.8 359.4 1466.7 358.0 1466.7 356.6 1466.6 355.2 1466.5 353.8 1466.5 352.4 1466.4 351.0 1466.4 349.6 1466.3 348.2 1466.3 346.8 1466.3 345.4 1466.2 344.0 1466.2 342.6 1466.2 341.2 1466.1 339.8 1466.1 338.4 1466.1 337.0 1466.1 335.6 1466.0 334.2 1466.0 332.8 1466.0 331.3 1466.0 329.9 1465.9 328.5 1465.9 327.1 1465.9 325.7 1465.9 324.3 1465.9 322.9 1465.8 321.5 1465.8 320.1 1465.8 318.7 1465.8 317.3 1465.8 315.9 1465.7 314.5 1465.7 313.1 1465.7 311.7 1465.7 310.3 1465.7 308.9 1465.7 307.5 1465.7 306.1 1465.6 304.7 1465.6 303.3 1465.6 301.9 1465.6 300.5 1465.6 299.1 1465.6 297.7 1465.6 296.3 1465.6 294.9 1465.6 293.5 1465.6 292.1 1465.5 290.7 1465.5 289.2 1465.5 287.8 1465.5 286.4 1465.5 285.0 1465.5 283.6 1465.5 282.2 1465.5 280.8 1465.5 279.4 1465.5 278.0 1465.5 276.6 1465.5 275.2 1465.5 273.8 1465.5 272.4 1465.4 271.0 1465.4 269.6 1465.4 268.2 1465.4 266.8 1465.4 265.4 1465.4 264.0 1465.4 262.6 1465.4 261.2 1465.4 259.8 1465.4 258.4 1465.4 257.0 1465.4 255.6 1465.4 254.2 1465.4 252.8 1465.4 251.4 1465.4 250.0 1465.4 248.5 1465.4 247.1 1465.4 245.7 1465.4 244.3 1465.4 242.9 1465.4 241.5 1465.4 240.1 1465.4 238.7 1465.4 237.3 1465.3 235.9 1465.3 234.5 1465.3 233.1 1465.3 231.7 1465.3 230.3 1465.3 228.9 1465.3 227.5 1465.3 226.1 1465.3 224.7 1465.3 223.3 1465.3 221.9 1465.3 220.5 1465.3 219.1 1465.3 217.7 1465.3 216.3 1465.3 214.9 1465.3 213.5 1465.3 212.1 1465.3 210.7 1465.3 209.3 1465.3 207.8 1465.3 206.4 1465.3 205.0 1465.3 203.6 1465.3 202.2 1465.3 200.8 1465.3 199.4 1465.3 198.0 1465.3 196.6 1465.3 195.2 1465.3 193.8 1465.3 192.4 1465.3 191.0 1465.2 189.6 1465.2 188.2 1465.2 186.8 1465.2 185.4 1465.2 184.0 1465.2 182.6 1465.2 181.2 1465.2 179.8 1465.2 178.4 1465.2 177.0 1465.2 175.6 1465.2 174.2 1465.2 172.8 1465.2 171.4 1465.2 170.0 1465.2 168.6 1465.2 167.1 1465.2 165.7 1465.2 164.3 1465.2 162.9 1465.2 161.5 1465.2 160.1 1465.2 158.7 1465.2 157.3 1465.2 155.9 1465.2 154.5 1465.2 153.1 1465.2 151.7 1465.2 150.3 1465.2 148.9 1465.2 147.5 1465.2 146.1 1465.2 144.7 1465.2 143.3 1465.2 141.9 1465.2 140.5 1465.2 139.1 1465.2 137.7 1465.2 136.3 1465.2 134.9 1465.2 133.5 1465.2 132.1 1465.2 130.7 1465.2 129.3 1465.2 127.9 1465.2 126.4 1465.2 125.0 1465.2 123.6 1465.2 122.2 1465.2 120.8 1465.2 119.4 1465.2 118.0 1465.2 116.6 1465.2 115.2 1465.2 113.8 1465.2 112.4 1465.2 111.0 1465.2 109.6 1465.2 108.2 1465.2 106.8 1465.2L106.8 1464.9" stroke="#000" stroke-width="3.6" fill="none" stroke-linejoin="round" stroke-linecap="round"/>
<path d="M105.9 1474.5L107.2 1473.9 108.5 1473.4 109.8 1472.9 111.1 1472.4 112.4 1471.9 113.7 1471.6 115.1 1471.2 116.5 1470.9 117.8 1470.6 119.2 1470.4 120.6 1470.1 122.0 1469.9 123.4 1469.7 124.7 1469.5 126.1 1469.3 127.5 1469.1 128.9 1468.9 130.3 1468.7 131.7 1468.5 133.1 1468.4 134.5 1468.2 135.9 1468.1 137.3 1467.9 138.7 1467.8 140.1 1467.7 141.5 1467.6 142.9 1467.5 144.3 1467.4 145.7 1467.3 147.1 1467.2 148.5 1467.1 149.9 1467.0 151.3 1467.0 152.7 1466.9 154.1 1466.9 155.5 1466.8 156.9 1466.8 158.3 1466.7 159.7 1466.7 161.1 1466.7 162.5 1466.6 163.9 1466.6 165.3 1466.5 166.7 1466.5 168.1 1466.5 169.5 1466.4 170.9 1466.4 172.3 1466.3 173.7 1466.3 175.1 1466.3 176.5 1466.2 177.9 1466.2 179.3 1466.1 180.7 1466.0 182.1 1466.0 183.5 1465.9 184.9 1465.9 186.3 1465.8 187.7 1465.8 189.1 1465.7 190.5 1465.6 191.9 1465.6 193.3 1465.5 194.7 1465.5 196.1 1465.4 197.5 1465.3 198.9 1465.3 200.3 1465.2 201.7 1465.1 203.1 1465.1 204.5 1465.0 205.9 1464.9 207.3 1464.8 208.7 1464.8 210.1 1464.7 211.5 1464.6 212.9 1464.6 214.3 1464.5 215.7 1464.4 217.1 1464.4 218.5 1464.3 219.9 1464.2 221.3 1464.1 222.7 1464.1 224.1 1464.0 225.5 1463.9 226.9 1463.9 228.3 1463.8 229.7 1463.7 231.2 1463.7 232.6 1463.6 234.0 1463.5 235.4 1463.4 236.8 1463.4 238.2 1463.3 239.6 1463.2 241.0 1463.2 242.4 1463.1 243.8 1463.0 245.2 1463.0 246.6 1462.9 248.0 1462.8 249.4 1462.7 250.8 1462.7 252.2 1462.6 253.6 1462.5 255.0 1462.5 256.4 1462.4 257.8 1462.3 259.2 1462.3 260.6 1462.2 262.0 1462.1 263.4 1462.0 264.8 1462.0 266.2 1461.9 267.6 1461.8 269.0 1461.8 270.4 1461.7 271.8 1461.6 273.2 1461.6 274.6 1461.5 276.0 1461.4 277.4 1461.4 278.8 1461.3 280.2 1461.2 281.6 1461.1 283.0 1461.1 284.4 1461.0 285.8 1460.9 287.2 1460.9 288.6 1460.8 290.0 1460.8 291.4 1460.7 292.8 1460.6 294.2 1460.6 295.6 1460.5 297.0 1460.4 298.4 1460.4 299.8 1460.3 301.2 1460.2 302.6 1460.2 304.0 1460.1 305.4 1460.0 306.8 1460.0 308.2 1459.9 309.6 1459.8 311.0 1459.8 312.4 1459.7 313.8 1459.6 315.2 1459.5 316.6 1459.5 318.0 1459.4 319.4 1459.3 320.8 1459.3 322.2 1459.2 323.6 1459.1 325.0 1459.0 326.4 1459.0 327.8 1458.9 329.2 1458.8 330.6 1458.7 332.0 1458.7 333.4 1458.6 334.8 1458.5 336.2 1458.4 337.6 1458.4 339.0 1458.3 340.4 1458.2 341.8 1458.1 343.2 1458.0 344.6 1458.0 346.0 1457.9 347.4 1457.8 348.8 1457.7 350.2 1457.6 351.6 1457.6 353.0 1457.5 354.4 1457.4 355.8 1457.3 357.2 1457.2 358.6 1457.2 360.0 1457.1 361.4 1457.0 362.8 1456.9 364.2 1456.8 365.6 1456.7 367.0 1456.7 368.4 1456.6 369.8 1456.5 371.2 1456.4 372.6 1456.3 374.0 1456.2 375.4 1456.1 376.8 1456.0 378.2 1456.0 379.6 1455.9 381.0 1455.8 382.4 1455.7 383.8 1455.6 385.2 1455.5 386.6 1455.4 388.0 1455.3 389.4 1455.2 390.8 1455.1 392.2 1455.0 393.6 1454.9 395.0 1454.8 396.4 1454.7 397.8 1454.6 399.2 1454.5 400.6 1454.4 402.0 1454.3 403.4 1454.2 404.8 1454.0 406.2 1453.9 407.6 1453.8 409.0 1453.7 410.4 1453.5 411.8 1453.4 413.2 1453.3 414.6 1453.1 416.0 1453.0 417.4 1452.9 418.8 1452.7 420.2 1452.6 421.6 1452.4 423.0 1452.3 424.4 1452.1 425.7 1451.9 427.1 1451.8 428.5 1451.6 429.9 1451.5 431.3 1451.3 432.7 1451.1 434.1 1451.0 435.5 1450.8 436.9 1450.6 438.3 1450.4 439.7 1450.3 441.1 1450.1 442.5 1449.9 443.9 1449.8 445.2 1449.6 446.6 1449.4 448.0 1449.2 449.4 1449.1 450.8 1448.9 452.2 1448.7 453.6 1448.6 455.0 1448.4 456.4 1448.2 457.8 1448.0 459.2 1447.9 460.6 1447.7 461.9 1447.5 463.3 1447.3 464.7 1447.1 466.1 1447.0 467.5 1446.8 468.9 1446.6 470.3 1446.4 471.7 1446.2 473.1 1446.0 474.5 1445.8 475.9 1445.6 477.2 1445.5 478.6 1445.3 480.0 1445.1 481.4 1444.9 482.8 1444.7 484.2 1444.6 485.6 1444.4 487.0 1444.3 488.4 1444.1 489.8 1444.0 491.2 1443.9 492.6 1443.7 494.0 1443.6 495.4 1443.4 496.7 1443.3 498.1 1443.0 499.5 1442.8 500.9 1442.5 502.3 1442.2 503.6 1441.9 505.0 1441.6 506.3 1441.2 507.7 1440.8 509.0 1440.4 510.4 1440.0 511.7 1439.6 513.0 1439.1 514.3 1438.7 515.6 1438.1 516.9 1437.6 518.2 1437.0 519.4 1436.4 520.7 1435.7 521.9 1435.0 523.0 1434.2 524.2 1433.4 525.3 1432.6 526.4 1431.7 527.5 1430.8 528.5 1429.9 529.5 1428.9 530.5 1427.9 531.5 1426.9 532.4 1425.9 533.3 1424.8 534.2 1423.7 535.0 1422.6 535.9 1421.5 536.8 1420.4 537.6 1419.2 538.4 1418.1 539.2 1417.0 540.1 1415.9 540.9 1414.7 541.7 1413.6 542.6 1412.5 543.4 1411.3 544.2 1410.2 545.1 1409.1 545.9 1408.0 546.7 1406.8 547.6 1405.7 548.4 1404.6 549.2 1403.4 550.0 1402.3 550.8 1401.1 551.6 1399.9 552.3 1398.8 553.1 1397.6 553.8 1396.4 554.6 1395.2 555.3 1394.0 556.0 1392.8 556.8 1391.6 557.6 1390.5 558.3 1389.3 559.1 1388.1 559.9 1387.0 560.8 1385.8 561.6 1384.7 562.4 1383.6 563.2 1382.4 564.0 1381.3 564.9 1380.2 565.7 1379.0 566.5 1377.9 567.4 1376.8 568.2 1375.6 569.0 1374.5 569.8 1373.4 570.7 1372.2 571.5 1371.1 572.3 1370.0 573.1 1368.8 573.9 1367.7 574.7 1366.5 575.5 1365.4 576.3 1364.2 577.1 1363.1 577.9 1361.9 578.7 1360.8 579.5 1359.6 580.3 1358.4 581.1 1357.3 581.9 1356.2 582.7 1355.0 583.6 1353.9 584.4 1352.8 585.3 1351.6 586.1 1350.5 587.0 1349.4 587.8 1348.3 588.7 1347.2 589.6 1346.1 590.5 1345.0 591.3 1343.9 592.2 1342.8 593.1 1341.7 594.0 1340.6 594.8 1339.5 595.7 1338.4 596.5 1337.3 597.4 1336.2 598.2 1335.1 599.1 1334.0 599.9 1332.8 600.8 1331.7 601.6 1330.6 602.4 1329.5 603.2 1328.3 604.1 1327.2 604.9 1326.1 605.8 1325.0 606.6 1323.8 607.5 1322.7 608.4 1321.6 609.3 1320.6 610.1 1319.5 611.0 1318.4 611.9 1317.3 612.8 1316.2 613.7 1315.1 614.6 1314.1 615.5 1313.0 616.4 1311.9 617.2 1310.8 618.1 1309.7 619.0 1308.6 619.9 1307.5 620.8 1306.4 621.7 1305.4 622.6 1304.3 623.5 1303.3 624.5 1302.2 625.4 1301.2 626.4 1300.2 627.3 1299.1 628.3 1298.1 629.2 1297.0 630.1 1296.0 631.0 1294.9 631.9 1293.8 632.7 1292.7 633.5 1291.5 634.3 1290.4 635.1 1289.2 635.9 1288.1 636.7 1286.9 637.5 1285.8 638.3 1284.6L638.3 1284.6L637.8 1285.9 637.3 1287.2 636.8 1288.5 636.3 1289.8 635.8 1291.1 635.3 1292.5 634.8 1293.8 634.3 1295.1 633.9 1296.4 633.4 1297.7 632.9 1299.1 632.4 1300.4 632.0 1301.7 631.5 1303.0 631.0 1304.3 630.4 1305.6 629.9 1306.9 629.3 1308.2 628.7 1309.4 628.1 1310.7 627.5 1312.0 626.9 1313.3 626.4 1314.5 625.8 1315.8 625.2 1317.1 624.6 1318.4 624.0 1319.6 623.4 1320.9 622.9 1322.2 622.3 1323.5 621.7 1324.7 621.1 1326.0 620.5 1327.3 619.8 1328.5 619.2 1329.7 618.5 1331.0 617.9 1332.2 617.2 1333.4 616.5 1334.7 615.8 1335.9 615.2 1337.1 614.5 1338.4 613.9 1339.6 613.2 1340.9 612.6 1342.1 612.0 1343.4 611.3 1344.6 610.7 1345.9 610.1 1347.2 609.5 1348.4 608.9 1349.7 608.3 1350.9 607.6 1352.2 607.0 1353.5 606.4 1354.7 605.8 1356.0 605.2 1357.2 604.6 1358.5 604.0 1359.8 603.4 1361.0 602.7 1362.3 602.1 1363.5 601.5 1364.8 600.9 1366.1 600.3 1367.3 599.7 1368.6 599.0 1369.8 598.4 1371.1 597.7 1372.3 597.0 1373.5 596.4 1374.8 595.7 1376.0 595.0 1377.2 594.2 1378.4 593.5 1379.6 592.8 1380.8 592.1 1382.0 591.4 1383.2 590.7 1384.4 590.0 1385.6 589.3 1386.9 588.6 1388.1 587.9 1389.3 587.2 1390.5 586.5 1391.8 585.9 1393.0 585.2 1394.2 584.5 1395.5 583.9 1396.7 583.2 1397.9 582.6 1399.2 581.9 1400.4 581.2 1401.6 580.6 1402.9 579.9 1404.1 579.2 1405.3 578.5 1406.6 577.9 1407.8 577.2 1409.0 576.5 1410.2 575.8 1411.5 575.1 1412.7 574.4 1413.9 573.7 1415.1 573.0 1416.3 572.3 1417.6 571.6 1418.8 570.9 1420.0 570.2 1421.2 569.5 1422.4 568.8 1423.6 568.1 1424.8 567.4 1426.0 566.6 1427.2 565.9 1428.4 565.2 1429.6 564.5 1430.8 563.7 1432.0 563.0 1433.2 562.3 1434.4 561.5 1435.6 560.8 1436.8 560.0 1438.0 559.2 1439.1 558.5 1440.3 557.7 1441.5 556.9 1442.6 556.1 1443.8 555.3 1444.9 554.5 1446.1 553.7 1447.2 552.9 1448.4 552.1 1449.5 551.2 1450.6 550.4 1451.7 549.5 1452.8 548.6 1453.9 547.7 1455.0 546.9 1456.1 545.9 1457.2 545.0 1458.2 544.1 1459.3 543.2 1460.3 542.2 1461.4 541.3 1462.4 540.3 1463.4 539.4 1464.5 538.4 1465.5 537.5 1466.5 536.6 1467.6 535.6 1468.6 534.7 1469.7 533.8 1470.8 532.9 1471.9 532.1 1473.0 531.2 1474.1 530.3 1475.2 529.5 1476.3 528.6 1477.4 527.8 1478.5 526.9 1479.6 526.1 1480.8 525.3 1481.9 524.4 1483.0 523.6 1484.1 522.7 1485.2 521.9 1486.4 521.0 1487.5 520.2 1488.6 519.3 1489.7 518.4 1490.8 517.6 1491.9 516.7 1493.0 515.9 1494.1 515.0 1495.2 514.1 1496.3 513.2 1497.4 512.3 1498.5 511.5 1499.6 510.6 1500.7 509.7 1501.7 508.8 1502.8 507.9 1503.9 507.0 1505.0 506.1 1506.0 505.1 1507.1 504.2 1508.2 503.3 1509.2 502.4 1510.3 501.5 1511.3 500.5 1512.4 499.6 1513.4 498.7 1514.5 497.7 1515.5 496.8 1516.5 495.8 1517.6 494.9 1518.6 493.9 1519.6 493.0 1520.6 492.0 1521.7 491.0 1522.7 490.0 1523.7 489.0 1524.7 488.0 1525.7 487.0 1526.6 486.0 1527.6 485.0 1528.6 484.0 1529.6 483.0 1530.5 482.0 1531.5 481.0 1532.4 479.9 1533.4 478.9 1534.3 477.8 1535.3 476.8 1536.2 475.8 1537.2 474.7 1538.1 473.7 1539.1 472.7 1540.0 471.7 1541.0 470.7 1542.0 469.7 1542.9 468.7 1543.9 467.7 1544.9 466.7 1545.9 465.7 1546.9 464.7 1547.9 463.7 1548.9 462.8 1549.9 461.8 1550.9 460.8 1552.0 459.9 1553.0 458.9 1554.0 458.0 1555.0 457.0 1556.1 456.1 1557.1 455.1 1558.1 454.2 1559.2 453.3 1560.2 452.3 1561.3 451.4 1562.3 450.4 1563.4 449.5 1564.4 448.5 1565.4 447.6 1566.4 446.6 1567.4 445.6 1568.4 444.6 1569.4 443.6 1570.4 442.6 1571.3 441.5 1572.3 440.5 1573.2 439.4 1574.1 438.4 1575.1 437.3 1576.0 436.2 1576.8 435.1 1577.7 434.0 1578.6 432.9 1579.4 431.8 1580.3 430.7 1581.1 429.5 1581.9 428.4 1582.7 427.2 1583.5 426.0 1584.3 424.9 1585.1 423.7 1585.9 422.5 1586.6 421.4 1587.4 420.2 1588.2 419.0 1588.9 417.8 1589.6 416.6 1590.3 415.4 1591.0 414.1 1591.6 412.9 1592.2 411.6 1592.7 410.2 1593.2 408.9 1593.6 407.6 1594.0 406.2 1594.3 404.9 1594.5 403.5 1594.6 402.1 1594.6 400.8 1594.5 399.5 1594.2 398.2 1593.8 396.9 1593.3 395.7 1592.7 394.5 1591.9 393.4 1591.1 392.3 1590.3 391.3 1589.3 390.2 1588.4 389.3 1587.4 388.3 1586.4 387.4 1585.3 386.4 1584.3 385.5 1583.2 384.6 1582.1 383.7 1581.1 382.8 1580.0 382.0 1578.9 381.1 1577.8 380.2 1576.7 379.4 1575.5 378.6 1574.4 377.7 1573.3 376.9 1572.1 376.1 1571.0 375.4 1569.8 374.6 1568.6 373.8 1567.5 373.1 1566.3 372.4 1565.1 371.7 1563.9 371.0 1562.6 370.3 1561.4 369.6 1560.2 369.0 1558.9 368.4 1557.7 367.7 1556.4 367.1 1555.2 366.5 1553.9 365.9 1552.6 365.3 1551.4 364.7 1550.1 364.1 1548.8 363.5 1547.6 362.9 1546.3 362.3 1545.0 361.7 1543.8 361.1 1542.5 360.5 1541.2 359.9 1540.0 359.3 1538.7 358.6 1537.5 358.0 1536.2 357.4 1535.0 356.7 1533.7 356.0 1532.5 355.3 1531.3 354.6 1530.1 353.9 1528.9 353.2 1527.7 352.5 1526.5 351.7 1525.3 351.0 1524.1 350.3 1522.9 349.5 1521.7 348.7 1520.5 348.0 1519.4 347.2 1518.2 346.4 1517.1 345.6 1515.9 344.7 1514.8 343.9 1513.7 343.0 1512.5 342.2 1511.5 341.3 1510.4 340.4 1509.3 339.4 1508.3 338.4 1507.3 337.4 1506.3 336.4 1505.3 335.4 1504.4 334.3 1503.6 333.1 1502.8 332.0 1502.0 330.8 1501.3 329.6 1500.6 328.3 1499.9 327.1 1499.3 325.8 1498.7 324.5 1498.1 323.3 1497.5 322.0 1496.9 320.7 1496.3 319.4 1495.7 318.2 1495.2 316.9 1494.7 315.6 1494.2 314.2 1493.7 312.9 1493.3 311.6 1492.9 310.2 1492.5 308.9 1492.1 307.5 1491.7 306.2 1491.3 304.8 1490.9 303.5 1490.6 302.1 1490.2 300.8 1489.9 299.4 1489.5 298.0 1489.2 296.7 1488.9 295.3 1488.6 293.9 1488.4 292.5 1488.1 291.2 1487.9 289.8 1487.7 288.4 1487.4 287.0 1487.2 285.6 1487.0 284.2 1486.9 282.8 1486.7 281.4 1486.5 280.1 1486.3 278.7 1486.2 277.3 1486.0 275.9 1485.9 274.5 1485.7 273.1 1485.6 271.7 1485.4 270.3 1485.3 268.9 1485.1 267.5 1485.0 266.1 1484.8 264.7 1484.7 263.3 1484.6 261.9 1484.4 260.5 1484.3 259.1 1484.2 257.7 1484.0 256.3 1483.9 254.9 1483.8 253.5 1483.7 252.1 1483.5 250.8 1483.4 249.4 1483.3 248.0 1483.2 246.6 1483.0 245.2 1482.9 243.8 1482.8 242.4 1482.6 241.0 1482.5 239.6 1482.4 238.2 1482.3 236.8 1482.1 235.4 1482.0 234.0 1481.9 232.6 1481.8 231.2 1481.6 229.8 1481.5 228.4 1481.4 227.0 1481.3 225.6 1481.1 224.2 1481.0 222.8 1480.9 221.4 1480.8 220.0 1480.7 218.6 1480.5 217.2 1480.4 215.8 1480.3 214.4 1480.2 213.0 1480.1 211.6 1480.0 210.2 1479.9 208.8 1479.7 207.4 1479.6 206.0 1479.5 204.6 1479.4 203.2 1479.3 201.9 1479.2 200.5 1479.1 199.1 1479.0 197.7 1478.9 196.3 1478.8 194.9 1478.7 193.5 1478.6 192.1 1478.5 190.7 1478.4 189.3 1478.3 187.9 1478.2 186.5 1478.1 185.1 1478.0 183.7 1477.9 182.3 1477.8 180.9 1477.7 179.5 1477.6 178.1 1477.5 176.7 1477.5 175.3 1477.4 173.9 1477.3 172.5 1477.2 171.1 1477.2 169.7 1477.1 168.3 1477.0 166.9 1477.0 165.5 1476.9 164.1 1476.8 162.7 1476.8 161.3 1476.7 159.9 1476.7 158.5 1476.6 157.1 1476.6 155.7 1476.5 154.3 1476.4 152.9 1476.4 151.5 1476.3 150.0 1476.3 148.6 1476.2 147.2 1476.2 145.8 1476.1 144.4 1476.1 143.0 1476.0 141.6 1476.0 140.2 1475.9 138.8 1475.9 137.4 1475.8 136.0 1475.8 134.6 1475.7 133.2 1475.7 131.8 1475.6 130.4 1475.6 129.0 1475.5 127.6 1475.5 126.2 1475.4 124.8 1475.4 123.4 1475.4 122.0 1475.3 120.6 1475.3 119.2 1475.2 117.8 1475.2 116.4 1475.1 115.0 1475.1 113.6 1475.0 112.2 1475.0 110.8 1475.0 109.4 1474.9 108.0 1474.9 106.6 1474.8 105.9 1474.8L105.9 1474.5" stroke="#E80808" stroke-width="3.6" fill="none" stroke-linejoin="round" stroke-linecap="round"/>
<path d="M106.8 1480.7L108.0 1480.0 109.2 1479.2 110.4 1478.6 111.6 1477.9 112.9 1477.4 114.2 1476.9 115.5 1476.5 116.9 1476.1 118.2 1475.7 119.6 1475.4 121.0 1475.1 122.3 1474.8 123.7 1474.6 125.1 1474.3 126.5 1474.1 127.9 1473.8 129.2 1473.6 130.6 1473.4 132.0 1473.2 133.4 1473.0 134.8 1472.8 136.2 1472.6 137.6 1472.4 139.0 1472.3 140.3 1472.1 141.7 1471.9 143.1 1471.8 144.5 1471.6 145.9 1471.5 147.3 1471.3 148.7 1471.2 150.1 1471.1 151.5 1471.0 152.9 1470.8 154.3 1470.7 155.7 1470.6 157.1 1470.5 158.5 1470.4 159.9 1470.3 161.3 1470.1 162.7 1470.0 164.1 1469.9 165.5 1469.8 166.9 1469.7 168.3 1469.6 169.7 1469.5 171.1 1469.4 172.5 1469.3 173.9 1469.2 175.3 1469.1 176.7 1469.0 178.1 1468.9 179.5 1468.8 180.9 1468.7 182.3 1468.6 183.7 1468.5 185.1 1468.4 186.5 1468.3 187.9 1468.2 189.3 1468.1 190.7 1468.1 192.1 1468.0 193.5 1467.9 194.9 1467.8 196.3 1467.7 197.7 1467.6 199.1 1467.5 200.5 1467.4 201.9 1467.3 203.3 1467.3 204.7 1467.2 206.1 1467.1 207.5 1467.1 208.9 1467.0 210.3 1466.9 211.7 1466.9 213.1 1466.8 214.5 1466.7 215.9 1466.7 217.3 1466.6 218.7 1466.6 220.1 1466.5 221.5 1466.5 222.9 1466.5 224.3 1466.4 225.7 1466.4 227.1 1466.3 228.5 1466.3 229.9 1466.3 231.3 1466.3 232.7 1466.2 234.1 1466.2 235.5 1466.2 236.9 1466.1 238.3 1466.1 239.7 1466.1 241.1 1466.1 242.5 1466.0 243.9 1466.0 245.3 1466.0 246.7 1466.0 248.1 1465.9 249.5 1465.9 250.9 1465.9 252.3 1465.8 253.7 1465.8 255.1 1465.7 256.5 1465.7 257.9 1465.7 259.3 1465.6 260.7 1465.6 262.1 1465.5 263.5 1465.5 264.9 1465.4 266.3 1465.4 267.7 1465.3 269.1 1465.2 270.5 1465.2 271.9 1465.1 273.3 1465.0 274.7 1465.0 276.1 1464.9 277.5 1464.8 278.9 1464.8 280.3 1464.7 281.7 1464.6 283.1 1464.5 284.5 1464.5 285.9 1464.4 287.3 1464.3 288.7 1464.2 290.1 1464.1 291.5 1464.1 292.9 1464.0 294.3 1463.9 295.7 1463.8 297.1 1463.7 298.5 1463.6 299.9 1463.5 301.3 1463.5 302.7 1463.4 304.1 1463.3 305.5 1463.2 306.9 1463.1 308.3 1463.0 309.7 1462.9 311.1 1462.8 312.5 1462.7 313.9 1462.6 315.3 1462.5 316.7 1462.4 318.1 1462.3 319.5 1462.2 320.9 1462.1 322.3 1462.0 323.7 1461.9 325.1 1461.8 326.5 1461.7 327.9 1461.6 329.3 1461.5 330.7 1461.4 332.1 1461.2 333.5 1461.1 334.9 1461.0 336.3 1460.9 337.7 1460.8 339.1 1460.6 340.5 1460.5 341.9 1460.4 343.3 1460.3 344.7 1460.1 346.1 1460.0 347.5 1459.9 348.9 1459.7 350.3 1459.6 351.7 1459.5 353.1 1459.3 354.5 1459.2 355.8 1459.0 357.2 1458.8 358.6 1458.6 360.0 1458.4 361.4 1458.2 362.8 1458.0 364.2 1457.7 365.5 1457.5 366.9 1457.2 368.3 1456.9 369.7 1456.6 371.0 1456.3 372.4 1456.0 373.7 1455.6 375.1 1455.2 376.4 1454.9 377.8 1454.4 379.1 1454.0 380.4 1453.6 381.8 1453.1 383.1 1452.7 384.4 1452.2 385.7 1451.7 387.0 1451.2 388.3 1450.7 389.6 1450.2 390.9 1449.7 392.2 1449.1 393.5 1448.6 394.8 1448.0 396.1 1447.5 397.4 1446.9 398.7 1446.4 400.0 1445.8 401.2 1445.2 402.5 1444.6 403.8 1444.0 405.1 1443.4 406.3 1442.8 407.5 1442.1 408.8 1441.5 410.0 1440.8 411.2 1440.0 412.4 1439.3 413.5 1438.5 414.7 1437.8 415.9 1437.0 417.1 1436.3 418.3 1435.5 419.5 1434.8 420.7 1434.1 421.9 1433.4 423.1 1432.7 424.3 1432.0 425.6 1431.4 426.9 1430.8 428.1 1430.3 429.4 1429.7 430.8 1429.3 432.1 1428.9 433.4 1428.5 434.8 1428.2 436.2 1427.9 437.5 1427.7 438.9 1427.5 440.3 1427.3 441.7 1427.1 443.1 1427.0 444.5 1426.9 445.9 1426.7 447.3 1426.6 448.7 1426.5 450.1 1426.4 451.5 1426.3 452.9 1426.1 454.3 1426.0 455.7 1425.9 457.1 1425.8 458.5 1425.7 459.9 1425.5 461.3 1425.4 462.7 1425.3 464.1 1425.2 465.5 1425.1 466.9 1425.0 468.3 1424.9 469.7 1424.8 471.1 1424.8 472.5 1424.7 473.9 1424.7 475.3 1424.6 476.7 1424.6 478.1 1424.6 479.5 1424.6 480.9 1424.7 482.3 1424.7 483.7 1424.7 485.1 1424.8 486.5 1424.9 487.9 1424.9 489.3 1425.0 490.7 1425.0 492.1 1425.1 493.5 1425.2 494.9 1425.2 496.3 1425.2 497.7 1425.2 499.1 1425.2 500.5 1425.1 501.9 1425.0 503.3 1424.8 504.6 1424.6 506.0 1424.3 507.4 1424.0 508.7 1423.6 510.0 1423.2 511.3 1422.6 512.5 1422.0 513.8 1421.4 514.9 1420.6 516.0 1419.8 517.1 1418.9 518.1 1418.0 519.1 1417.0 520.1 1416.0 521.0 1414.9 521.8 1413.8 522.6 1412.6 523.4 1411.5 524.1 1410.3 524.8 1409.1 525.5 1407.8 526.1 1406.6 526.8 1405.4 527.4 1404.1 528.0 1402.9 528.7 1401.6 529.3 1400.3 529.9 1399.1 530.5 1397.8 531.2 1396.6 531.8 1395.3 532.4 1394.1 533.0 1392.8 533.6 1391.5 534.2 1390.2 534.7 1389.0 535.3 1387.7 535.9 1386.4 536.5 1385.1 537.0 1383.8 537.6 1382.6 538.2 1381.3 538.7 1380.0 539.3 1378.7 539.9 1377.4 540.4 1376.1 540.9 1374.8 541.5 1373.5 542.0 1372.2 542.5 1370.9 543.0 1369.6 543.5 1368.3 544.1 1367.0 544.6 1365.7 545.1 1364.4 545.7 1363.2 546.2 1361.9 546.8 1360.6 547.4 1359.3 548.0 1358.0 548.5 1356.8 549.1 1355.5 549.7 1354.2 550.3 1352.9 550.8 1351.6 551.4 1350.3 551.9 1349.1 552.5 1347.8 553.0 1346.4 553.5 1345.1 553.9 1343.8 554.4 1342.5 554.9 1341.2 555.3 1339.8 555.8 1338.5 556.2 1337.2 556.6 1335.8 557.1 1334.5 557.5 1333.2 557.9 1331.9 558.4 1330.5 558.8 1329.2 559.3 1327.9 559.8 1326.5 560.2 1325.2 560.7 1323.9 561.2 1322.6 561.7 1321.3 562.2 1320.0 562.7 1318.7 563.2 1317.3 563.7 1316.0 564.2 1314.8 564.8 1313.5 565.3 1312.2 565.9 1310.9 566.4 1309.6 567.0 1308.3 567.6 1307.0 568.2 1305.7 568.7 1304.5 569.3 1303.2 569.9 1301.9 570.5 1300.6 571.1 1299.4 571.7 1298.1 572.3 1296.8 572.8 1295.6 573.4 1294.3 574.0 1293.0 574.6 1291.7 575.2 1290.4 575.7 1289.2 576.3 1287.9 576.9 1286.6 577.4 1285.3 578.0 1284.0 578.6 1282.8 579.2 1281.5 579.8 1280.2 580.4 1279.0 581.0 1277.7 581.7 1276.5 582.4 1275.3 583.0 1274.0 583.7 1272.8 584.4 1271.6 585.1 1270.4 585.8 1269.1 586.5 1267.9 587.1 1266.7 587.8 1265.4 588.5 1264.2 589.2 1263.0 589.8 1261.8 590.5 1260.5 591.2 1259.3 591.9 1258.1 592.6 1256.9 593.3 1255.6 594.0 1254.4 594.7 1253.3 595.5 1252.1 596.3 1251.0 597.1 1249.8 598.0 1248.7 598.8 1247.6 599.7 1246.5 600.6 1245.4 601.5 1244.3 602.4 1243.2 603.3 1242.2 604.2 1241.1 605.2 1240.1 606.2 1239.1 607.2 1238.2 608.2 1237.2 609.3 1236.3 610.4 1235.5 611.5 1234.6 612.7 1233.8 613.8 1233.0 615.0 1232.3 616.2 1231.6 617.4 1230.9 618.7 1230.3 619.9 1229.6 621.2 1229.0 622.5 1228.5 623.8 1227.9 625.1 1227.4 626.4 1226.8 627.7 1226.3 629.0 1225.9 630.3 1225.4 631.6 1224.9 633.0 1224.5 634.3 1224.1 635.6 1223.7 637.0 1223.3 638.3 1222.9 639.0 1222.7L639.0 1222.7L638.9 1224.1 638.7 1225.5 638.6 1226.9 638.5 1228.3 638.3 1229.7 638.2 1231.1 638.0 1232.5 637.9 1233.9 637.7 1235.2 637.6 1236.6 637.4 1238.0 637.2 1239.4 637.0 1240.8 636.9 1242.2 636.7 1243.6 636.5 1245.0 636.3 1246.4 636.0 1247.7 635.8 1249.1 635.6 1250.5 635.4 1251.9 635.2 1253.3 634.9 1254.7 634.7 1256.0 634.4 1257.4 634.2 1258.8 633.9 1260.2 633.7 1261.5 633.4 1262.9 633.1 1264.3 632.8 1265.7 632.6 1267.0 632.3 1268.4 632.0 1269.8 631.7 1271.2 631.4 1272.5 631.1 1273.9 630.8 1275.3 630.5 1276.6 630.2 1278.0 629.9 1279.4 629.6 1280.7 629.2 1282.1 628.9 1283.5 628.6 1284.8 628.2 1286.2 627.9 1287.5 627.6 1288.9 627.2 1290.3 626.9 1291.6 626.5 1293.0 626.1 1294.3 625.8 1295.7 625.4 1297.0 625.0 1298.4 624.7 1299.7 624.3 1301.1 624.0 1302.5 623.7 1303.8 623.4 1305.2 623.1 1306.6 622.8 1307.9 622.5 1309.3 622.3 1310.7 622.0 1312.1 621.7 1313.4 621.5 1314.8 621.2 1316.2 620.9 1317.6 620.7 1318.9 620.4 1320.3 620.1 1321.7 619.8 1323.1 619.6 1324.4 619.3 1325.8 619.0 1327.2 618.7 1328.5 618.3 1329.9 618.0 1331.3 617.7 1332.6 617.3 1334.0 617.0 1335.3 616.6 1336.7 616.2 1338.0 615.9 1339.4 615.5 1340.7 615.2 1342.1 614.8 1343.5 614.5 1344.8 614.1 1346.2 613.8 1347.5 613.5 1348.9 613.1 1350.3 612.8 1351.6 612.4 1353.0 612.1 1354.3 611.7 1355.7 611.3 1357.0 611.0 1358.4 610.6 1359.7 610.2 1361.1 609.7 1362.4 609.3 1363.7 608.9 1365.1 608.4 1366.4 608.0 1367.7 607.5 1369.0 607.1 1370.4 606.6 1371.7 606.2 1373.0 605.7 1374.4 605.3 1375.7 604.8 1377.0 604.4 1378.3 603.9 1379.7 603.5 1381.0 603.1 1382.3 602.6 1383.7 602.2 1385.0 601.8 1386.3 601.3 1387.7 600.9 1389.0 600.5 1390.3 600.0 1391.7 599.6 1393.0 599.1 1394.3 598.7 1395.6 598.2 1397.0 597.8 1398.3 597.3 1399.6 596.8 1400.9 596.3 1402.2 595.8 1403.5 595.3 1404.8 594.7 1406.1 594.2 1407.4 593.7 1408.7 593.2 1410.0 592.6 1411.3 592.1 1412.6 591.6 1413.9 591.0 1415.2 590.5 1416.5 590.0 1417.8 589.5 1419.1 588.9 1420.4 588.4 1421.7 587.9 1423.0 587.4 1424.3 586.9 1425.6 586.4 1426.9 585.9 1428.2 585.3 1429.5 584.8 1430.8 584.3 1432.1 583.8 1433.4 583.2 1434.7 582.7 1436.0 582.2 1437.3 581.6 1438.6 581.0 1439.9 580.5 1441.2 579.9 1442.5 579.3 1443.7 578.8 1445.0 578.2 1446.3 577.6 1447.6 577.0 1448.8 576.4 1450.1 575.8 1451.4 575.2 1452.6 574.6 1453.9 574.0 1455.1 573.3 1456.4 572.7 1457.6 572.1 1458.9 571.5 1460.2 570.8 1461.4 570.2 1462.6 569.5 1463.9 568.8 1465.1 568.2 1466.3 567.5 1467.5 566.7 1468.8 566.0 1470.0 565.3 1471.1 564.5 1472.3 563.8 1473.5 563.0 1474.7 562.2 1475.8 561.5 1477.0 560.7 1478.2 559.9 1479.3 559.1 1480.5 558.3 1481.6 557.5 1482.8 556.7 1483.9 555.8 1485.1 555.0 1486.2 554.2 1487.3 553.4 1488.5 552.6 1489.6 551.7 1490.7 550.8 1491.8 550.0 1492.9 549.1 1494.0 548.2 1495.0 547.2 1496.1 546.3 1497.1 545.3 1498.1 544.4 1499.1 543.4 1500.2 542.4 1501.2 541.5 1502.2 540.5 1503.2 539.5 1504.2 538.6 1505.3 537.6 1506.3 536.7 1507.3 535.7 1508.4 534.8 1509.4 533.8 1510.4 532.9 1511.5 532.0 1512.5 531.0 1513.5 530.1 1514.6 529.2 1515.6 528.2 1516.7 527.3 1517.7 526.4 1518.8 525.5 1519.9 524.6 1520.9 523.7 1522.0 522.8 1523.1 521.9 1524.1 521.0 1525.2 520.1 1526.3 519.2 1527.4 518.3 1528.4 517.4 1529.5 516.5 1530.6 515.6 1531.7 514.7 1532.8 513.8 1533.8 512.9 1534.9 512.0 1536.0 511.1 1537.1 510.3 1538.2 509.4 1539.3 508.5 1540.3 507.6 1541.4 506.7 1542.5 505.8 1543.6 504.9 1544.7 504.0 1545.8 503.2 1546.9 502.3 1547.9 501.4 1549.0 500.5 1550.1 499.6 1551.2 498.8 1552.3 497.9 1553.4 497.0 1554.5 496.1 1555.6 495.3 1556.7 494.4 1557.8 493.5 1558.9 492.7 1560.0 491.8 1561.1 490.9 1562.2 490.1 1563.3 489.2 1564.4 488.3 1565.5 487.5 1566.6 486.6 1567.7 485.8 1568.8 484.9 1569.9 484.1 1571.1 483.2 1572.2 482.4 1573.3 481.6 1574.4 480.7 1575.6 479.9 1576.7 479.1 1577.8 478.3 1579.0 477.5 1580.2 476.8 1581.3 476.0 1582.5 475.3 1583.7 474.5 1584.9 473.7 1586.1 473.0 1587.2 472.2 1588.4 471.4 1589.5 470.6 1590.7 469.7 1591.8 468.9 1592.9 468.0 1594.0 467.2 1595.1 466.4 1596.3 465.5 1597.4 464.7 1598.5 463.8 1599.6 463.0 1600.7 462.1 1601.9 461.3 1603.0 460.5 1604.1 459.6 1605.2 458.8 1606.4 458.0 1607.5 457.2 1608.6 456.4 1609.8 455.5 1610.9 454.7 1612.1 453.9 1613.2 453.1 1614.3 452.2 1615.4 451.3 1616.5 450.5 1617.6 449.6 1618.7 448.6 1619.7 447.7 1620.8 446.7 1621.8 445.7 1622.7 444.7 1623.7 443.6 1624.5 442.5 1625.3 441.3 1626.1 440.1 1626.7 438.8 1627.2 437.5 1627.6 436.2 1627.8 434.9 1627.9 433.6 1627.8 432.2 1627.5 431.0 1627.1 429.7 1626.6 428.5 1625.9 427.4 1625.2 426.2 1624.4 425.2 1623.5 424.2 1622.5 423.2 1621.5 422.3 1620.5 421.4 1619.4 420.6 1618.3 419.7 1617.1 418.9 1616.0 418.2 1614.8 417.4 1613.6 416.7 1612.5 416.0 1611.2 415.2 1610.0 414.6 1608.8 413.9 1607.6 413.2 1606.3 412.6 1605.1 412.0 1603.8 411.4 1602.6 410.8 1601.3 410.3 1600.0 409.7 1598.7 409.2 1597.4 408.7 1596.1 408.2 1594.8 407.7 1593.5 407.2 1592.2 406.7 1590.9 406.2 1589.6 405.7 1588.3 405.1 1587.0 404.6 1585.7 404.1 1584.4 403.6 1583.1 403.0 1581.8 402.5 1580.5 402.0 1579.2 401.5 1577.9 400.9 1576.6 400.4 1575.3 399.9 1574.0 399.4 1572.7 398.9 1571.4 398.3 1570.1 397.8 1568.8 397.3 1567.5 396.8 1566.2 396.3 1564.9 395.8 1563.6 395.3 1562.3 394.7 1560.9 394.2 1559.6 393.7 1558.3 393.2 1557.0 392.6 1555.7 392.1 1554.4 391.6 1553.2 391.1 1551.9 390.5 1550.6 390.0 1549.3 389.4 1548.0 388.9 1546.7 388.3 1545.4 387.8 1544.1 387.2 1542.8 386.6 1541.6 386.0 1540.3 385.5 1539.0 384.9 1537.7 384.2 1536.5 383.6 1535.2 383.0 1534.0 382.3 1532.8 381.6 1531.5 381.0 1530.3 380.3 1529.1 379.5 1527.9 378.8 1526.7 378.1 1525.5 377.3 1524.3 376.5 1523.2 375.7 1522.0 374.9 1520.9 374.0 1519.8 373.2 1518.7 372.3 1517.6 371.5 1516.5 370.6 1515.4 369.7 1514.3 368.7 1513.3 367.8 1512.2 366.9 1511.2 365.9 1510.1 365.0 1509.1 364.0 1508.1 363.0 1507.1 362.0 1506.1 361.0 1505.2 360.0 1504.2 358.9 1503.3 357.9 1502.4 356.8 1501.5 355.7 1500.6 354.5 1499.8 353.4 1499.0 352.2 1498.2 351.1 1497.5 349.9 1496.8 348.6 1496.1 347.4 1495.5 346.1 1495.0 344.8 1494.5 343.4 1494.2 342.1 1493.9 340.7 1493.7 339.3 1493.6 338.0 1493.6 336.6 1493.6 335.2 1493.8 333.9 1494.1 332.5 1494.4 331.2 1494.8 329.9 1495.4 328.7 1496.0 327.6 1496.7 326.5 1497.5 325.5 1498.5 324.5 1499.5 323.7 1500.5 322.9 1501.7 322.1 1502.8 321.5 1504.1 320.8 1505.3 320.2 1506.6 319.7 1507.9 319.1 1509.1 318.6 1510.4 318.1 1511.8 317.6 1513.1 317.1 1514.4 316.6 1515.7 316.2 1517.0 315.7 1518.3 315.2 1519.6 314.7 1521.0 314.2 1522.3 313.7 1523.6 313.2 1524.9 312.7 1526.2 312.2 1527.5 311.7 1528.8 311.2 1530.1 310.7 1531.4 310.2 1532.7 309.7 1534.0 309.2 1535.3 308.7 1536.6 308.1 1537.9 307.6 1539.3 307.1 1540.6 306.6 1541.9 306.1 1543.1 305.5 1544.4 304.9 1545.7 304.3 1547.0 303.7 1548.2 303.1 1549.5 302.4 1550.7 301.6 1551.8 300.8 1553.0 299.9 1554.0 299.0 1555.0 297.9 1555.9 296.9 1556.7 295.7 1557.4 294.5 1557.9 293.2 1558.3 291.9 1558.5 290.6 1558.4 289.3 1558.3 288.0 1557.9 286.8 1557.3 285.6 1556.7 284.5 1555.8 283.5 1554.9 282.5 1554.0 281.6 1552.9 280.7 1551.8 279.9 1550.7 279.1 1549.6 278.3 1548.4 277.6 1547.2 276.9 1546.0 276.2 1544.8 275.5 1543.6 274.8 1542.4 274.1 1541.2 273.4 1539.9 272.8 1538.7 272.1 1537.5 271.5 1536.2 270.8 1535.0 270.1 1533.7 269.4 1532.5 268.8 1531.3 268.1 1530.1 267.4 1528.9 266.7 1527.6 266.0 1526.4 265.3 1525.2 264.6 1524.0 263.9 1522.8 263.2 1521.6 262.5 1520.4 261.8 1519.1 261.1 1517.9 260.4 1516.7 259.7 1515.5 258.9 1514.3 258.2 1513.1 257.5 1511.9 256.7 1510.7 256.0 1509.6 255.2 1508.4 254.4 1507.3 253.6 1506.1 252.8 1505.0 251.9 1503.9 251.1 1502.7 250.2 1501.6 249.3 1500.6 248.4 1499.5 247.5 1498.4 246.5 1497.4 245.6 1496.4 244.6 1495.4 243.5 1494.5 242.4 1493.6 241.3 1492.8 240.2 1492.0 239.0 1491.2 237.8 1490.5 236.6 1489.8 235.4 1489.2 234.1 1488.6 232.8 1488.0 231.5 1487.5 230.2 1487.0 228.9 1486.6 227.6 1486.1 226.2 1485.8 224.9 1485.4 223.5 1485.1 222.1 1484.8 220.8 1484.5 219.4 1484.2 218.0 1483.9 216.6 1483.7 215.3 1483.5 213.9 1483.3 212.5 1483.1 211.1 1483.0 209.7 1482.9 208.3 1482.7 206.9 1482.6 205.5 1482.5 204.1 1482.4 202.7 1482.4 201.3 1482.3 199.9 1482.2 198.5 1482.1 197.1 1482.1 195.7 1482.0 194.3 1481.9 192.9 1481.9 191.5 1481.8 190.1 1481.7 188.7 1481.7 187.3 1481.6 185.9 1481.5 184.5 1481.4 183.1 1481.3 181.7 1481.3 180.3 1481.2 178.9 1481.1 177.5 1481.0 176.1 1480.9 174.7 1480.8 173.3 1480.7 171.9 1480.6 170.5 1480.5 169.1 1480.5 167.7 1480.4 166.3 1480.3 164.9 1480.2 163.5 1480.2 162.1 1480.1 160.7 1480.1 159.3 1480.0 157.9 1480.0 156.5 1479.9 155.1 1479.9 153.7 1479.9 152.3 1479.8 150.9 1479.8 149.5 1479.8 148.1 1479.8 146.7 1479.8 145.3 1479.8 143.9 1479.9 142.5 1479.9 141.1 1479.9 139.7 1479.9 138.3 1480.0 136.9 1480.0 135.5 1480.0 134.1 1480.1 132.7 1480.1 131.3 1480.1 129.9 1480.2 128.5 1480.2 127.1 1480.3 125.7 1480.3 124.3 1480.4 122.9 1480.4 121.5 1480.5 120.1 1480.5 118.7 1480.6 117.3 1480.6 115.9 1480.7 114.5 1480.7 113.1 1480.8 111.7 1480.8 110.3 1480.9 108.9 1480.9 107.5 1481.0 106.8 1481.0L106.8 1480.7" stroke="#087808" stroke-width="3.6" fill="none" stroke-linejoin="round" stroke-linecap="round"/>
<rect x="94.9" y="7.7" width="564.3" height="474.1" fill="none" stroke="#000" stroke-width="3.6"/>
<path d="M107.17 483.6v3.3M168.5 483.6v8.8M229.84 483.6v3.3M291.18 483.6v8.8M352.52 483.6v3.3M413.85 483.6v8.8M475.19 483.6v3.3M536.53 483.6v8.8M597.86 483.6v3.3M659.2 483.6v8.8M93.1 481.8h-8.8M93.1 374.05h-8.8M93.1 266.3h-8.8M93.1 158.55h-8.8M93.1 50.8h-8.8M93.1 427.93h-3.3M93.1 320.18h-3.3M93.1 212.42h-3.3M93.1 104.68h-3.3" stroke="#000" stroke-width="3.6" fill="none"/>
<text transform="translate(168 522.3) scale(0.925 1)" text-anchor="middle" class="tk">-0.2</text>
<text transform="translate(290.68 522.3) scale(0.925 1)" text-anchor="middle" class="tk">0.0</text>
<text transform="translate(413.35 522.3) scale(0.925 1)" text-anchor="middle" class="tk">0.2</text>
<text transform="translate(536.03 522.3) scale(0.925 1)" text-anchor="middle" class="tk">0.4</text>
<text transform="translate(658.7 522.3) scale(0.925 1)" text-anchor="middle" class="tk">0.6</text>
<text transform="translate(78.4 491.1) scale(0.925 1)" text-anchor="end" class="tk">-10</text>
<text transform="translate(78.4 383.35) scale(0.925 1)" text-anchor="end" class="tk">-5</text>
<text transform="translate(78.4 275.6) scale(0.925 1)" text-anchor="end" class="tk">0</text>
<text transform="translate(78.4 167.85) scale(0.925 1)" text-anchor="end" class="tk">5</text>
<text transform="translate(78.4 60.1) scale(0.925 1)" text-anchor="end" class="tk">10</text>
<text transform="translate(386.9 558) scale(0.935 1)" text-anchor="middle" class="b">Potential (V vs. Ag/AgCl)</text>
<text transform="translate(44.3 242.25) rotate(-90) scale(0.97 1)" text-anchor="middle" class="yb">Current density (A g<tspan class="sup" dy="-12">-1</tspan><tspan dy="12">)</tspan></text>
<rect x="98.2" y="588" width="559.2" height="487.2" fill="none" stroke="#000" stroke-width="3.6"/>
<path d="M110.36 1077v3.3M171.14 1077v8.8M231.92 1077v3.3M292.7 1077v8.8M353.49 1077v3.3M414.27 1077v8.8M475.05 1077v3.3M535.83 1077v8.8M596.62 1077v3.3M657.4 1077v8.8M96.4 1075.2h-8.8M96.4 1009.36h-8.8M96.4 943.52h-8.8M96.4 877.69h-8.8M96.4 811.85h-8.8M96.4 746.01h-8.8M96.4 680.17h-8.8M96.4 614.34h-8.8M96.4 1042.28h-3.3M96.4 976.44h-3.3M96.4 910.61h-3.3M96.4 844.77h-3.3M96.4 778.93h-3.3M96.4 713.09h-3.3M96.4 647.25h-3.3" stroke="#000" stroke-width="3.6" fill="none"/>
<text transform="translate(170.64 1115.7) scale(0.925 1)" text-anchor="middle" class="tk">-0.2</text>
<text transform="translate(292.2 1115.7) scale(0.925 1)" text-anchor="middle" class="tk">0.0</text>
<text transform="translate(413.77 1115.7) scale(0.925 1)" text-anchor="middle" class="tk">0.2</text>
<text transform="translate(535.33 1115.7) scale(0.925 1)" text-anchor="middle" class="tk">0.4</text>
<text transform="translate(656.9 1115.7) scale(0.925 1)" text-anchor="middle" class="tk">0.6</text>
<text transform="translate(81 1084.5) scale(0.925 1)" text-anchor="end" class="tk">-15</text>
<text transform="translate(81 1018.66) scale(0.925 1)" text-anchor="end" class="tk">-10</text>
<text transform="translate(81 952.82) scale(0.925 1)" text-anchor="end" class="tk">-5</text>
<text transform="translate(81 886.99) scale(0.925 1)" text-anchor="end" class="tk">0</text>
<text transform="translate(81 821.15) scale(0.925 1)" text-anchor="end" class="tk">5</text>
<text transform="translate(81 755.31) scale(0.925 1)" text-anchor="end" class="tk">10</text>
<text transform="translate(81 689.47) scale(0.925 1)" text-anchor="end" class="tk">15</text>
<text transform="translate(81 623.64) scale(0.925 1)" text-anchor="end" class="tk">20</text>
<text transform="translate(380.5 1152.7) scale(0.949 1)" text-anchor="middle" class="b">Potential (V vs. Ag/AgCl)</text>
<text transform="translate(34 829.7) rotate(-90) scale(0.978 1)" text-anchor="middle" class="yb">Current density (A g<tspan class="sup" dy="-12">-1</tspan><tspan dy="12">)</tspan></text>
<rect x="95.5" y="1180.3" width="561.4" height="473.7" fill="none" stroke="#000" stroke-width="3.6"/>
<path d="M107.7 1655.8v3.3M168.73 1655.8v8.8M229.75 1655.8v3.3M290.77 1655.8v8.8M351.79 1655.8v3.3M412.81 1655.8v8.8M473.83 1655.8v3.3M534.86 1655.8v8.8M595.88 1655.8v3.3M656.9 1655.8v8.8M93.7 1635.05h-8.8M93.7 1578.21h-8.8M93.7 1521.36h-8.8M93.7 1464.52h-8.8M93.7 1407.68h-8.8M93.7 1350.83h-8.8M93.7 1293.99h-8.8M93.7 1237.14h-8.8M93.7 1180.3h-8.8M93.7 1606.63h-3.3M93.7 1549.79h-3.3M93.7 1492.94h-3.3M93.7 1436.1h-3.3M93.7 1379.25h-3.3M93.7 1322.41h-3.3M93.7 1265.57h-3.3M93.7 1208.72h-3.3" stroke="#000" stroke-width="3.6" fill="none"/>
<text transform="translate(168.23 1694.5) scale(0.925 1)" text-anchor="middle" class="tk">-0.2</text>
<text transform="translate(290.27 1694.5) scale(0.925 1)" text-anchor="middle" class="tk">0.0</text>
<text transform="translate(412.31 1694.5) scale(0.925 1)" text-anchor="middle" class="tk">0.2</text>
<text transform="translate(534.36 1694.5) scale(0.925 1)" text-anchor="middle" class="tk">0.4</text>
<text transform="translate(656.4 1694.5) scale(0.925 1)" text-anchor="middle" class="tk">0.6</text>
<text transform="translate(77 1644.35) scale(0.925 1)" text-anchor="end" class="tk">-9</text>
<text transform="translate(77 1587.51) scale(0.925 1)" text-anchor="end" class="tk">-6</text>
<text transform="translate(77 1530.66) scale(0.925 1)" text-anchor="end" class="tk">-3</text>
<text transform="translate(77 1473.82) scale(0.925 1)" text-anchor="end" class="tk">0</text>
<text transform="translate(77 1416.98) scale(0.925 1)" text-anchor="end" class="tk">3</text>
<text transform="translate(77 1360.13) scale(0.925 1)" text-anchor="end" class="tk">6</text>
<text transform="translate(77 1303.29) scale(0.925 1)" text-anchor="end" class="tk">9</text>
<text transform="translate(77 1246.44) scale(0.925 1)" text-anchor="end" class="tk">12</text>
<text transform="translate(77 1189.6) scale(0.925 1)" text-anchor="end" class="tk">15</text>
<text transform="translate(375.2 1733.6) scale(0.949 1)" text-anchor="middle" class="b">Potential (V vs. Ag/AgCl)</text>
<text transform="translate(42.3 1416) rotate(-90) scale(0.975 1)" text-anchor="middle" class="yb">Current density (A g<tspan class="sup" dy="-12">-1</tspan><tspan dy="12">)</tspan></text>
<path d="M107 33.1H173.2" stroke="#000" stroke-width="3.6"/>
<text transform="translate(179 41.5) scale(0.89 1)" class="lg">10 mV s<tspan class="lsup" dy="-12">-1</tspan></text>
<path d="M107 71.4H173.2" stroke="#E8403E" stroke-width="3.6"/>
<text transform="translate(179 79.8) scale(0.89 1)" class="lg">50 mV s<tspan class="lsup" dy="-12">-1</tspan></text>
<path d="M107 109.9H173.2" stroke="#D879EE" stroke-width="3.6"/>
<text transform="translate(179 118.3) scale(0.89 1)" class="lg">100 mV s<tspan class="lsup" dy="-12">-1</tspan></text>
<path d="M107 148.9H173.2" stroke="#0505D5" stroke-width="3.6"/>
<text transform="translate(179 157.3) scale(0.89 1)" class="lg">150 mV s<tspan class="lsup" dy="-12">-1</tspan></text>
<path d="M107 187.1H173.2" stroke="#820000" stroke-width="3.6"/>
<text transform="translate(179 195.5) scale(0.89 1)" class="lg">200 mV s<tspan class="lsup" dy="-12">-1</tspan></text>
<path d="M111.2 613.1H178" stroke="#000" stroke-width="3.3"/>
<text transform="translate(184 623.1) scale(0.89 1)" class="lg">10 mV s<tspan class="lsup" dy="-12">-1</tspan></text>
<path d="M111.2 652.6H178" stroke="#0A7A0A" stroke-width="3.3"/>
<text transform="translate(184 662.6) scale(0.89 1)" class="lg">50 mV s<tspan class="lsup" dy="-12">-1</tspan></text>
<path d="M111.2 691.2H178" stroke="#E9B040" stroke-width="3.3"/>
<text transform="translate(184 701.2) scale(0.89 1)" class="lg">100 mV s<tspan class="lsup" dy="-12">-1</tspan></text>
<path d="M111.2 730.3H178" stroke="#1025B8" stroke-width="3.3"/>
<text transform="translate(184 740.3) scale(0.89 1)" class="lg">150 mV s<tspan class="lsup" dy="-12">-1</tspan></text>
<path d="M111.2 768.2H178" stroke="#820A0A" stroke-width="3.3"/>
<text transform="translate(184 778.2) scale(0.89 1)" class="lg">200 mV s<tspan class="lsup" dy="-12">-1</tspan></text>
<path d="M104.7 1210H170" stroke="#000" stroke-width="3.6"/>
<text transform="translate(175.5 1220) scale(0.95 1)" class="lg30">Pure Ni foam</text>
<path d="M104.7 1245.6H170" stroke="#E00808" stroke-width="3.6"/>
<text transform="translate(175.5 1255.6) scale(0.95 1)" class="lg30">NiO/Ni foam</text>
<path d="M104.7 1281H170" stroke="#087008" stroke-width="3.6"/>
<text transform="translate(175.5 1291) scale(0.95 1)" class="lg30">AgCu:NiO/Ni foam</text>
<text x="401" y="45.5" text-anchor="middle" class="p">(a)</text>
<text x="407.6" y="623.6" text-anchor="middle" class="p">(b)</text>
<text x="399.7" y="1212" text-anchor="middle" class="p" style="font-size:34px">(c)</text>
</svg></body></html>
